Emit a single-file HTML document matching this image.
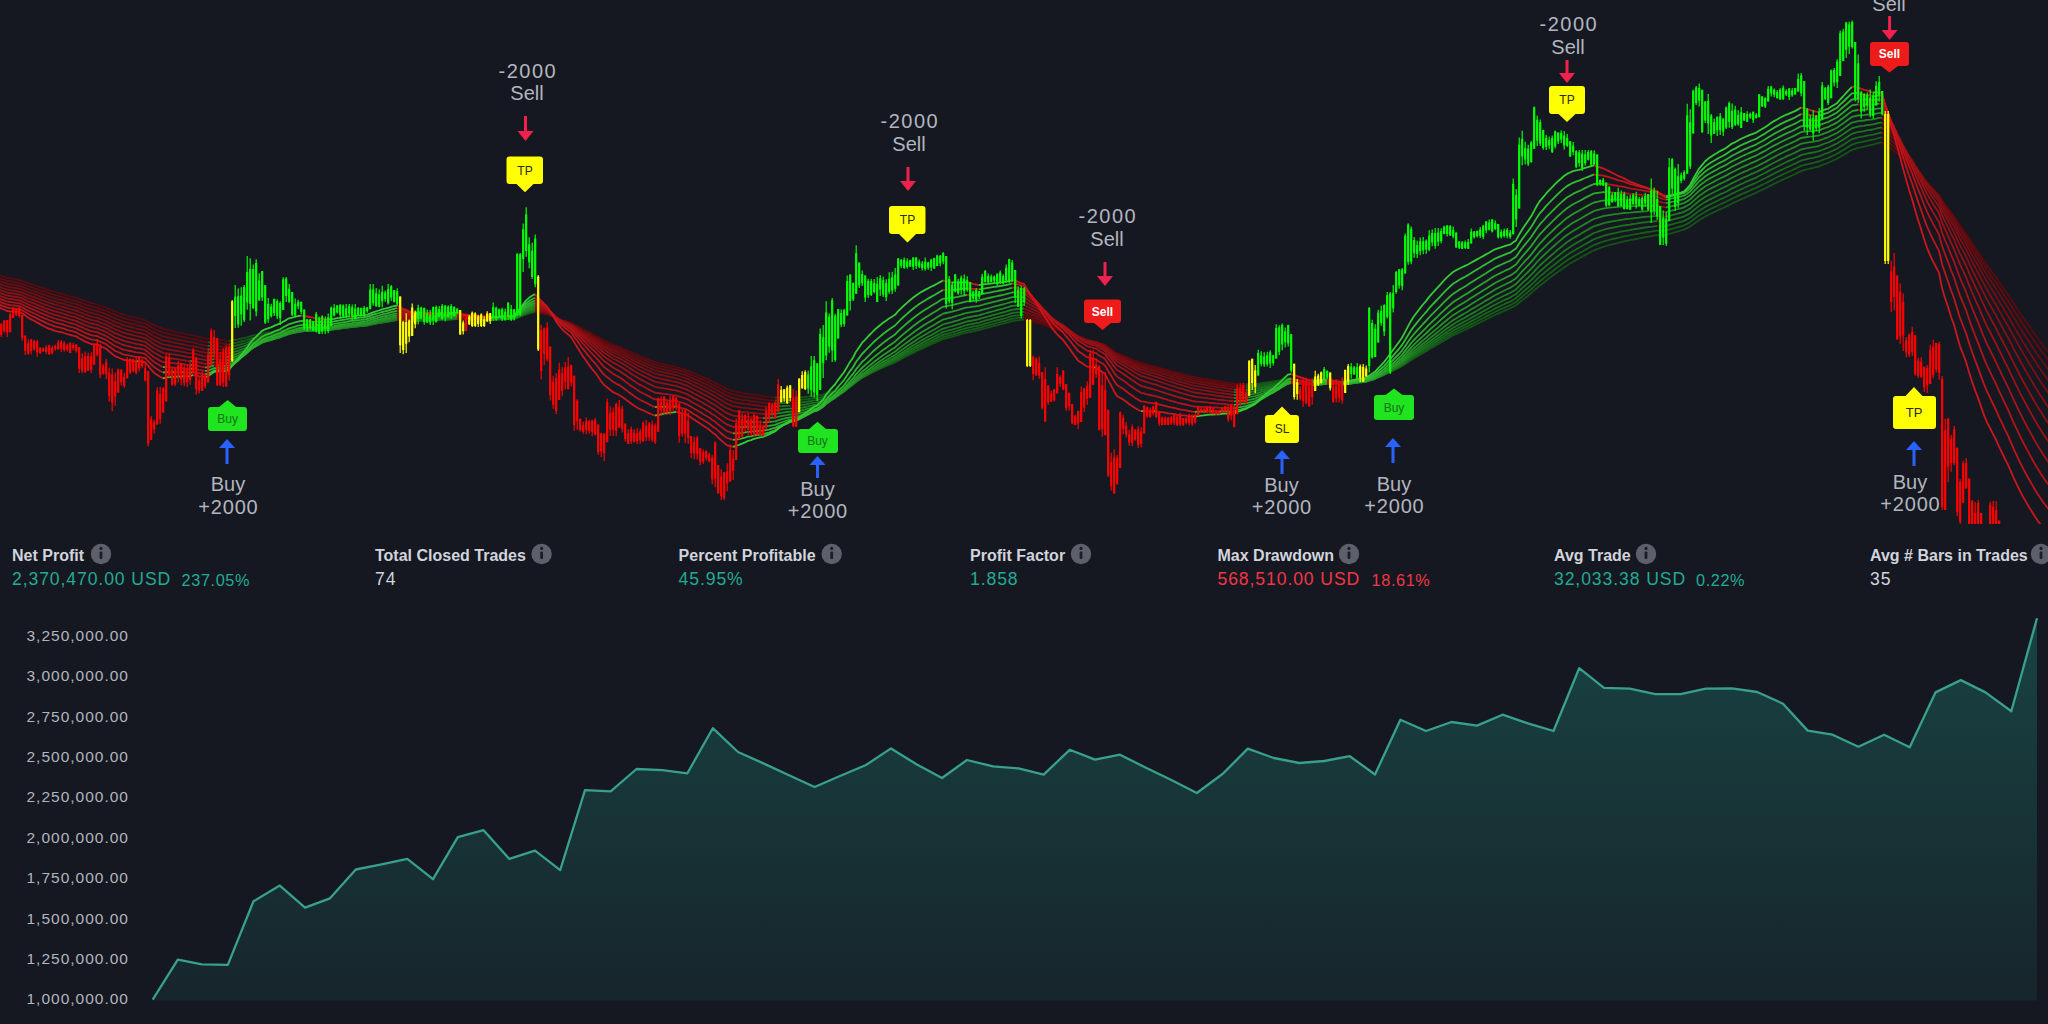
<!DOCTYPE html>
<html><head><meta charset="utf-8"><style>
html,body{margin:0;padding:0;background:#151821;}
body{width:2048px;height:1024px;overflow:hidden;}
svg{display:block;}
text{font-family:"Liberation Sans",sans-serif;}
.lt{font-size:20px;fill:#b2b5be;text-anchor:middle;}
.bt{text-anchor:middle;}
.yl{font-size:15.5px;fill:#b2b5be;text-anchor:end;letter-spacing:1.0px;}
.st{font-size:16px;font-weight:bold;fill:#d1d4dc;}
.sv{font-size:17.6px;letter-spacing:0.9px;}
.sv2{font-size:16.3px;letter-spacing:0.6px;}
</style></head><body>
<svg width="2048" height="1024" viewBox="0 0 2048 1024">
<defs>
<clipPath id="pane"><rect x="0" y="0" width="2048" height="524"/></clipPath>
<linearGradient id="eqg" x1="0" y1="0" x2="0" y2="1"><stop offset="0" stop-color="#22ab94" stop-opacity="0.29"/><stop offset="1" stop-color="#22ab94" stop-opacity="0.09"/></linearGradient>
</defs>
<rect width="2048" height="1024" fill="#151821"/>
<g clip-path="url(#pane)">
<g fill="none" stroke-width="1.8" stroke-linejoin="round"><polyline points="0.0,275.0 1.0,275.9 4.0,276.7 7.0,277.6 10.0,278.3 13.0,278.8 16.0,279.4 19.0,280.0 22.0,280.9 25.0,281.9 28.0,283.1 31.0,284.0 34.0,285.0 37.0,286.0 40.0,287.1 43.0,288.1 46.0,289.1 49.0,290.1 52.0,291.0 55.0,291.9 58.0,292.7 61.0,293.5 64.0,294.4 67.0,295.3 70.0,296.1 73.0,296.9 76.0,297.7 79.0,298.9 82.0,299.9 85.0,301.0 88.0,302.0 91.0,303.0 94.0,303.7 97.0,304.4 100.0,305.5 103.0,306.5 106.0,307.5 109.0,308.8 112.0,310.1 115.0,311.5 118.0,312.5 121.0,313.6 124.0,314.7 127.0,315.5 130.0,316.3 133.0,317.1 136.0,317.9 139.0,318.6 142.0,319.4 145.0,320.2 148.0,321.8 151.0,323.5 154.0,325.1 157.0,326.4 160.0,327.7 163.0,328.9 166.0,329.5 169.0,330.2 172.0,331.0 175.0,331.6 178.0,332.3 181.0,333.0 184.0,333.6 187.0,334.4 190.0,335.0 193.0,335.4 196.0,336.1 199.0,337.0 202.0,337.7 205.0,338.4 208.0,338.9 211.0,338.9" stroke="#580a0e"/><polyline points="211.0,338.9 214.0,338.9" stroke="#135416"/><polyline points="214.0,338.9 217.0,339.4 220.0,339.8 223.0,340.4 226.0,340.8 229.0,341.0" stroke="#580a0e"/><polyline points="229.0,341.0 232.0,340.4 235.0,339.8 238.0,339.4 241.0,338.7 244.0,338.1 247.0,337.3 250.0,336.3 253.0,335.4 256.0,334.8 259.0,334.1 262.0,333.3 265.0,332.8 268.0,332.5 271.0,332.2 274.0,331.7 277.0,331.3 280.0,330.9 283.0,330.3 286.0,329.7 289.0,329.1 292.0,328.8 295.0,328.4 298.0,328.0 301.0,327.7 304.0,327.6 307.0,327.5 310.0,327.5 313.0,327.5 316.0,327.5 319.0,327.4 322.0,327.3 325.0,327.3 328.0,327.3 331.0,327.1 334.0,326.8 337.0,326.5 340.0,326.3 343.0,326.0 346.0,325.7 349.0,325.4 352.0,325.3 355.0,325.1 358.0,324.9 361.0,324.7 364.0,324.4 367.0,324.2 370.0,323.7 373.0,323.2 376.0,322.8 379.0,322.4 382.0,321.9 385.0,321.5 388.0,321.1 391.0,320.6 394.0,320.2 397.0,319.8" stroke="#135416"/><polyline points="397.0,319.8 400.0,320.1 403.0,320.2 406.0,320.3 409.0,320.5 412.0,320.6" stroke="#580a0e"/><polyline points="412.0,320.6 415.0,320.5 418.0,320.4 421.0,320.2 424.0,320.2 427.0,320.1 430.0,320.0 433.0,320.0 436.0,319.9 439.0,319.8 442.0,319.6 445.0,319.5 448.0,319.4 451.0,319.3 454.0,319.1 457.0,319.0" stroke="#135416"/><polyline points="457.0,319.0 460.0,319.1 463.0,319.3 466.0,319.3 469.0,319.4" stroke="#580a0e"/><polyline points="469.0,319.4 472.0,319.3" stroke="#135416"/><polyline points="472.0,319.3 475.0,319.4 478.0,319.5 481.0,319.5" stroke="#580a0e"/><polyline points="481.0,319.5 484.0,319.5 487.0,319.5" stroke="#135416"/><polyline points="487.0,319.5 490.0,319.5" stroke="#580a0e"/><polyline points="490.0,319.5 493.0,319.5 496.0,319.4 499.0,319.3 502.0,319.2 505.0,319.1 508.0,319.1 511.0,318.9 514.0,318.9 517.0,317.8 520.0,316.7 523.0,315.6 526.0,314.4 529.0,313.4 532.0,312.6 535.0,311.9" stroke="#135416"/><polyline points="535.0,311.9 538.0,312.6 541.0,313.1 544.0,313.7 547.0,314.2 550.0,315.4 553.0,316.5 556.0,317.9 559.0,319.0 562.0,320.1 565.0,321.0 568.0,321.8 571.0,322.7 574.0,324.2 577.0,325.7 580.0,327.3 583.0,329.0 586.0,330.5 589.0,332.1 592.0,333.7 595.0,335.2 598.0,336.9 601.0,338.7 604.0,340.4 607.0,341.7 610.0,343.1 613.0,344.5 616.0,345.6 619.0,346.8 622.0,348.0 625.0,349.4 628.0,350.8 631.0,352.2 634.0,353.5 637.0,354.9 640.0,356.2 643.0,357.4 646.0,358.6 649.0,359.8 652.0,361.0 655.0,362.2 658.0,362.8 661.0,363.6 664.0,364.2 667.0,364.9 670.0,365.6 673.0,366.2 676.0,366.9 679.0,367.8 682.0,368.7 685.0,369.6 688.0,370.7 691.0,371.9 694.0,373.3 697.0,374.5 700.0,375.8 703.0,377.1 706.0,378.4 709.0,379.7 712.0,381.2 715.0,382.6 718.0,384.2 721.0,385.8 724.0,387.4 727.0,389.0 730.0,390.0 733.0,391.2 736.0,391.8 739.0,392.4 742.0,393.0 745.0,393.5 748.0,393.9 751.0,394.4 754.0,394.9 757.0,395.4 760.0,395.9 763.0,396.4 766.0,396.7 769.0,397.1 772.0,397.3 775.0,397.5" stroke="#580a0e"/><polyline points="775.0,397.5 778.0,397.3 781.0,397.3 784.0,397.2" stroke="#135416"/><polyline points="784.0,397.2 787.0,397.3" stroke="#580a0e"/><polyline points="787.0,397.3 790.0,397.2" stroke="#135416"/><polyline points="790.0,397.2 793.0,397.3 796.0,397.6" stroke="#580a0e"/><polyline points="796.0,397.6 799.0,397.4 802.0,397.2 805.0,397.0 808.0,396.6 811.0,396.3 814.0,395.9 817.0,395.8 820.0,395.2 823.0,394.6 826.0,393.3 829.0,392.4 832.0,391.5 835.0,390.6 838.0,389.4 841.0,388.2 844.0,387.0 847.0,385.4 850.0,383.8 853.0,382.3 856.0,380.4 859.0,378.8 862.0,377.1 865.0,375.7 868.0,374.3 871.0,372.9 874.0,371.4 877.0,370.1 880.0,368.7 883.0,367.4 886.0,366.1 889.0,364.8 892.0,363.6 895.0,362.3 898.0,360.7 901.0,359.1 904.0,357.5 907.0,356.0 910.0,354.4 913.0,352.9 916.0,351.4 919.0,350.0 922.0,348.6 925.0,347.2 928.0,345.9 931.0,344.5 934.0,343.2 937.0,341.9 940.0,340.5 943.0,339.1 946.0,338.3 949.0,337.6 952.0,336.8 955.0,335.9 958.0,335.1 961.0,334.2 964.0,333.4 967.0,332.5 970.0,332.0 973.0,331.3 976.0,330.7 979.0,330.1 982.0,329.2 985.0,328.4 988.0,327.6 991.0,326.8 994.0,326.0 997.0,325.3 1000.0,324.5 1003.0,323.7 1006.0,322.9 1009.0,322.1 1012.0,321.2 1015.0,320.7 1018.0,320.3 1021.0,320.0 1024.0,319.6" stroke="#135416"/><polyline points="1024.0,319.6 1027.0,320.4 1030.0,321.1 1033.0,321.8 1036.0,322.6 1039.0,323.4 1042.0,324.5 1045.0,325.5 1048.0,326.6 1051.0,327.8 1054.0,328.8 1057.0,329.8 1060.0,330.6 1063.0,331.4 1066.0,332.6 1069.0,333.8 1072.0,335.2 1075.0,336.5 1078.0,337.9 1081.0,338.8 1084.0,339.7 1087.0,340.7 1090.0,341.2 1093.0,341.8 1096.0,342.1 1099.0,343.3 1102.0,344.1 1105.0,345.2 1108.0,347.2 1111.0,349.1 1114.0,351.3 1117.0,353.2 1120.0,354.3 1123.0,355.4 1126.0,356.7 1129.0,358.0 1132.0,359.3 1135.0,360.6 1138.0,361.8 1141.0,363.0 1144.0,363.7 1147.0,364.6 1150.0,365.3 1153.0,366.1 1156.0,366.8 1159.0,367.7 1162.0,368.5 1165.0,369.3 1168.0,370.2 1171.0,371.0 1174.0,371.8 1177.0,372.6 1180.0,373.4 1183.0,374.2 1186.0,374.9 1189.0,375.7 1192.0,376.5 1195.0,377.1 1198.0,377.6 1201.0,378.2 1204.0,378.7 1207.0,379.2 1210.0,379.7 1213.0,380.2 1216.0,380.7 1219.0,381.2 1222.0,381.7 1225.0,382.2 1228.0,382.6 1231.0,383.1 1234.0,383.6 1237.0,383.7 1240.0,383.9 1243.0,384.1 1246.0,384.2" stroke="#580a0e"/><polyline points="1246.0,384.2 1249.0,384.2 1252.0,384.1 1255.0,384.0 1258.0,383.6 1261.0,383.2 1264.0,382.7 1267.0,382.3 1270.0,381.9 1273.0,381.5 1276.0,380.9 1279.0,380.3 1282.0,379.5 1285.0,378.8 1288.0,378.1 1291.0,377.8" stroke="#135416"/><polyline points="1291.0,377.8 1294.0,378.1 1297.0,378.3 1300.0,378.5 1303.0,378.8 1306.0,379.0 1309.0,379.3 1312.0,379.4" stroke="#580a0e"/><polyline points="1312.0,379.4 1315.0,379.4" stroke="#135416"/><polyline points="1315.0,379.4 1318.0,379.4 1321.0,379.4" stroke="#580a0e"/><polyline points="1321.0,379.4 1324.0,379.3 1327.0,379.2" stroke="#135416"/><polyline points="1327.0,379.2 1330.0,379.3 1333.0,379.5 1336.0,379.6 1339.0,379.8 1342.0,380.0" stroke="#580a0e"/><polyline points="1342.0,380.0 1345.0,379.9 1348.0,379.9 1351.0,379.6 1354.0,379.5 1357.0,379.3 1360.0,379.2 1363.0,379.1 1366.0,378.9 1369.0,378.4 1372.0,377.8 1375.0,377.2 1378.0,376.3 1381.0,375.4 1384.0,374.4 1387.0,373.1 1390.0,371.8 1393.0,370.5 1396.0,369.1 1399.0,367.7 1402.0,366.2 1405.0,364.2 1408.0,362.2 1411.0,360.2 1414.0,358.4 1417.0,356.6 1420.0,354.9 1423.0,353.1 1426.0,351.5 1429.0,349.6 1432.0,347.8 1435.0,346.1 1438.0,344.3 1441.0,342.6 1444.0,340.7 1447.0,339.0 1450.0,337.2 1453.0,335.5 1456.0,334.1 1459.0,332.6 1462.0,331.2 1465.0,329.8 1468.0,328.4 1471.0,326.9 1474.0,325.4 1477.0,323.9 1480.0,322.5 1483.0,321.0 1486.0,319.5 1489.0,318.0 1492.0,316.5 1495.0,315.0 1498.0,313.6 1501.0,312.3 1504.0,311.0 1507.0,309.7 1510.0,308.5 1513.0,306.9 1516.0,305.3 1519.0,302.8 1522.0,300.4 1525.0,298.1 1528.0,295.8 1531.0,293.4 1534.0,290.7 1537.0,288.0 1540.0,285.4 1543.0,283.2 1546.0,280.8 1549.0,278.5 1552.0,276.3 1555.0,274.0 1558.0,271.8 1561.0,269.7 1564.0,267.5 1567.0,265.4 1570.0,263.6 1573.0,261.8 1576.0,260.1 1579.0,258.5 1582.0,256.8 1585.0,255.1 1588.0,253.5 1591.0,251.8 1594.0,250.3 1597.0,249.1 1600.0,248.0 1603.0,247.0 1606.0,246.0 1609.0,245.2 1612.0,244.4 1615.0,243.6 1618.0,242.9 1621.0,242.1 1624.0,241.4 1627.0,240.8 1630.0,240.2 1633.0,239.6 1636.0,239.0 1639.0,238.4 1642.0,237.8 1645.0,237.2 1648.0,236.6 1651.0,236.2 1654.0,235.7 1657.0,235.2 1660.0,235.1 1663.0,235.0 1666.0,234.8 1669.0,234.0 1672.0,233.1 1675.0,232.2 1678.0,231.3 1681.0,230.5 1684.0,229.6 1687.0,228.1 1690.0,226.6 1693.0,224.4 1696.0,222.3 1699.0,220.2 1702.0,218.4 1705.0,216.6 1708.0,215.0 1711.0,213.5 1714.0,212.1 1717.0,210.7 1720.0,209.3 1723.0,208.0 1726.0,206.6 1729.0,205.1 1732.0,203.5 1735.0,202.2 1738.0,200.8 1741.0,199.3 1744.0,198.0 1747.0,196.7 1750.0,195.4 1753.0,194.1 1756.0,192.8 1759.0,191.3 1762.0,189.9 1765.0,188.5 1768.0,186.9 1771.0,185.4 1774.0,183.9 1777.0,182.4 1780.0,181.0 1783.0,179.5 1786.0,178.1 1789.0,176.8 1792.0,175.5 1795.0,174.1 1798.0,172.6 1801.0,171.1 1804.0,170.2 1807.0,169.4 1810.0,168.7 1813.0,168.0 1816.0,167.2 1819.0,166.5 1822.0,165.2 1825.0,164.0 1828.0,163.0 1831.0,161.5 1834.0,160.2 1837.0,158.8 1840.0,157.0 1843.0,155.3 1846.0,153.4 1849.0,151.6 1852.0,149.8 1855.0,148.8 1858.0,147.9 1861.0,147.3 1864.0,146.6 1867.0,145.8 1870.0,145.2 1873.0,144.6 1876.0,143.7 1879.0,142.9 1882.0,142.3" stroke="#135416"/><polyline points="1882.0,142.3 1885.0,144.3 1888.0,146.2 1891.0,148.7 1894.0,150.7 1897.0,153.4 1900.0,156.1 1903.0,159.1 1906.0,162.0 1909.0,165.1 1912.0,167.8 1915.0,171.1 1918.0,174.4 1921.0,177.5 1924.0,180.9 1927.0,184.2 1930.0,187.1 1933.0,189.9 1936.0,192.5 1939.0,195.3 1942.0,200.4 1945.0,204.5 1948.0,208.3 1951.0,212.4 1954.0,216.2 1957.0,220.9 1960.0,225.5 1963.0,229.5 1966.0,233.5 1969.0,238.3 1972.0,242.9 1975.0,247.4 1978.0,251.7 1981.0,256.4 1984.0,261.0 1987.0,265.4 1990.0,269.5 1993.0,273.6 1996.0,277.6 1999.0,282.1 2002.0,286.3 2005.0,290.7 2008.0,294.9 2011.0,299.5 2014.0,304.1 2017.0,308.6 2020.0,313.0 2023.0,317.4 2026.0,321.7 2029.0,325.9 2032.0,330.1 2035.0,334.4 2038.0,338.5 2041.0,342.4 2044.0,346.4 2047.0,350.2 2050.0,353.9" stroke="#580a0e"/><polyline points="0.0,277.9 1.0,278.8 4.0,279.6 7.0,280.6 10.0,281.2 13.0,281.8 16.0,282.3 19.0,282.9 22.0,283.8 25.0,284.9 28.0,286.0 31.0,287.0 34.0,288.0 37.0,289.1 40.0,290.1 43.0,291.2 46.0,292.2 49.0,293.2 52.0,294.1 55.0,295.0 58.0,295.9 61.0,296.7 64.0,297.5 67.0,298.4 70.0,299.3 73.0,300.1 76.0,300.9 79.0,302.1 82.0,303.1 85.0,304.3 88.0,305.2 91.0,306.2 94.0,307.0 97.0,307.6 100.0,308.8 103.0,309.8 106.0,310.8 109.0,312.2 112.0,313.5 115.0,314.9 118.0,316.0 121.0,317.1 124.0,318.2 127.0,319.0 130.0,319.8 133.0,320.6 136.0,321.4 139.0,322.1 142.0,322.8 145.0,323.7 148.0,325.4 151.0,327.0 154.0,328.7 157.0,330.1 160.0,331.4 163.0,332.7 166.0,333.2 169.0,333.9 172.0,334.6 175.0,335.3 178.0,335.9 181.0,336.6 184.0,337.2 187.0,337.9 190.0,338.6 193.0,338.9 196.0,339.7 199.0,340.5 202.0,341.2 205.0,342.0 208.0,342.4" stroke="#620b0f"/><polyline points="208.0,342.4 211.0,342.4 214.0,342.3" stroke="#165e18"/><polyline points="214.0,342.3 217.0,342.7 220.0,343.1 223.0,343.7 226.0,344.0 229.0,344.3" stroke="#620b0f"/><polyline points="229.0,344.3 232.0,343.5 235.0,342.9 238.0,342.3 241.0,341.5 244.0,340.8 247.0,340.0 250.0,338.8 253.0,337.8 256.0,337.1 259.0,336.3 262.0,335.4 265.0,334.9 268.0,334.5 271.0,334.2 274.0,333.6 277.0,333.1 280.0,332.7 283.0,332.0 286.0,331.4 289.0,330.7 292.0,330.3 295.0,329.8 298.0,329.4 301.0,329.1 304.0,328.9 307.0,328.8 310.0,328.8 313.0,328.8 316.0,328.7 319.0,328.6 322.0,328.5 325.0,328.4 328.0,328.4 331.0,328.1 334.0,327.9 337.0,327.5 340.0,327.3 343.0,327.0 346.0,326.6 349.0,326.3 352.0,326.1 355.0,325.9 358.0,325.6 361.0,325.4 364.0,325.2 367.0,324.9 370.0,324.4 373.0,323.8 376.0,323.3 379.0,322.9 382.0,322.4 385.0,321.9 388.0,321.5 391.0,321.0 394.0,320.5 397.0,320.1" stroke="#165e18"/><polyline points="397.0,320.1 400.0,320.3 403.0,320.5 406.0,320.6 409.0,320.8 412.0,320.9" stroke="#620b0f"/><polyline points="412.0,320.9 415.0,320.8 418.0,320.6 421.0,320.5 424.0,320.4 427.0,320.4 430.0,320.3 433.0,320.2 436.0,320.2 439.0,320.0 442.0,319.8 445.0,319.7 448.0,319.6 451.0,319.4 454.0,319.3 457.0,319.1" stroke="#165e18"/><polyline points="457.0,319.1 460.0,319.2 463.0,319.4 466.0,319.5 469.0,319.5" stroke="#620b0f"/><polyline points="469.0,319.5 472.0,319.5" stroke="#165e18"/><polyline points="472.0,319.5 475.0,319.5 478.0,319.6 481.0,319.7" stroke="#620b0f"/><polyline points="481.0,319.7 484.0,319.7 487.0,319.6" stroke="#165e18"/><polyline points="487.0,319.6 490.0,319.7" stroke="#620b0f"/><polyline points="490.0,319.7 493.0,319.6 496.0,319.5 499.0,319.4 502.0,319.3 505.0,319.2 508.0,319.2 511.0,319.0 514.0,319.0 517.0,317.8 520.0,316.7 523.0,315.4 526.0,314.2 529.0,313.1 532.0,312.3 535.0,311.5" stroke="#165e18"/><polyline points="535.0,311.5 538.0,312.2 541.0,312.8 544.0,313.5 547.0,314.0 550.0,315.3 553.0,316.5 556.0,317.9 559.0,319.2 562.0,320.3 565.0,321.2 568.0,322.1 571.0,323.1 574.0,324.7 577.0,326.3 580.0,328.0 583.0,329.8 586.0,331.4 589.0,333.1 592.0,334.8 595.0,336.4 598.0,338.2 601.0,340.1 604.0,341.9 607.0,343.3 610.0,344.7 613.0,346.2 616.0,347.4 619.0,348.6 622.0,349.9 625.0,351.3 628.0,352.8 631.0,354.2 634.0,355.7 637.0,357.1 640.0,358.5 643.0,359.7 646.0,360.9 649.0,362.2 652.0,363.5 655.0,364.7 658.0,365.3 661.0,366.1 664.0,366.7 667.0,367.4 670.0,368.1 673.0,368.8 676.0,369.4 679.0,370.3 682.0,371.2 685.0,372.1 688.0,373.3 691.0,374.6 694.0,376.0 697.0,377.2 700.0,378.6 703.0,379.9 706.0,381.3 709.0,382.6 712.0,384.2 715.0,385.6 718.0,387.3 721.0,389.0 724.0,390.6 727.0,392.2 730.0,393.3 733.0,394.5 736.0,395.1 739.0,395.7 742.0,396.3 745.0,396.7 748.0,397.1 751.0,397.6 754.0,398.0 757.0,398.5 760.0,399.0 763.0,399.5 766.0,399.8 769.0,400.1 772.0,400.3 775.0,400.5" stroke="#620b0f"/><polyline points="775.0,400.5 778.0,400.3 781.0,400.1 784.0,400.1 787.0,400.0 790.0,399.9" stroke="#165e18"/><polyline points="790.0,399.9 793.0,400.0 796.0,400.2" stroke="#620b0f"/><polyline points="796.0,400.2 799.0,400.0 802.0,399.7 805.0,399.4 808.0,399.1 811.0,398.6 814.0,398.1 817.0,398.0 820.0,397.4 823.0,396.7 826.0,395.3 829.0,394.2 832.0,393.2 835.0,392.3 838.0,390.9 841.0,389.6 844.0,388.3 847.0,386.6 850.0,384.8 853.0,383.2 856.0,381.1 859.0,379.4 862.0,377.6 865.0,376.1 868.0,374.5 871.0,373.0 874.0,371.5 877.0,370.0 880.0,368.6 883.0,367.1 886.0,365.8 889.0,364.4 892.0,363.1 895.0,361.7 898.0,360.0 901.0,358.3 904.0,356.6 907.0,355.0 910.0,353.4 913.0,351.8 916.0,350.2 919.0,348.7 922.0,347.2 925.0,345.7 928.0,344.3 931.0,342.9 934.0,341.5 937.0,340.1 940.0,338.7 943.0,337.2 946.0,336.4 949.0,335.6 952.0,334.9 955.0,333.9 958.0,333.1 961.0,332.2 964.0,331.3 967.0,330.4 970.0,329.9 973.0,329.2 976.0,328.6 979.0,328.0 982.0,327.1 985.0,326.2 988.0,325.4 991.0,324.6 994.0,323.8 997.0,323.0 1000.0,322.2 1003.0,321.4 1006.0,320.6 1009.0,319.7 1012.0,318.9 1015.0,318.4 1018.0,317.9 1021.0,317.7 1024.0,317.3" stroke="#165e18"/><polyline points="1024.0,317.3 1027.0,318.2 1030.0,319.0 1033.0,319.8 1036.0,320.7 1039.0,321.6 1042.0,322.8 1045.0,323.9 1048.0,325.1 1051.0,326.4 1054.0,327.5 1057.0,328.5 1060.0,329.4 1063.0,330.4 1066.0,331.7 1069.0,332.9 1072.0,334.4 1075.0,335.9 1078.0,337.4 1081.0,338.4 1084.0,339.4 1087.0,340.4 1090.0,340.9 1093.0,341.6 1096.0,342.0 1099.0,343.2 1102.0,344.1 1105.0,345.2 1108.0,347.4 1111.0,349.4 1114.0,351.7 1117.0,353.8 1120.0,355.0 1123.0,356.2 1126.0,357.5 1129.0,359.0 1132.0,360.3 1135.0,361.7 1138.0,363.0 1141.0,364.2 1144.0,365.0 1147.0,365.8 1150.0,366.6 1153.0,367.4 1156.0,368.2 1159.0,369.1 1162.0,369.9 1165.0,370.8 1168.0,371.7 1171.0,372.5 1174.0,373.4 1177.0,374.2 1180.0,375.1 1183.0,375.8 1186.0,376.6 1189.0,377.4 1192.0,378.2 1195.0,378.9 1198.0,379.4 1201.0,379.9 1204.0,380.5 1207.0,380.9 1210.0,381.5 1213.0,382.0 1216.0,382.5 1219.0,383.1 1222.0,383.5 1225.0,384.0 1228.0,384.4 1231.0,384.9 1234.0,385.4 1237.0,385.5 1240.0,385.7 1243.0,385.8 1246.0,386.0" stroke="#620b0f"/><polyline points="1246.0,386.0 1249.0,385.9 1252.0,385.8 1255.0,385.6 1258.0,385.2 1261.0,384.7 1264.0,384.2 1267.0,383.7 1270.0,383.2 1273.0,382.8 1276.0,382.1 1279.0,381.4 1282.0,380.6 1285.0,379.8 1288.0,379.0 1291.0,378.7" stroke="#165e18"/><polyline points="1291.0,378.7 1294.0,379.0 1297.0,379.2 1300.0,379.4 1303.0,379.7 1306.0,380.0 1309.0,380.2 1312.0,380.4" stroke="#620b0f"/><polyline points="1312.0,380.4 1315.0,380.3 1318.0,380.3 1321.0,380.3 1324.0,380.1 1327.0,380.0" stroke="#165e18"/><polyline points="1327.0,380.0 1330.0,380.1 1333.0,380.3 1336.0,380.5 1339.0,380.6 1342.0,380.9" stroke="#620b0f"/><polyline points="1342.0,380.9 1345.0,380.7 1348.0,380.6 1351.0,380.4 1354.0,380.2 1357.0,380.0 1360.0,379.8 1363.0,379.7 1366.0,379.6 1369.0,379.0 1372.0,378.4 1375.0,377.7 1378.0,376.7 1381.0,375.7 1384.0,374.6 1387.0,373.3 1390.0,371.9 1393.0,370.4 1396.0,368.9 1399.0,367.4 1402.0,365.8 1405.0,363.7 1408.0,361.6 1411.0,359.5 1414.0,357.5 1417.0,355.6 1420.0,353.8 1423.0,352.0 1426.0,350.2 1429.0,348.2 1432.0,346.3 1435.0,344.5 1438.0,342.6 1441.0,340.7 1444.0,338.8 1447.0,337.0 1450.0,335.1 1453.0,333.4 1456.0,331.8 1459.0,330.3 1462.0,328.8 1465.0,327.4 1468.0,325.9 1471.0,324.4 1474.0,322.8 1477.0,321.3 1480.0,319.7 1483.0,318.2 1486.0,316.6 1489.0,315.1 1492.0,313.5 1495.0,312.0 1498.0,310.6 1501.0,309.2 1504.0,307.9 1507.0,306.5 1510.0,305.3 1513.0,303.6 1516.0,302.0 1519.0,299.3 1522.0,296.8 1525.0,294.4 1528.0,292.0 1531.0,289.5 1534.0,286.7 1537.0,283.8 1540.0,281.2 1543.0,278.8 1546.0,276.4 1549.0,274.0 1552.0,271.7 1555.0,269.3 1558.0,267.0 1561.0,264.8 1564.0,262.6 1567.0,260.5 1570.0,258.6 1573.0,256.7 1576.0,255.0 1579.0,253.4 1582.0,251.7 1585.0,249.9 1588.0,248.3 1591.0,246.6 1594.0,245.0 1597.0,243.9 1600.0,242.8 1603.0,241.7 1606.0,240.8 1609.0,240.0 1612.0,239.2 1615.0,238.5 1618.0,237.8 1621.0,237.1 1624.0,236.4 1627.0,235.9 1630.0,235.3 1633.0,234.7 1636.0,234.1 1639.0,233.6 1642.0,233.0 1645.0,232.5 1648.0,232.0 1651.0,231.6 1654.0,231.1 1657.0,230.7 1660.0,230.7 1663.0,230.6 1666.0,230.4 1669.0,229.7 1672.0,228.8 1675.0,228.0 1678.0,227.1 1681.0,226.3 1684.0,225.3 1687.0,223.9 1690.0,222.3 1693.0,220.0 1696.0,217.8 1699.0,215.6 1702.0,213.8 1705.0,211.9 1708.0,210.3 1711.0,208.8 1714.0,207.4 1717.0,206.0 1720.0,204.5 1723.0,203.2 1726.0,201.8 1729.0,200.2 1732.0,198.7 1735.0,197.3 1738.0,195.9 1741.0,194.4 1744.0,193.1 1747.0,191.8 1750.0,190.5 1753.0,189.2 1756.0,187.9 1759.0,186.4 1762.0,184.9 1765.0,183.5 1768.0,181.9 1771.0,180.4 1774.0,178.8 1777.0,177.3 1780.0,175.9 1783.0,174.4 1786.0,173.0 1789.0,171.7 1792.0,170.3 1795.0,168.9 1798.0,167.4 1801.0,165.9 1804.0,165.1 1807.0,164.3 1810.0,163.6 1813.0,163.0 1816.0,162.2 1819.0,161.5 1822.0,160.2 1825.0,159.0 1828.0,158.0 1831.0,156.6 1834.0,155.2 1837.0,153.8 1840.0,151.9 1843.0,150.2 1846.0,148.3 1849.0,146.4 1852.0,144.6 1855.0,143.6 1858.0,142.7 1861.0,142.1 1864.0,141.5 1867.0,140.8 1870.0,140.2 1873.0,139.6 1876.0,138.8 1879.0,137.9 1882.0,137.4" stroke="#165e18"/><polyline points="1882.0,137.4 1885.0,139.6 1888.0,141.8 1891.0,144.5 1894.0,146.8 1897.0,149.7 1900.0,152.6 1903.0,155.9 1906.0,159.2 1909.0,162.4 1912.0,165.4 1915.0,169.0 1918.0,172.6 1921.0,176.0 1924.0,179.7 1927.0,183.2 1930.0,186.3 1933.0,189.3 1936.0,192.1 1939.0,195.1 1942.0,200.6 1945.0,205.0 1948.0,209.0 1951.0,213.4 1954.0,217.5 1957.0,222.5 1960.0,227.4 1963.0,231.6 1966.0,235.9 1969.0,241.0 1972.0,245.9 1975.0,250.7 1978.0,255.3 1981.0,260.2 1984.0,265.1 1987.0,269.8 1990.0,274.0 1993.0,278.4 1996.0,282.6 1999.0,287.3 2002.0,291.7 2005.0,296.4 2008.0,300.8 2011.0,305.6 2014.0,310.4 2017.0,315.1 2020.0,319.8 2023.0,324.3 2026.0,328.8 2029.0,333.2 2032.0,337.6 2035.0,342.0 2038.0,346.3 2041.0,350.4 2044.0,354.5 2047.0,358.4 2050.0,362.3" stroke="#620b0f"/><polyline points="0.0,280.8 1.0,281.7 4.0,282.6 7.0,283.5 10.0,284.2 13.0,284.7 16.0,285.2 19.0,285.8 22.0,286.7 25.0,287.8 28.0,289.0 31.0,290.1 34.0,291.0 37.0,292.1 40.0,293.2 43.0,294.3 46.0,295.3 49.0,296.3 52.0,297.3 55.0,298.2 58.0,299.1 61.0,299.8 64.0,300.7 67.0,301.6 70.0,302.5 73.0,303.3 76.0,304.1 79.0,305.3 82.0,306.4 85.0,307.6 88.0,308.5 91.0,309.6 94.0,310.3 97.0,310.9 100.0,312.1 103.0,313.1 106.0,314.2 109.0,315.6 112.0,317.0 115.0,318.4 118.0,319.5 121.0,320.6 124.0,321.7 127.0,322.5 130.0,323.3 133.0,324.1 136.0,324.9 139.0,325.6 142.0,326.3 145.0,327.2 148.0,328.9 151.0,330.7 154.0,332.4 157.0,333.8 160.0,335.2 163.0,336.4 166.0,337.0 169.0,337.6 172.0,338.3 175.0,339.0 178.0,339.6 181.0,340.2 184.0,340.8 187.0,341.6 190.0,342.2 193.0,342.5 196.0,343.2 199.0,344.1 202.0,344.8 205.0,345.5 208.0,345.9" stroke="#6b0c10"/><polyline points="208.0,345.9 211.0,345.8 214.0,345.7" stroke="#18681b"/><polyline points="214.0,345.7 217.0,346.1 220.0,346.4 223.0,347.0 226.0,347.3 229.0,347.5" stroke="#6b0c10"/><polyline points="229.0,347.5 232.0,346.6 235.0,345.8 238.0,345.2 241.0,344.3 244.0,343.5 247.0,342.5 250.0,341.2 253.0,340.1 256.0,339.3 259.0,338.4 262.0,337.4 265.0,336.8 268.0,336.4 271.0,335.9 274.0,335.3 277.0,334.7 280.0,334.3 283.0,333.5 286.0,332.8 289.0,332.0 292.0,331.5 295.0,331.0 298.0,330.6 301.0,330.2 304.0,330.0 307.0,329.9 310.0,329.8 313.0,329.8 316.0,329.7 319.0,329.6 322.0,329.4 325.0,329.4 328.0,329.3 331.0,329.0 334.0,328.7 337.0,328.3 340.0,328.0 343.0,327.7 346.0,327.3 349.0,326.9 352.0,326.7 355.0,326.5 358.0,326.2 361.0,325.9 364.0,325.6 367.0,325.3 370.0,324.8 373.0,324.2 376.0,323.7 379.0,323.2 382.0,322.6 385.0,322.1 388.0,321.7 391.0,321.1 394.0,320.6 397.0,320.1" stroke="#18681b"/><polyline points="397.0,320.1 400.0,320.4 403.0,320.6 406.0,320.6 409.0,320.9 412.0,321.0" stroke="#6b0c10"/><polyline points="412.0,321.0 415.0,320.9 418.0,320.7 421.0,320.5 424.0,320.5 427.0,320.4 430.0,320.3 433.0,320.3 436.0,320.2 439.0,320.0 442.0,319.8 445.0,319.7 448.0,319.6 451.0,319.4 454.0,319.2 457.0,319.1" stroke="#18681b"/><polyline points="457.0,319.1 460.0,319.2 463.0,319.4 466.0,319.5 469.0,319.5" stroke="#6b0c10"/><polyline points="469.0,319.5 472.0,319.4" stroke="#18681b"/><polyline points="472.0,319.4 475.0,319.5 478.0,319.6 481.0,319.7" stroke="#6b0c10"/><polyline points="481.0,319.7 484.0,319.6 487.0,319.6" stroke="#18681b"/><polyline points="487.0,319.6 490.0,319.6" stroke="#6b0c10"/><polyline points="490.0,319.6 493.0,319.6 496.0,319.5 499.0,319.4 502.0,319.3 505.0,319.1 508.0,319.1 511.0,319.0 514.0,318.9 517.0,317.7 520.0,316.4 523.0,315.1 526.0,313.7 529.0,312.7 532.0,311.7 535.0,311.0" stroke="#18681b"/><polyline points="535.0,311.0 538.0,311.7 541.0,312.3 544.0,313.1 547.0,313.7 550.0,315.0 553.0,316.3 556.0,317.9 559.0,319.2 562.0,320.4 565.0,321.4 568.0,322.4 571.0,323.4 574.0,325.1 577.0,326.9 580.0,328.7 583.0,330.6 586.0,332.3 589.0,334.2 592.0,336.0 595.0,337.6 598.0,339.5 601.0,341.6 604.0,343.5 607.0,345.0 610.0,346.5 613.0,348.0 616.0,349.3 619.0,350.5 622.0,351.9 625.0,353.4 628.0,355.0 631.0,356.5 634.0,358.0 637.0,359.5 640.0,360.9 643.0,362.2 646.0,363.5 649.0,364.8 652.0,366.1 655.0,367.4 658.0,368.0 661.0,368.8 664.0,369.4 667.0,370.1 670.0,370.8 673.0,371.5 676.0,372.1 679.0,373.0 682.0,374.0 685.0,374.9 688.0,376.1 691.0,377.5 694.0,378.9 697.0,380.2 700.0,381.6 703.0,383.0 706.0,384.3 709.0,385.8 712.0,387.4 715.0,388.9 718.0,390.6 721.0,392.4 724.0,394.1 727.0,395.7 730.0,396.9 733.0,398.0 736.0,398.7 739.0,399.3 742.0,399.8 745.0,400.2 748.0,400.5 751.0,401.1 754.0,401.4 757.0,401.9 760.0,402.3 763.0,402.8 766.0,403.1 769.0,403.4 772.0,403.5 775.0,403.6" stroke="#6b0c10"/><polyline points="775.0,403.6 778.0,403.3 781.0,403.1 784.0,403.0 787.0,402.9 790.0,402.7" stroke="#18681b"/><polyline points="790.0,402.7 793.0,402.8 796.0,403.0" stroke="#6b0c10"/><polyline points="796.0,403.0 799.0,402.7 802.0,402.3 805.0,401.9 808.0,401.5 811.0,401.0 814.0,400.4 817.0,400.2 820.0,399.5 823.0,398.7 826.0,397.2 829.0,396.0 832.0,394.9 835.0,393.8 838.0,392.3 841.0,390.9 844.0,389.5 847.0,387.6 850.0,385.6 853.0,383.9 856.0,381.6 859.0,379.8 862.0,377.8 865.0,376.2 868.0,374.6 871.0,372.9 874.0,371.2 877.0,369.7 880.0,368.2 883.0,366.6 886.0,365.1 889.0,363.7 892.0,362.3 895.0,360.8 898.0,359.0 901.0,357.1 904.0,355.4 907.0,353.6 910.0,351.9 913.0,350.2 916.0,348.5 919.0,346.9 922.0,345.3 925.0,343.8 928.0,342.3 931.0,340.9 934.0,339.4 937.0,337.9 940.0,336.4 943.0,334.9 946.0,334.1 949.0,333.3 952.0,332.5 955.0,331.5 958.0,330.7 961.0,329.7 964.0,328.8 967.0,327.9 970.0,327.4 973.0,326.7 976.0,326.1 979.0,325.5 982.0,324.6 985.0,323.7 988.0,322.9 991.0,322.0 994.0,321.2 997.0,320.4 1000.0,319.6 1003.0,318.8 1006.0,318.0 1009.0,317.1 1012.0,316.2 1015.0,315.7 1018.0,315.3 1021.0,315.1 1024.0,314.7" stroke="#18681b"/><polyline points="1024.0,314.7 1027.0,315.7 1030.0,316.7 1033.0,317.6 1036.0,318.5 1039.0,319.6 1042.0,320.9 1045.0,322.1 1048.0,323.4 1051.0,324.9 1054.0,326.1 1057.0,327.2 1060.0,328.2 1063.0,329.3 1066.0,330.7 1069.0,332.1 1072.0,333.7 1075.0,335.3 1078.0,336.9 1081.0,338.0 1084.0,339.1 1087.0,340.2 1090.0,340.8 1093.0,341.4 1096.0,341.9 1099.0,343.2 1102.0,344.1 1105.0,345.4 1108.0,347.7 1111.0,349.9 1114.0,352.4 1117.0,354.6 1120.0,355.8 1123.0,357.1 1126.0,358.5 1129.0,360.1 1132.0,361.5 1135.0,363.0 1138.0,364.3 1141.0,365.6 1144.0,366.4 1147.0,367.3 1150.0,368.2 1153.0,369.0 1156.0,369.8 1159.0,370.7 1162.0,371.6 1165.0,372.5 1168.0,373.4 1171.0,374.3 1174.0,375.2 1177.0,376.1 1180.0,376.9 1183.0,377.7 1186.0,378.5 1189.0,379.4 1192.0,380.2 1195.0,380.9 1198.0,381.4 1201.0,381.9 1204.0,382.5 1207.0,382.9 1210.0,383.5 1213.0,384.0 1216.0,384.5 1219.0,385.1 1222.0,385.5 1225.0,386.0 1228.0,386.4 1231.0,386.9 1234.0,387.4 1237.0,387.5 1240.0,387.7 1243.0,387.7 1246.0,387.9" stroke="#6b0c10"/><polyline points="1246.0,387.9 1249.0,387.8 1252.0,387.6 1255.0,387.4 1258.0,386.9 1261.0,386.3 1264.0,385.8 1267.0,385.2 1270.0,384.7 1273.0,384.2 1276.0,383.4 1279.0,382.6 1282.0,381.7 1285.0,380.8 1288.0,380.0 1291.0,379.7" stroke="#18681b"/><polyline points="1291.0,379.7 1294.0,379.9 1297.0,380.1 1300.0,380.4 1303.0,380.6 1306.0,380.9 1309.0,381.1 1312.0,381.3" stroke="#6b0c10"/><polyline points="1312.0,381.3 1315.0,381.2 1318.0,381.2 1321.0,381.2 1324.0,381.0 1327.0,380.8" stroke="#18681b"/><polyline points="1327.0,380.8 1330.0,380.9 1333.0,381.1 1336.0,381.3 1339.0,381.4 1342.0,381.7" stroke="#6b0c10"/><polyline points="1342.0,381.7 1345.0,381.5 1348.0,381.4 1351.0,381.1 1354.0,380.9 1357.0,380.6 1360.0,380.5 1363.0,380.4 1366.0,380.2 1369.0,379.5 1372.0,378.8 1375.0,378.2 1378.0,377.0 1381.0,375.9 1384.0,374.8 1387.0,373.4 1390.0,371.8 1393.0,370.3 1396.0,368.7 1399.0,367.1 1402.0,365.3 1405.0,363.1 1408.0,360.8 1411.0,358.5 1414.0,356.4 1417.0,354.4 1420.0,352.5 1423.0,350.5 1426.0,348.6 1429.0,346.5 1432.0,344.5 1435.0,342.6 1438.0,340.6 1441.0,338.6 1444.0,336.6 1447.0,334.6 1450.0,332.7 1453.0,330.8 1456.0,329.2 1459.0,327.6 1462.0,326.1 1465.0,324.6 1468.0,323.1 1471.0,321.4 1474.0,319.8 1477.0,318.2 1480.0,316.6 1483.0,315.0 1486.0,313.4 1489.0,311.8 1492.0,310.2 1495.0,308.5 1498.0,307.1 1501.0,305.7 1504.0,304.3 1507.0,302.9 1510.0,301.7 1513.0,300.0 1516.0,298.2 1519.0,295.5 1522.0,292.8 1525.0,290.3 1528.0,287.8 1531.0,285.2 1534.0,282.3 1537.0,279.2 1540.0,276.4 1543.0,274.0 1546.0,271.4 1549.0,269.0 1552.0,266.6 1555.0,264.2 1558.0,261.8 1561.0,259.5 1564.0,257.2 1567.0,255.0 1570.0,253.1 1573.0,251.2 1576.0,249.4 1579.0,247.8 1582.0,246.0 1585.0,244.3 1588.0,242.6 1591.0,240.9 1594.0,239.3 1597.0,238.2 1600.0,237.1 1603.0,236.1 1606.0,235.2 1609.0,234.4 1612.0,233.7 1615.0,233.1 1618.0,232.4 1621.0,231.7 1624.0,231.1 1627.0,230.6 1630.0,230.1 1633.0,229.5 1636.0,229.0 1639.0,228.5 1642.0,228.0 1645.0,227.5 1648.0,227.0 1651.0,226.8 1654.0,226.3 1657.0,225.9" stroke="#18681b"/><polyline points="1657.0,225.9 1660.0,226.0 1663.0,226.0" stroke="#6b0c10"/><polyline points="1663.0,226.0 1666.0,225.9 1669.0,225.2 1672.0,224.3 1675.0,223.5 1678.0,222.7 1681.0,221.8 1684.0,220.9 1687.0,219.4 1690.0,217.8 1693.0,215.5 1696.0,213.2 1699.0,210.9 1702.0,209.0 1705.0,207.1 1708.0,205.4 1711.0,204.0 1714.0,202.5 1717.0,201.0 1720.0,199.5 1723.0,198.2 1726.0,196.8 1729.0,195.2 1732.0,193.6 1735.0,192.3 1738.0,190.8 1741.0,189.4 1744.0,188.0 1747.0,186.7 1750.0,185.4 1753.0,184.1 1756.0,182.8 1759.0,181.3 1762.0,179.8 1765.0,178.3 1768.0,176.7 1771.0,175.1 1774.0,173.6 1777.0,172.1 1780.0,170.6 1783.0,169.2 1786.0,167.7 1789.0,166.4 1792.0,165.0 1795.0,163.6 1798.0,162.1 1801.0,160.6 1804.0,159.8 1807.0,159.0 1810.0,158.3 1813.0,157.8 1816.0,157.1 1819.0,156.4 1822.0,155.1 1825.0,153.9 1828.0,152.9 1831.0,151.5 1834.0,150.1 1837.0,148.7 1840.0,146.8 1843.0,145.0 1846.0,143.0 1849.0,141.1 1852.0,139.2 1855.0,138.3 1858.0,137.4 1861.0,136.9 1864.0,136.3 1867.0,135.6 1870.0,135.2 1873.0,134.6 1876.0,133.8 1879.0,133.0 1882.0,132.5" stroke="#18681b"/><polyline points="1882.0,132.5 1885.0,134.9 1888.0,137.4 1891.0,140.4 1894.0,142.9 1897.0,146.1 1900.0,149.4 1903.0,152.9 1906.0,156.5 1909.0,160.1 1912.0,163.4 1915.0,167.3 1918.0,171.1 1921.0,174.8 1924.0,178.8 1927.0,182.7 1930.0,186.0 1933.0,189.2 1936.0,192.3 1939.0,195.5 1942.0,201.4 1945.0,206.1 1948.0,210.5 1951.0,215.2 1954.0,219.6 1957.0,224.9 1960.0,230.1 1963.0,234.6 1966.0,239.2 1969.0,244.6 1972.0,249.9 1975.0,254.9 1978.0,259.7 1981.0,265.0 1984.0,270.1 1987.0,275.1 1990.0,279.6 1993.0,284.2 1996.0,288.6 1999.0,293.6 2002.0,298.3 2005.0,303.1 2008.0,307.7 2011.0,312.8 2014.0,317.8 2017.0,322.7 2020.0,327.6 2023.0,332.4 2026.0,337.1 2029.0,341.7 2032.0,346.2 2035.0,350.9 2038.0,355.3 2041.0,359.5 2044.0,363.8 2047.0,367.9 2050.0,371.8" stroke="#6b0c10"/><polyline points="0.0,283.7 1.0,284.6 4.0,285.5 7.0,286.5 10.0,287.1 13.0,287.6 16.0,288.1 19.0,288.7 22.0,289.6 25.0,290.8 28.0,292.0 31.0,293.1 34.0,294.1 37.0,295.2 40.0,296.3 43.0,297.4 46.0,298.5 49.0,299.5 52.0,300.5 55.0,301.4 58.0,302.3 61.0,303.1 64.0,303.9 67.0,304.8 70.0,305.7 73.0,306.5 76.0,307.4 79.0,308.6 82.0,309.7 85.0,310.9 88.0,311.9 91.0,312.9 94.0,313.7 97.0,314.3 100.0,315.5 103.0,316.5 106.0,317.6 109.0,319.0 112.0,320.5 115.0,321.9 118.0,323.0 121.0,324.2 124.0,325.3 127.0,326.1 130.0,326.9 133.0,327.7 136.0,328.5 139.0,329.2 142.0,329.9 145.0,330.7 148.0,332.6 151.0,334.4 154.0,336.2 157.0,337.6 160.0,339.1 163.0,340.3 166.0,340.9 169.0,341.5 172.0,342.2 175.0,342.8 178.0,343.4 181.0,344.0 184.0,344.5 187.0,345.3 190.0,345.9 193.0,346.1 196.0,346.9 199.0,347.7 202.0,348.4 205.0,349.1 208.0,349.4" stroke="#750d11"/><polyline points="208.0,349.4 211.0,349.3 214.0,349.0" stroke="#1b721d"/><polyline points="214.0,349.0 217.0,349.4 220.0,349.7 223.0,350.3 226.0,350.6 229.0,350.7" stroke="#750d11"/><polyline points="229.0,350.7 232.0,349.6 235.0,348.8 238.0,348.0 241.0,347.0 244.0,346.1 247.0,344.9 250.0,343.5 253.0,342.3 256.0,341.3 259.0,340.3 262.0,339.2 265.0,338.5 268.0,338.0 271.0,337.5 274.0,336.8 277.0,336.1 280.0,335.6 283.0,334.7 286.0,333.9 289.0,333.1 292.0,332.5 295.0,332.0 298.0,331.4 301.0,331.0 304.0,330.8 307.0,330.6 310.0,330.5 313.0,330.5 316.0,330.4 319.0,330.3 322.0,330.1 325.0,330.0 328.0,329.9 331.0,329.6 334.0,329.2 337.0,328.8 340.0,328.5 343.0,328.1 346.0,327.7 349.0,327.3 352.0,327.0 355.0,326.8 358.0,326.4 361.0,326.2 364.0,325.8 367.0,325.5 370.0,324.9 373.0,324.2 376.0,323.7 379.0,323.1 382.0,322.5 385.0,322.0 388.0,321.5 391.0,320.9 394.0,320.3 397.0,319.9" stroke="#1b721d"/><polyline points="397.0,319.9 400.0,320.2 403.0,320.4 406.0,320.4 409.0,320.8 412.0,320.8" stroke="#750d11"/><polyline points="412.0,320.8 415.0,320.7 418.0,320.5 421.0,320.3 424.0,320.3 427.0,320.2 430.0,320.1 433.0,320.1 436.0,320.0 439.0,319.8 442.0,319.6 445.0,319.4 448.0,319.3 451.0,319.2 454.0,319.0 457.0,318.8" stroke="#1b721d"/><polyline points="457.0,318.8 460.0,318.9 463.0,319.2 466.0,319.3 469.0,319.3" stroke="#750d11"/><polyline points="469.0,319.3 472.0,319.2" stroke="#1b721d"/><polyline points="472.0,319.2 475.0,319.3 478.0,319.4 481.0,319.5" stroke="#750d11"/><polyline points="481.0,319.5 484.0,319.5 487.0,319.5" stroke="#1b721d"/><polyline points="487.0,319.5 490.0,319.5" stroke="#750d11"/><polyline points="490.0,319.5 493.0,319.4 496.0,319.4 499.0,319.2 502.0,319.1 505.0,319.0 508.0,318.9 511.0,318.8 514.0,318.7 517.0,317.4 520.0,316.0 523.0,314.6 526.0,313.1 529.0,312.0 532.0,311.0 535.0,310.2" stroke="#1b721d"/><polyline points="535.0,310.2 538.0,311.0 541.0,311.7 544.0,312.5 547.0,313.2 550.0,314.6 553.0,316.1 556.0,317.8 559.0,319.2 562.0,320.5 565.0,321.6 568.0,322.7 571.0,323.7 574.0,325.6 577.0,327.5 580.0,329.5 583.0,331.5 586.0,333.4 589.0,335.3 592.0,337.2 595.0,339.0 598.0,341.1 601.0,343.3 604.0,345.3 607.0,346.9 610.0,348.5 613.0,350.1 616.0,351.4 619.0,352.7 622.0,354.2 625.0,355.8 628.0,357.4 631.0,359.0 634.0,360.6 637.0,362.1 640.0,363.6 643.0,364.9 646.0,366.3 649.0,367.7 652.0,369.1 655.0,370.3 658.0,371.0 661.0,371.7 664.0,372.4 667.0,373.0 670.0,373.7 673.0,374.4 676.0,375.0 679.0,376.0 682.0,377.0 685.0,377.9 688.0,379.1 691.0,380.5 694.0,382.0 697.0,383.4 700.0,384.8 703.0,386.3 706.0,387.7 709.0,389.2 712.0,390.9 715.0,392.4 718.0,394.2 721.0,396.0 724.0,397.8 727.0,399.5 730.0,400.7 733.0,401.9 736.0,402.5 739.0,403.1 742.0,403.5 745.0,403.9 748.0,404.2 751.0,404.7 754.0,405.0 757.0,405.4 760.0,405.9 763.0,406.3 766.0,406.5 769.0,406.8 772.0,406.8 775.0,406.9" stroke="#750d11"/><polyline points="775.0,406.9 778.0,406.5 781.0,406.2 784.0,406.0 787.0,405.9 790.0,405.6" stroke="#1b721d"/><polyline points="790.0,405.6 793.0,405.6 796.0,405.8" stroke="#750d11"/><polyline points="796.0,405.8 799.0,405.4 802.0,404.9 805.0,404.5 808.0,403.9 811.0,403.4 814.0,402.7 817.0,402.4 820.0,401.6 823.0,400.7 826.0,399.0 829.0,397.7 832.0,396.4 835.0,395.2 838.0,393.6 841.0,392.0 844.0,390.4 847.0,388.4 850.0,386.3 853.0,384.4 856.0,381.9 859.0,379.9 862.0,377.7 865.0,376.0 868.0,374.2 871.0,372.5 874.0,370.6 877.0,369.0 880.0,367.3 883.0,365.7 886.0,364.1 889.0,362.5 892.0,361.0 895.0,359.5 898.0,357.5 901.0,355.5 904.0,353.6 907.0,351.8 910.0,350.0 913.0,348.2 916.0,346.4 919.0,344.7 922.0,343.0 925.0,341.4 928.0,339.9 931.0,338.3 934.0,336.8 937.0,335.2 940.0,333.7 943.0,332.1 946.0,331.2 949.0,330.4 952.0,329.6 955.0,328.7 958.0,327.8 961.0,326.8 964.0,325.9 967.0,325.0 970.0,324.4 973.0,323.8 976.0,323.2 979.0,322.6 982.0,321.6 985.0,320.7 988.0,319.9 991.0,319.1 994.0,318.2 997.0,317.4 1000.0,316.6 1003.0,315.8 1006.0,315.0 1009.0,314.1 1012.0,313.2 1015.0,312.7 1018.0,312.3 1021.0,312.1 1024.0,311.8" stroke="#1b721d"/><polyline points="1024.0,311.8 1027.0,312.9 1030.0,314.0 1033.0,315.1 1036.0,316.2 1039.0,317.3 1042.0,318.8 1045.0,320.1 1048.0,321.7 1051.0,323.2 1054.0,324.7 1057.0,325.9 1060.0,327.0 1063.0,328.1 1066.0,329.7 1069.0,331.2 1072.0,333.0 1075.0,334.7 1078.0,336.5 1081.0,337.7 1084.0,338.9 1087.0,340.1 1090.0,340.7 1093.0,341.4 1096.0,341.9 1099.0,343.3 1102.0,344.3 1105.0,345.7 1108.0,348.2 1111.0,350.6 1114.0,353.3 1117.0,355.6 1120.0,356.9 1123.0,358.3 1126.0,359.9 1129.0,361.5 1132.0,363.0 1135.0,364.6 1138.0,366.0 1141.0,367.4 1144.0,368.2 1147.0,369.2 1150.0,370.0 1153.0,370.9 1156.0,371.7 1159.0,372.7 1162.0,373.6 1165.0,374.5 1168.0,375.5 1171.0,376.4 1174.0,377.3 1177.0,378.2 1180.0,379.1 1183.0,380.0 1186.0,380.8 1189.0,381.6 1192.0,382.5 1195.0,383.2 1198.0,383.7 1201.0,384.2 1204.0,384.7 1207.0,385.2 1210.0,385.8 1213.0,386.3 1216.0,386.8 1219.0,387.3 1222.0,387.8 1225.0,388.2 1228.0,388.7 1231.0,389.2 1234.0,389.7" stroke="#750d11"/><polyline points="1234.0,389.7 1237.0,389.7" stroke="#1b721d"/><polyline points="1237.0,389.7 1240.0,389.8 1243.0,389.9 1246.0,390.0" stroke="#750d11"/><polyline points="1246.0,390.0 1249.0,389.8 1252.0,389.6 1255.0,389.4 1258.0,388.7 1261.0,388.1 1264.0,387.5 1267.0,386.8 1270.0,386.2 1273.0,385.6 1276.0,384.8 1279.0,383.9 1282.0,382.9 1285.0,381.9 1288.0,380.9 1291.0,380.6" stroke="#1b721d"/><polyline points="1291.0,380.6 1294.0,380.9 1297.0,381.1 1300.0,381.3 1303.0,381.5 1306.0,381.8 1309.0,382.0 1312.0,382.2" stroke="#750d11"/><polyline points="1312.0,382.2 1315.0,382.1 1318.0,382.1 1321.0,382.0 1324.0,381.8 1327.0,381.6" stroke="#1b721d"/><polyline points="1327.0,381.6 1330.0,381.7 1333.0,381.9 1336.0,382.1 1339.0,382.2 1342.0,382.5" stroke="#750d11"/><polyline points="1342.0,382.5 1345.0,382.3 1348.0,382.1 1351.0,381.8 1354.0,381.6 1357.0,381.3 1360.0,381.1 1363.0,380.9 1366.0,380.7 1369.0,380.0 1372.0,379.3 1375.0,378.5 1378.0,377.3 1381.0,376.1 1384.0,374.8 1387.0,373.3 1390.0,371.6 1393.0,370.0 1396.0,368.2 1399.0,366.5 1402.0,364.6 1405.0,362.2 1408.0,359.7 1411.0,357.3 1414.0,355.0 1417.0,352.9 1420.0,350.8 1423.0,348.7 1426.0,346.7 1429.0,344.4 1432.0,342.3 1435.0,340.3 1438.0,338.2 1441.0,336.1 1444.0,333.9 1447.0,331.9 1450.0,329.8 1453.0,327.9 1456.0,326.2 1459.0,324.5 1462.0,322.9 1465.0,321.3 1468.0,319.8 1471.0,318.0 1474.0,316.4 1477.0,314.7 1480.0,313.1 1483.0,311.4 1486.0,309.7 1489.0,308.0 1492.0,306.3 1495.0,304.7 1498.0,303.2 1501.0,301.8 1504.0,300.3 1507.0,298.9 1510.0,297.6 1513.0,295.8 1516.0,294.1 1519.0,291.1 1522.0,288.4 1525.0,285.7 1528.0,283.1 1531.0,280.4 1534.0,277.3 1537.0,274.1 1540.0,271.2 1543.0,268.6 1546.0,266.0 1549.0,263.4 1552.0,260.9 1555.0,258.4 1558.0,256.0 1561.0,253.6 1564.0,251.2 1567.0,249.0 1570.0,247.0 1573.0,245.1 1576.0,243.3 1579.0,241.6 1582.0,239.9 1585.0,238.1 1588.0,236.4 1591.0,234.7 1594.0,233.0 1597.0,232.0 1600.0,230.9 1603.0,230.0 1606.0,229.1 1609.0,228.4 1612.0,227.8 1615.0,227.2 1618.0,226.6 1621.0,225.9 1624.0,225.4 1627.0,225.0 1630.0,224.6 1633.0,224.0 1636.0,223.6 1639.0,223.1 1642.0,222.7 1645.0,222.3 1648.0,221.9 1651.0,221.7 1654.0,221.3 1657.0,221.0" stroke="#1b721d"/><polyline points="1657.0,221.0 1660.0,221.2 1663.0,221.3" stroke="#750d11"/><polyline points="1663.0,221.3 1666.0,221.3 1669.0,220.6 1672.0,219.7 1675.0,219.0 1678.0,218.1 1681.0,217.3 1684.0,216.4 1687.0,214.9 1690.0,213.2 1693.0,210.8 1696.0,208.4 1699.0,206.0 1702.0,204.1 1705.0,202.1 1708.0,200.4 1711.0,198.9 1714.0,197.4 1717.0,195.9 1720.0,194.4 1723.0,193.1 1726.0,191.7 1729.0,190.1 1732.0,188.4 1735.0,187.1 1738.0,185.6 1741.0,184.1 1744.0,182.8 1747.0,181.4 1750.0,180.1 1753.0,178.8 1756.0,177.6 1759.0,176.0 1762.0,174.5 1765.0,173.0 1768.0,171.4 1771.0,169.8 1774.0,168.2 1777.0,166.7 1780.0,165.2 1783.0,163.7 1786.0,162.3 1789.0,160.9 1792.0,159.6 1795.0,158.2 1798.0,156.7 1801.0,155.1 1804.0,154.3 1807.0,153.6 1810.0,153.0 1813.0,152.5 1816.0,151.9 1819.0,151.2 1822.0,150.0 1825.0,148.8 1828.0,147.7 1831.0,146.3 1834.0,144.9 1837.0,143.5 1840.0,141.5 1843.0,139.7 1846.0,137.7 1849.0,135.7 1852.0,133.8 1855.0,132.8 1858.0,132.0 1861.0,131.6 1864.0,131.1 1867.0,130.4 1870.0,130.0 1873.0,129.5 1876.0,128.7 1879.0,127.9 1882.0,127.5" stroke="#1b721d"/><polyline points="1882.0,127.5 1885.0,130.3 1888.0,133.0 1891.0,136.4 1894.0,139.2 1897.0,142.8 1900.0,146.3 1903.0,150.3 1906.0,154.2 1909.0,158.1 1912.0,161.7 1915.0,166.0 1918.0,170.2 1921.0,174.2 1924.0,178.6 1927.0,182.8 1930.0,186.3 1933.0,189.9 1936.0,193.2 1939.0,196.6 1942.0,203.0 1945.0,208.0 1948.0,212.7 1951.0,217.8 1954.0,222.5 1957.0,228.2 1960.0,233.8 1963.0,238.6 1966.0,243.5 1969.0,249.3 1972.0,254.9 1975.0,260.3 1978.0,265.4 1981.0,271.0 1984.0,276.4 1987.0,281.7 1990.0,286.4 1993.0,291.3 1996.0,295.9 1999.0,301.2 2002.0,306.1 2005.0,311.2 2008.0,316.0 2011.0,321.3 2014.0,326.6 2017.0,331.8 2020.0,336.9 2023.0,341.9 2026.0,346.7 2029.0,351.6 2032.0,356.3 2035.0,361.1 2038.0,365.7 2041.0,370.1 2044.0,374.5 2047.0,378.7 2050.0,382.7" stroke="#750d11"/><polyline points="0.0,286.6 1.0,287.5 4.0,288.5 7.0,289.4 10.0,290.1 13.0,290.6 16.0,291.1 19.0,291.6 22.0,292.6 25.0,293.8 28.0,295.0 31.0,296.1 34.0,297.2 37.0,298.3 40.0,299.4 43.0,300.6 46.0,301.7 49.0,302.7 52.0,303.7 55.0,304.7 58.0,305.5 61.0,306.3 64.0,307.2 67.0,308.1 70.0,309.0 73.0,309.8 76.0,310.6 79.0,311.9 82.0,313.0 85.0,314.3 88.0,315.3 91.0,316.4 94.0,317.1 97.0,317.7 100.0,318.9 103.0,320.0 106.0,321.1 109.0,322.6 112.0,324.1 115.0,325.6 118.0,326.7 121.0,327.9 124.0,329.0 127.0,329.8 130.0,330.6 133.0,331.4 136.0,332.2 139.0,332.8 142.0,333.5 145.0,334.4 148.0,336.3 151.0,338.2 154.0,340.1 157.0,341.6 160.0,343.0 163.0,344.3 166.0,344.8 169.0,345.4 172.0,346.1 175.0,346.6 178.0,347.2 181.0,347.8 184.0,348.3 187.0,349.1 190.0,349.6 193.0,349.8 196.0,350.5 199.0,351.3 202.0,352.0 205.0,352.7 208.0,353.0" stroke="#7f0e13"/><polyline points="208.0,353.0 211.0,352.8 214.0,352.4" stroke="#1e7c20"/><polyline points="214.0,352.4 217.0,352.8 220.0,353.0 223.0,353.5 226.0,353.8 229.0,353.8" stroke="#7f0e13"/><polyline points="229.0,353.8 232.0,352.7 235.0,351.6 238.0,350.8 241.0,349.6 244.0,348.5 247.0,347.2 250.0,345.5 253.0,344.2 256.0,343.1 259.0,342.0 262.0,340.7 265.0,339.9 268.0,339.3 271.0,338.8 274.0,338.0 277.0,337.2 280.0,336.6 283.0,335.6 286.0,334.7 289.0,333.8 292.0,333.2 295.0,332.6 298.0,332.0 301.0,331.5 304.0,331.2 307.0,331.1 310.0,331.0 313.0,330.9 316.0,330.8 319.0,330.6 322.0,330.4 325.0,330.3 328.0,330.2 331.0,329.8 334.0,329.4 337.0,329.0 340.0,328.6 343.0,328.2 346.0,327.8 349.0,327.3 352.0,327.1 355.0,326.8 358.0,326.4 361.0,326.1 364.0,325.7 367.0,325.4 370.0,324.7 373.0,324.0 376.0,323.4 379.0,322.8 382.0,322.1 385.0,321.6 388.0,321.1 391.0,320.4 394.0,319.8 397.0,319.3" stroke="#1e7c20"/><polyline points="397.0,319.3 400.0,319.6 403.0,319.9 406.0,320.0 409.0,320.3 412.0,320.4" stroke="#7f0e13"/><polyline points="412.0,320.4 415.0,320.3 418.0,320.1 421.0,319.9 424.0,319.8 427.0,319.8 430.0,319.7 433.0,319.7 436.0,319.6 439.0,319.4 442.0,319.1 445.0,319.0 448.0,318.9 451.0,318.7 454.0,318.5 457.0,318.3" stroke="#1e7c20"/><polyline points="457.0,318.3 460.0,318.5 463.0,318.8 466.0,318.9 469.0,318.9" stroke="#7f0e13"/><polyline points="469.0,318.9 472.0,318.9" stroke="#1e7c20"/><polyline points="472.0,318.9 475.0,319.0 478.0,319.1 481.0,319.1" stroke="#7f0e13"/><polyline points="481.0,319.1 484.0,319.1 487.0,319.1" stroke="#1e7c20"/><polyline points="487.0,319.1 490.0,319.2" stroke="#7f0e13"/><polyline points="490.0,319.2 493.0,319.1 496.0,319.1 499.0,318.9 502.0,318.8 505.0,318.6 508.0,318.6 511.0,318.5 514.0,318.4 517.0,316.9 520.0,315.5 523.0,314.0 526.0,312.3 529.0,311.1 532.0,310.0 535.0,309.1" stroke="#1e7c20"/><polyline points="535.0,309.1 538.0,310.1 541.0,310.9 544.0,311.7 547.0,312.5 550.0,314.1 553.0,315.7 556.0,317.6 559.0,319.2 562.0,320.6 565.0,321.8 568.0,322.9 571.0,324.1 574.0,326.1 577.0,328.2 580.0,330.3 583.0,332.5 586.0,334.5 589.0,336.6 592.0,338.7 595.0,340.6 598.0,342.8 601.0,345.2 604.0,347.3 607.0,349.0 610.0,350.7 613.0,352.4 616.0,353.8 619.0,355.2 622.0,356.7 625.0,358.4 628.0,360.2 631.0,361.8 634.0,363.5 637.0,365.1 640.0,366.7 643.0,368.0 646.0,369.5 649.0,370.9 652.0,372.3 655.0,373.7 658.0,374.3 661.0,375.0 664.0,375.7 667.0,376.3 670.0,377.0 673.0,377.7 676.0,378.3 679.0,379.3 682.0,380.3 685.0,381.2 688.0,382.4 691.0,383.9 694.0,385.5 697.0,386.8 700.0,388.4 703.0,389.9 706.0,391.4 709.0,392.9 712.0,394.6 715.0,396.2 718.0,398.2 721.0,400.0 724.0,401.9 727.0,403.7 730.0,404.8 733.0,406.1 736.0,406.6 739.0,407.2 742.0,407.6 745.0,407.9 748.0,408.1 751.0,408.6 754.0,408.9 757.0,409.2 760.0,409.6 763.0,410.0 766.0,410.2 769.0,410.3" stroke="#7f0e13"/><polyline points="769.0,410.3 772.0,410.3" stroke="#1e7c20"/><polyline points="772.0,410.3 775.0,410.3" stroke="#7f0e13"/><polyline points="775.0,410.3 778.0,409.8 781.0,409.5 784.0,409.2 787.0,408.9 790.0,408.6 793.0,408.5" stroke="#1e7c20"/><polyline points="793.0,408.5 796.0,408.6" stroke="#7f0e13"/><polyline points="796.0,408.6 799.0,408.1 802.0,407.6 805.0,407.0 808.0,406.4 811.0,405.7 814.0,404.9 817.0,404.6 820.0,403.6 823.0,402.6 826.0,400.7 829.0,399.2 832.0,397.8 835.0,396.5 838.0,394.6 841.0,392.9 844.0,391.2 847.0,388.9 850.0,386.6 853.0,384.5 856.0,381.8 859.0,379.6 862.0,377.3 865.0,375.4 868.0,373.5 871.0,371.5 874.0,369.6 877.0,367.8 880.0,366.0 883.0,364.2 886.0,362.5 889.0,360.9 892.0,359.3 895.0,357.6 898.0,355.5 901.0,353.4 904.0,351.4 907.0,349.4 910.0,347.5 913.0,345.6 916.0,343.7 919.0,341.9 922.0,340.1 925.0,338.5 928.0,336.8 931.0,335.2 934.0,333.6 937.0,331.9 940.0,330.3 943.0,328.6 946.0,327.8 949.0,327.0 952.0,326.2 955.0,325.2 958.0,324.3 961.0,323.4 964.0,322.4 967.0,321.5 970.0,321.0 973.0,320.4 976.0,319.8 979.0,319.2 982.0,318.2 985.0,317.3 988.0,316.5 991.0,315.7 994.0,314.8 997.0,314.0 1000.0,313.2 1003.0,312.4 1006.0,311.6 1009.0,310.7 1012.0,309.8 1015.0,309.3 1018.0,309.0 1021.0,308.9 1024.0,308.5" stroke="#1e7c20"/><polyline points="1024.0,308.5 1027.0,309.8 1030.0,311.1 1033.0,312.3 1036.0,313.6 1039.0,314.9 1042.0,316.5 1045.0,318.1 1048.0,319.8 1051.0,321.5 1054.0,323.1 1057.0,324.5 1060.0,325.7 1063.0,327.0 1066.0,328.8 1069.0,330.4 1072.0,332.4 1075.0,334.3 1078.0,336.3 1081.0,337.5 1084.0,338.8 1087.0,340.1 1090.0,340.8 1093.0,341.6 1096.0,342.2 1099.0,343.7 1102.0,344.8 1105.0,346.3 1108.0,349.0 1111.0,351.6 1114.0,354.5 1117.0,357.0 1120.0,358.4 1123.0,359.9 1126.0,361.6 1129.0,363.3 1132.0,365.0 1135.0,366.6 1138.0,368.1 1141.0,369.6 1144.0,370.4 1147.0,371.4 1150.0,372.3 1153.0,373.2 1156.0,374.0 1159.0,375.0 1162.0,376.0 1165.0,377.0 1168.0,378.0 1171.0,378.9 1174.0,379.8 1177.0,380.8 1180.0,381.7 1183.0,382.6 1186.0,383.4 1189.0,384.3 1192.0,385.1 1195.0,385.8 1198.0,386.3 1201.0,386.9 1204.0,387.4 1207.0,387.8 1210.0,388.4 1213.0,388.9 1216.0,389.4 1219.0,389.9 1222.0,390.3 1225.0,390.8 1228.0,391.2 1231.0,391.7 1234.0,392.2" stroke="#7f0e13"/><polyline points="1234.0,392.2 1237.0,392.1" stroke="#1e7c20"/><polyline points="1237.0,392.1 1240.0,392.3" stroke="#7f0e13"/><polyline points="1240.0,392.3 1243.0,392.2" stroke="#1e7c20"/><polyline points="1243.0,392.2 1246.0,392.3" stroke="#7f0e13"/><polyline points="1246.0,392.3 1249.0,392.1 1252.0,391.8 1255.0,391.5 1258.0,390.7 1261.0,390.0 1264.0,389.3 1267.0,388.5 1270.0,387.8 1273.0,387.1 1276.0,386.2 1279.0,385.2 1282.0,384.1 1285.0,383.0 1288.0,381.9 1291.0,381.5" stroke="#1e7c20"/><polyline points="1291.0,381.5 1294.0,381.7 1297.0,382.0 1300.0,382.2 1303.0,382.4 1306.0,382.7 1309.0,382.9 1312.0,383.1" stroke="#7f0e13"/><polyline points="1312.0,383.1 1315.0,383.0 1318.0,382.9 1321.0,382.9 1324.0,382.6 1327.0,382.4" stroke="#1e7c20"/><polyline points="1327.0,382.4 1330.0,382.5 1333.0,382.7 1336.0,382.8 1339.0,383.0 1342.0,383.2" stroke="#7f0e13"/><polyline points="1342.0,383.2 1345.0,383.0 1348.0,382.8 1351.0,382.5 1354.0,382.2 1357.0,381.8 1360.0,381.6 1363.0,381.5 1366.0,381.2 1369.0,380.4 1372.0,379.6 1375.0,378.8 1378.0,377.4 1381.0,376.1 1384.0,374.7 1387.0,373.1 1390.0,371.3 1393.0,369.4 1396.0,367.5 1399.0,365.7 1402.0,363.6 1405.0,361.0 1408.0,358.4 1411.0,355.7 1414.0,353.3 1417.0,351.0 1420.0,348.8 1423.0,346.5 1426.0,344.3 1429.0,341.9 1432.0,339.7 1435.0,337.5 1438.0,335.3 1441.0,333.1 1444.0,330.8 1447.0,328.6 1450.0,326.4 1453.0,324.4 1456.0,322.6 1459.0,320.8 1462.0,319.2 1465.0,317.6 1468.0,315.9 1471.0,314.1 1474.0,312.4 1477.0,310.7 1480.0,308.9 1483.0,307.2 1486.0,305.5 1489.0,303.8 1492.0,302.0 1495.0,300.3 1498.0,298.8 1501.0,297.3 1504.0,295.8 1507.0,294.4 1510.0,293.0 1513.0,291.2 1516.0,289.4 1519.0,286.3 1522.0,283.4 1525.0,280.6 1528.0,277.8 1531.0,275.0 1534.0,271.8 1537.0,268.4 1540.0,265.3 1543.0,262.7 1546.0,259.9 1549.0,257.3 1552.0,254.7 1555.0,252.1 1558.0,249.5 1561.0,247.1 1564.0,244.6 1567.0,242.3 1570.0,240.3 1573.0,238.3 1576.0,236.6 1579.0,234.9 1582.0,233.1 1585.0,231.3 1588.0,229.6 1591.0,227.9 1594.0,226.3 1597.0,225.3 1600.0,224.3 1603.0,223.3 1606.0,222.6 1609.0,222.0 1612.0,221.4 1615.0,220.9 1618.0,220.4 1621.0,219.8 1624.0,219.3 1627.0,219.0 1630.0,218.7 1633.0,218.3 1636.0,217.9 1639.0,217.6 1642.0,217.2 1645.0,216.9 1648.0,216.6 1651.0,216.5 1654.0,216.2 1657.0,215.9" stroke="#1e7c20"/><polyline points="1657.0,215.9 1660.0,216.3 1663.0,216.5 1666.0,216.6" stroke="#7f0e13"/><polyline points="1666.0,216.6 1669.0,216.0 1672.0,215.1 1675.0,214.4 1678.0,213.5 1681.0,212.8 1684.0,211.9 1687.0,210.3 1690.0,208.6 1693.0,206.1 1696.0,203.5 1699.0,201.0 1702.0,199.0 1705.0,197.0 1708.0,195.2 1711.0,193.7 1714.0,192.2 1717.0,190.7 1720.0,189.2 1723.0,187.8 1726.0,186.4 1729.0,184.8 1732.0,183.1 1735.0,181.7 1738.0,180.3 1741.0,178.8 1744.0,177.4 1747.0,176.1 1750.0,174.7 1753.0,173.4 1756.0,172.2 1759.0,170.6 1762.0,169.1 1765.0,167.6 1768.0,165.9 1771.0,164.3 1774.0,162.7 1777.0,161.2 1780.0,159.6 1783.0,158.2 1786.0,156.7 1789.0,155.4 1792.0,154.0 1795.0,152.6 1798.0,151.1 1801.0,149.5 1804.0,148.8 1807.0,148.2 1810.0,147.6 1813.0,147.2 1816.0,146.6 1819.0,146.0 1822.0,144.7 1825.0,143.5 1828.0,142.5 1831.0,141.1 1834.0,139.7 1837.0,138.3 1840.0,136.2 1843.0,134.3 1846.0,132.2 1849.0,130.2 1852.0,128.2 1855.0,127.3 1858.0,126.6 1861.0,126.2 1864.0,125.8 1867.0,125.2 1870.0,124.8 1873.0,124.4 1876.0,123.7 1879.0,122.9 1882.0,122.6" stroke="#1e7c20"/><polyline points="1882.0,122.6 1885.0,125.7 1888.0,128.8 1891.0,132.6 1894.0,135.7 1897.0,139.7 1900.0,143.7 1903.0,148.0 1906.0,152.4 1909.0,156.7 1912.0,160.7 1915.0,165.3 1918.0,170.0 1921.0,174.3 1924.0,179.1 1927.0,183.6 1930.0,187.5 1933.0,191.4 1936.0,194.9 1939.0,198.6 1942.0,205.6 1945.0,211.0 1948.0,216.1 1951.0,221.6 1954.0,226.6 1957.0,232.7 1960.0,238.8 1963.0,243.9 1966.0,249.1 1969.0,255.3 1972.0,261.3 1975.0,267.0 1978.0,272.5 1981.0,278.4 1984.0,284.2 1987.0,289.8 1990.0,294.7 1993.0,299.9 1996.0,304.8 1999.0,310.3 2002.0,315.4 2005.0,320.8 2008.0,325.9 2011.0,331.5 2014.0,337.0 2017.0,342.4 2020.0,347.8 2023.0,352.9 2026.0,358.0 2029.0,363.0 2032.0,367.9 2035.0,372.9 2038.0,377.7 2041.0,382.2 2044.0,386.8 2047.0,391.1 2050.0,395.2" stroke="#7f0e13"/><polyline points="0.0,289.5 1.0,290.5 4.0,291.4 7.0,292.4 10.0,293.0 13.0,293.5 16.0,294.0 19.0,294.5 22.0,295.5 25.0,296.8 28.0,298.1 31.0,299.2 34.0,300.3 37.0,301.4 40.0,302.6 43.0,303.8 46.0,304.9 49.0,306.0 52.0,307.0 55.0,308.0 58.0,308.9 61.0,309.6 64.0,310.5 67.0,311.5 70.0,312.3 73.0,313.2 76.0,314.0 79.0,315.3 82.0,316.4 85.0,317.8 88.0,318.7 91.0,319.9 94.0,320.6 97.0,321.2 100.0,322.4 103.0,323.5 106.0,324.6 109.0,326.2 112.0,327.8 115.0,329.3 118.0,330.5 121.0,331.7 124.0,332.8 127.0,333.6 130.0,334.4 133.0,335.2 136.0,336.0 139.0,336.6 142.0,337.3 145.0,338.1 148.0,340.1 151.0,342.1 154.0,344.1 157.0,345.6 160.0,347.2 163.0,348.5 166.0,348.9 169.0,349.5 172.0,350.1 175.0,350.6 178.0,351.2 181.0,351.7 184.0,352.2 187.0,352.9 190.0,353.4 193.0,353.5 196.0,354.2 199.0,355.0 202.0,355.7 205.0,356.4 208.0,356.6" stroke="#890f14"/><polyline points="208.0,356.6 211.0,356.2 214.0,355.8" stroke="#218623"/><polyline points="214.0,355.8 217.0,356.1 220.0,356.3 223.0,356.8 226.0,357.0" stroke="#890f14"/><polyline points="226.0,357.0 229.0,357.0 232.0,355.6 235.0,354.4 238.0,353.4 241.0,352.0 244.0,350.7 247.0,349.3 250.0,347.4 253.0,345.8 256.0,344.6 259.0,343.3 262.0,341.9 265.0,341.0 268.0,340.3 271.0,339.7 274.0,338.8 277.0,337.9 280.0,337.3 283.0,336.1 286.0,335.2 289.0,334.1 292.0,333.4 295.0,332.7 298.0,332.1 301.0,331.5 304.0,331.2 307.0,331.1 310.0,331.0 313.0,330.9 316.0,330.7 319.0,330.6 322.0,330.3 325.0,330.2 328.0,330.1 331.0,329.7 334.0,329.3 337.0,328.8 340.0,328.4 343.0,327.9 346.0,327.5 349.0,327.0 352.0,326.7 355.0,326.4 358.0,326.0 361.0,325.7 364.0,325.3 367.0,324.9 370.0,324.2 373.0,323.4 376.0,322.8 379.0,322.1 382.0,321.4 385.0,320.8 388.0,320.3 391.0,319.5 394.0,318.9 397.0,318.4" stroke="#218623"/><polyline points="397.0,318.4 400.0,318.8 403.0,319.1 406.0,319.2 409.0,319.6 412.0,319.7" stroke="#890f14"/><polyline points="412.0,319.7 415.0,319.6 418.0,319.4 421.0,319.2 424.0,319.1 427.0,319.1 430.0,319.0 433.0,319.0 436.0,318.9 439.0,318.7 442.0,318.5 445.0,318.3 448.0,318.2 451.0,318.1 454.0,317.8 457.0,317.7" stroke="#218623"/><polyline points="457.0,317.7 460.0,317.9 463.0,318.2 466.0,318.3 469.0,318.4" stroke="#890f14"/><polyline points="469.0,318.4 472.0,318.3" stroke="#218623"/><polyline points="472.0,318.3 475.0,318.4 478.0,318.6 481.0,318.7 484.0,318.7 487.0,318.7 490.0,318.7" stroke="#890f14"/><polyline points="490.0,318.7 493.0,318.7 496.0,318.6 499.0,318.5 502.0,318.3 505.0,318.2 508.0,318.2 511.0,318.0 514.0,317.9 517.0,316.3 520.0,314.8 523.0,313.1 526.0,311.3 529.0,310.0 532.0,308.9 535.0,307.9" stroke="#218623"/><polyline points="535.0,307.9 538.0,309.0 541.0,309.9 544.0,310.9 547.0,311.7 550.0,313.5 553.0,315.3 556.0,317.3 559.0,319.1 562.0,320.7 565.0,322.0 568.0,323.2 571.0,324.5 574.0,326.7 577.0,329.0 580.0,331.3 583.0,333.7 586.0,335.9 589.0,338.2 592.0,340.4 595.0,342.5 598.0,344.9 601.0,347.4 604.0,349.8 607.0,351.6 610.0,353.4 613.0,355.2 616.0,356.7 619.0,358.1 622.0,359.7 625.0,361.5 628.0,363.3 631.0,365.1 634.0,366.8 637.0,368.5 640.0,370.2 643.0,371.6 646.0,373.1 649.0,374.6 652.0,376.1 655.0,377.4 658.0,378.0 661.0,378.8 664.0,379.4 667.0,380.0 670.0,380.7 673.0,381.3 676.0,381.9 679.0,382.9 682.0,383.9 685.0,384.8 688.0,386.1 691.0,387.7 694.0,389.2 697.0,390.7 700.0,392.3 703.0,393.9 706.0,395.4 709.0,396.9 712.0,398.8 715.0,400.4 718.0,402.5 721.0,404.4 724.0,406.4 727.0,408.2 730.0,409.4 733.0,410.6 736.0,411.1 739.0,411.6 742.0,412.0 745.0,412.2 748.0,412.4 751.0,412.8 754.0,412.9 757.0,413.3 760.0,413.6 763.0,414.0 766.0,414.0 769.0,414.1" stroke="#890f14"/><polyline points="769.0,414.1 772.0,414.0 775.0,413.9 778.0,413.3 781.0,412.8 784.0,412.4 787.0,412.0 790.0,411.6 793.0,411.4" stroke="#218623"/><polyline points="793.0,411.4 796.0,411.5" stroke="#890f14"/><polyline points="796.0,411.5 799.0,410.8 802.0,410.2 805.0,409.5 808.0,408.7 811.0,407.9 814.0,407.0 817.0,406.6 820.0,405.5 823.0,404.3 826.0,402.2 829.0,400.5 832.0,398.9 835.0,397.4 838.0,395.4 841.0,393.4 844.0,391.5 847.0,389.0 850.0,386.5 853.0,384.2 856.0,381.2 859.0,378.8 862.0,376.3 865.0,374.3 868.0,372.1 871.0,370.0 874.0,367.9 877.0,366.0 880.0,364.1 883.0,362.1 886.0,360.4 889.0,358.5 892.0,356.8 895.0,355.1 898.0,352.8 901.0,350.6 904.0,348.4 907.0,346.3 910.0,344.3 913.0,342.2 916.0,340.3 919.0,338.3 922.0,336.5 925.0,334.8 928.0,333.0 931.0,331.3 934.0,329.7 937.0,328.0 940.0,326.2 943.0,324.5 946.0,323.7 949.0,322.9 952.0,322.1 955.0,321.2 958.0,320.3 961.0,319.3 964.0,318.4 967.0,317.5 970.0,317.0 973.0,316.4 976.0,315.8 979.0,315.3 982.0,314.3 985.0,313.5 988.0,312.6 991.0,311.8 994.0,311.0 997.0,310.2 1000.0,309.3 1003.0,308.6 1006.0,307.7 1009.0,306.8 1012.0,305.9 1015.0,305.6 1018.0,305.3 1021.0,305.2 1024.0,305.0" stroke="#218623"/><polyline points="1024.0,305.0 1027.0,306.5 1030.0,308.0 1033.0,309.4 1036.0,310.9 1039.0,312.4 1042.0,314.2 1045.0,316.0 1048.0,317.9 1051.0,319.9 1054.0,321.7 1057.0,323.2 1060.0,324.6 1063.0,326.1 1066.0,328.0 1069.0,329.9 1072.0,332.1 1075.0,334.2 1078.0,336.3 1081.0,337.7 1084.0,339.1 1087.0,340.6 1090.0,341.3 1093.0,342.2 1096.0,342.8 1099.0,344.4 1102.0,345.6 1105.0,347.2 1108.0,350.2 1111.0,353.0 1114.0,356.2 1117.0,358.9 1120.0,360.5 1123.0,362.1 1126.0,363.8 1129.0,365.7 1132.0,367.4 1135.0,369.1 1138.0,370.8 1141.0,372.3 1144.0,373.2 1147.0,374.2 1150.0,375.1 1153.0,376.0 1156.0,376.9 1159.0,377.9 1162.0,378.9 1165.0,379.9 1168.0,381.0 1171.0,381.9 1174.0,382.8 1177.0,383.8 1180.0,384.7 1183.0,385.6 1186.0,386.4 1189.0,387.4 1192.0,388.2 1195.0,388.9 1198.0,389.4 1201.0,389.9 1204.0,390.4 1207.0,390.8 1210.0,391.3 1213.0,391.8 1216.0,392.3 1219.0,392.8 1222.0,393.2 1225.0,393.7 1228.0,394.1 1231.0,394.5 1234.0,395.0" stroke="#890f14"/><polyline points="1234.0,395.0 1237.0,394.8" stroke="#218623"/><polyline points="1237.0,394.8 1240.0,394.9" stroke="#890f14"/><polyline points="1240.0,394.9 1243.0,394.8" stroke="#218623"/><polyline points="1243.0,394.8 1246.0,394.9" stroke="#890f14"/><polyline points="1246.0,394.9 1249.0,394.5 1252.0,394.2 1255.0,393.7 1258.0,392.9 1261.0,392.0 1264.0,391.2 1267.0,390.3 1270.0,389.4 1273.0,388.7 1276.0,387.6 1279.0,386.5 1282.0,385.2 1285.0,384.0 1288.0,382.7 1291.0,382.3" stroke="#218623"/><polyline points="1291.0,382.3 1294.0,382.6 1297.0,382.8 1300.0,383.0 1303.0,383.2 1306.0,383.6 1309.0,383.8 1312.0,383.9" stroke="#890f14"/><polyline points="1312.0,383.9 1315.0,383.8 1318.0,383.7 1321.0,383.6 1324.0,383.3 1327.0,383.1" stroke="#218623"/><polyline points="1327.0,383.1 1330.0,383.1 1333.0,383.3 1336.0,383.4 1339.0,383.6 1342.0,383.9" stroke="#890f14"/><polyline points="1342.0,383.9 1345.0,383.6 1348.0,383.4 1351.0,383.0 1354.0,382.6 1357.0,382.3 1360.0,382.0 1363.0,381.8 1366.0,381.5 1369.0,380.6 1372.0,379.8 1375.0,378.8 1378.0,377.3 1381.0,375.9 1384.0,374.4 1387.0,372.6 1390.0,370.6 1393.0,368.6 1396.0,366.6 1399.0,364.5 1402.0,362.3 1405.0,359.5 1408.0,356.6 1411.0,353.7 1414.0,351.1 1417.0,348.6 1420.0,346.2 1423.0,343.8 1426.0,341.5 1429.0,338.9 1432.0,336.5 1435.0,334.2 1438.0,331.8 1441.0,329.4 1444.0,327.0 1447.0,324.7 1450.0,322.4 1453.0,320.2 1456.0,318.4 1459.0,316.6 1462.0,314.9 1465.0,313.2 1468.0,311.4 1471.0,309.6 1474.0,307.8 1477.0,306.0 1480.0,304.2 1483.0,302.4 1486.0,300.6 1489.0,298.9 1492.0,297.0 1495.0,295.3 1498.0,293.7 1501.0,292.2 1504.0,290.7 1507.0,289.3 1510.0,287.9 1513.0,286.0 1516.0,284.1 1519.0,280.9 1522.0,277.8 1525.0,274.8 1528.0,272.0 1531.0,268.9 1534.0,265.6 1537.0,262.0 1540.0,258.8 1543.0,256.0 1546.0,253.1 1549.0,250.4 1552.0,247.7 1555.0,245.0 1558.0,242.4 1561.0,239.9 1564.0,237.3 1567.0,235.0 1570.0,232.9 1573.0,231.0 1576.0,229.2 1579.0,227.5 1582.0,225.8 1585.0,223.9 1588.0,222.2 1591.0,220.5 1594.0,218.9 1597.0,218.0 1600.0,217.1 1603.0,216.2 1606.0,215.6 1609.0,215.1 1612.0,214.6 1615.0,214.2 1618.0,213.8 1621.0,213.3 1624.0,213.0 1627.0,212.8 1630.0,212.6 1633.0,212.3 1636.0,212.0 1639.0,211.8 1642.0,211.5 1645.0,211.3 1648.0,211.1" stroke="#218623"/><polyline points="1648.0,211.1 1651.0,211.1" stroke="#890f14"/><polyline points="1651.0,211.1 1654.0,210.9 1657.0,210.8" stroke="#218623"/><polyline points="1657.0,210.8 1660.0,211.3 1663.0,211.7 1666.0,211.9" stroke="#890f14"/><polyline points="1666.0,211.9 1669.0,211.3 1672.0,210.5 1675.0,209.8 1678.0,209.0 1681.0,208.3 1684.0,207.4 1687.0,205.8 1690.0,204.0 1693.0,201.3 1696.0,198.6 1699.0,196.0 1702.0,193.9 1705.0,191.8 1708.0,190.0 1711.0,188.4 1714.0,186.9 1717.0,185.4 1720.0,183.8 1723.0,182.5 1726.0,181.0 1729.0,179.4 1732.0,177.7 1735.0,176.3 1738.0,174.8 1741.0,173.3 1744.0,171.9 1747.0,170.6 1750.0,169.2 1753.0,168.0 1756.0,166.7 1759.0,165.1 1762.0,163.6 1765.0,162.1 1768.0,160.4 1771.0,158.7 1774.0,157.1 1777.0,155.5 1780.0,154.0 1783.0,152.5 1786.0,151.0 1789.0,149.7 1792.0,148.3 1795.0,146.9 1798.0,145.4 1801.0,143.8 1804.0,143.2 1807.0,142.6 1810.0,142.1 1813.0,141.8 1816.0,141.2 1819.0,140.7 1822.0,139.5 1825.0,138.3 1828.0,137.3 1831.0,135.8 1834.0,134.4 1837.0,133.0 1840.0,130.9 1843.0,128.9 1846.0,126.8 1849.0,124.6 1852.0,122.6 1855.0,121.8 1858.0,121.1 1861.0,120.8 1864.0,120.5 1867.0,119.9 1870.0,119.7 1873.0,119.3 1876.0,118.6 1879.0,117.9 1882.0,117.7" stroke="#218623"/><polyline points="1882.0,117.7 1885.0,121.3 1888.0,124.8 1891.0,129.0 1894.0,132.6 1897.0,137.0 1900.0,141.5 1903.0,146.3 1906.0,151.1 1909.0,155.9 1912.0,160.3 1915.0,165.5 1918.0,170.6 1921.0,175.4 1924.0,180.6 1927.0,185.6 1930.0,189.8 1933.0,194.0 1936.0,197.8 1939.0,201.8 1942.0,209.4 1945.0,215.3 1948.0,220.8 1951.0,226.7 1954.0,232.1 1957.0,238.8 1960.0,245.2 1963.0,250.8 1966.0,256.3 1969.0,263.0 1972.0,269.4 1975.0,275.5 1978.0,281.3 1981.0,287.6 1984.0,293.7 1987.0,299.6 1990.0,304.8 1993.0,310.3 1996.0,315.4 1999.0,321.2 2002.0,326.6 2005.0,332.3 2008.0,337.6 2011.0,343.4 2014.0,349.3 2017.0,354.9 2020.0,360.5 2023.0,365.9 2026.0,371.2 2029.0,376.4 2032.0,381.4 2035.0,386.6 2038.0,391.5 2041.0,396.2 2044.0,400.8 2047.0,405.2 2050.0,409.5" stroke="#890f14"/><polyline points="0.0,292.5 1.0,293.4 4.0,294.4 7.0,295.4 10.0,296.0 13.0,296.5 16.0,296.9 19.0,297.4 22.0,298.4 25.0,299.8 28.0,301.2 31.0,302.3 34.0,303.4 37.0,304.6 40.0,305.9 43.0,307.1 46.0,308.3 49.0,309.4 52.0,310.4 55.0,311.4 58.0,312.2 61.0,313.0 64.0,313.9 67.0,314.9 70.0,315.8 73.0,316.6 76.0,317.4 79.0,318.8 82.0,320.0 85.0,321.3 88.0,322.3 91.0,323.5 94.0,324.2 97.0,324.7 100.0,326.0 103.0,327.1 106.0,328.3 109.0,329.9 112.0,331.6 115.0,333.2 118.0,334.4 121.0,335.6 124.0,336.8 127.0,337.6 130.0,338.3 133.0,339.1 136.0,339.9 139.0,340.4 142.0,341.1 145.0,341.9 148.0,344.0 151.0,346.2 154.0,348.3 157.0,349.8 160.0,351.4 163.0,352.8 166.0,353.2 169.0,353.6 172.0,354.2 175.0,354.7 178.0,355.2 181.0,355.7 184.0,356.1 187.0,356.8 190.0,357.3 193.0,357.3 196.0,358.0 199.0,358.8 202.0,359.4 205.0,360.1 208.0,360.2" stroke="#931015"/><polyline points="208.0,360.2 211.0,359.7 214.0,359.1" stroke="#249125"/><polyline points="214.0,359.1 217.0,359.4 220.0,359.5 223.0,359.9 226.0,360.1" stroke="#931015"/><polyline points="226.0,360.1 229.0,360.0 232.0,358.3 235.0,356.9 238.0,355.7 241.0,354.1 244.0,352.7 247.0,351.0 250.0,348.9 253.0,347.1 256.0,345.7 259.0,344.2 262.0,342.6 265.0,341.6 268.0,340.8 271.0,340.1 274.0,339.1 277.0,338.2 280.0,337.4 283.0,336.2 286.0,335.1 289.0,333.9 292.0,333.2 295.0,332.4 298.0,331.7 301.0,331.1 304.0,330.7 307.0,330.6 310.0,330.4 313.0,330.4 316.0,330.2 319.0,330.1 322.0,329.8 325.0,329.7 328.0,329.6 331.0,329.2 334.0,328.7 337.0,328.2 340.0,327.8 343.0,327.2 346.0,326.7 349.0,326.2 352.0,325.9 355.0,325.6 358.0,325.2 361.0,324.9 364.0,324.5 367.0,324.0 370.0,323.3 373.0,322.4 376.0,321.7 379.0,321.1 382.0,320.3 385.0,319.7 388.0,319.1 391.0,318.3 394.0,317.6 397.0,317.1" stroke="#249125"/><polyline points="397.0,317.1 400.0,317.6 403.0,317.9 406.0,318.1 409.0,318.5 412.0,318.7" stroke="#931015"/><polyline points="412.0,318.7 415.0,318.6 418.0,318.4 421.0,318.2" stroke="#249125"/><polyline points="421.0,318.2 424.0,318.2" stroke="#931015"/><polyline points="424.0,318.2 427.0,318.2 430.0,318.1 433.0,318.1 436.0,318.0 439.0,317.8 442.0,317.6 445.0,317.4 448.0,317.4 451.0,317.2 454.0,317.0 457.0,316.8" stroke="#249125"/><polyline points="457.0,316.8 460.0,317.0 463.0,317.4 466.0,317.6 469.0,317.7" stroke="#931015"/><polyline points="469.0,317.7 472.0,317.6" stroke="#249125"/><polyline points="472.0,317.6 475.0,317.8 478.0,318.0 481.0,318.1 484.0,318.1 487.0,318.1 490.0,318.2" stroke="#931015"/><polyline points="490.0,318.2 493.0,318.2 496.0,318.1 499.0,318.0 502.0,317.8 505.0,317.7 508.0,317.7 511.0,317.5 514.0,317.4 517.0,315.7 520.0,314.0 523.0,312.1 526.0,310.2 529.0,308.7 532.0,307.5 535.0,306.5" stroke="#249125"/><polyline points="535.0,306.5 538.0,307.7 541.0,308.7 544.0,309.8 547.0,310.8 550.0,312.8 553.0,314.8 556.0,317.2 559.0,319.1 562.0,320.8 565.0,322.3 568.0,323.7 571.0,325.1 574.0,327.6 577.0,330.0 580.0,332.6 583.0,335.3 586.0,337.6 589.0,340.2 592.0,342.6 595.0,344.8 598.0,347.4 601.0,350.2 604.0,352.7 607.0,354.6 610.0,356.5 613.0,358.5 616.0,360.0 619.0,361.5 622.0,363.2 625.0,365.1 628.0,367.1 631.0,368.9 634.0,370.8 637.0,372.5 640.0,374.3 643.0,375.7 646.0,377.3 649.0,378.8 652.0,380.4 655.0,381.8 658.0,382.3 661.0,383.0 664.0,383.6 667.0,384.2 670.0,384.8 673.0,385.4 676.0,385.9 679.0,386.9 682.0,387.9 685.0,388.9 688.0,390.2 691.0,391.8 694.0,393.5 697.0,394.9 700.0,396.6 703.0,398.2 706.0,399.8 709.0,401.4 712.0,403.4 715.0,405.0 718.0,407.2 721.0,409.2 724.0,411.3 727.0,413.2 730.0,414.4 733.0,415.6 736.0,416.0 739.0,416.4 742.0,416.7 745.0,416.8 748.0,416.9 751.0,417.2 754.0,417.3 757.0,417.5 760.0,417.8 763.0,418.1" stroke="#931015"/><polyline points="763.0,418.1 766.0,418.0 769.0,418.0 772.0,417.8 775.0,417.6 778.0,416.8 781.0,416.1 784.0,415.6 787.0,415.1 790.0,414.5 793.0,414.3 796.0,414.2 799.0,413.5 802.0,412.6 805.0,411.9 808.0,410.9 811.0,410.0 814.0,408.9 817.0,408.4 820.0,407.1 823.0,405.7 826.0,403.3 829.0,401.5 832.0,399.7 835.0,398.0 838.0,395.7 841.0,393.5 844.0,391.4 847.0,388.6 850.0,385.8 853.0,383.3 856.0,380.0 859.0,377.3 862.0,374.5 865.0,372.4 868.0,370.0 871.0,367.8 874.0,365.5 877.0,363.4 880.0,361.3 883.0,359.2 886.0,357.3 889.0,355.4 892.0,353.6 895.0,351.7 898.0,349.3 901.0,346.9 904.0,344.6 907.0,342.4 910.0,340.2 913.0,338.0 916.0,336.0 919.0,333.9 922.0,332.0 925.0,330.2 928.0,328.4 931.0,326.7 934.0,324.9 937.0,323.1 940.0,321.4 943.0,319.6 946.0,318.8 949.0,318.0 952.0,317.3 955.0,316.4 958.0,315.5 961.0,314.6 964.0,313.6 967.0,312.8 970.0,312.4 973.0,311.9 976.0,311.3 979.0,310.9 982.0,309.9 985.0,309.1 988.0,308.3 991.0,307.5 994.0,306.7 997.0,305.9 1000.0,305.1 1003.0,304.3 1006.0,303.5 1009.0,302.6 1012.0,301.8 1015.0,301.4 1018.0,301.2" stroke="#249125"/><polyline points="1018.0,301.2 1021.0,301.3" stroke="#931015"/><polyline points="1021.0,301.3 1024.0,301.1" stroke="#249125"/><polyline points="1024.0,301.1 1027.0,302.9 1030.0,304.7 1033.0,306.3 1036.0,308.0 1039.0,309.8 1042.0,311.9 1045.0,313.9 1048.0,316.2 1051.0,318.4 1054.0,320.5 1057.0,322.2 1060.0,323.8 1063.0,325.4 1066.0,327.6 1069.0,329.7 1072.0,332.1 1075.0,334.4 1078.0,336.8 1081.0,338.4 1084.0,339.9 1087.0,341.5 1090.0,342.3 1093.0,343.3 1096.0,343.9 1099.0,345.7 1102.0,347.0 1105.0,348.7 1108.0,352.0 1111.0,355.1 1114.0,358.6 1117.0,361.5 1120.0,363.2 1123.0,364.9 1126.0,366.7 1129.0,368.7 1132.0,370.6 1135.0,372.4 1138.0,374.2 1141.0,375.8 1144.0,376.7 1147.0,377.7 1150.0,378.6 1153.0,379.5 1156.0,380.4 1159.0,381.4 1162.0,382.5 1165.0,383.5 1168.0,384.5 1171.0,385.5 1174.0,386.4 1177.0,387.5 1180.0,388.4 1183.0,389.2 1186.0,390.1 1189.0,391.0 1192.0,391.8 1195.0,392.5 1198.0,393.0 1201.0,393.4 1204.0,393.9 1207.0,394.3 1210.0,394.7 1213.0,395.2 1216.0,395.7 1219.0,396.1 1222.0,396.5 1225.0,396.9 1228.0,397.2 1231.0,397.6 1234.0,398.1" stroke="#931015"/><polyline points="1234.0,398.1 1237.0,397.8" stroke="#249125"/><polyline points="1237.0,397.8 1240.0,397.8" stroke="#931015"/><polyline points="1240.0,397.8 1243.0,397.7 1246.0,397.6 1249.0,397.2 1252.0,396.7 1255.0,396.2 1258.0,395.1 1261.0,394.1 1264.0,393.1 1267.0,392.1 1270.0,391.1 1273.0,390.2 1276.0,388.9 1279.0,387.7 1282.0,386.2 1285.0,384.8 1288.0,383.4 1291.0,382.9" stroke="#249125"/><polyline points="1291.0,382.9 1294.0,383.2 1297.0,383.4 1300.0,383.7 1303.0,383.9 1306.0,384.2 1309.0,384.4 1312.0,384.6" stroke="#931015"/><polyline points="1312.0,384.6 1315.0,384.4 1318.0,384.3 1321.0,384.2 1324.0,383.9 1327.0,383.5" stroke="#249125"/><polyline points="1327.0,383.5 1330.0,383.6 1333.0,383.8 1336.0,383.9 1339.0,384.1 1342.0,384.4" stroke="#931015"/><polyline points="1342.0,384.4 1345.0,384.1 1348.0,383.8 1351.0,383.4 1354.0,383.0 1357.0,382.6 1360.0,382.3 1363.0,382.1 1366.0,381.7 1369.0,380.7 1372.0,379.7 1375.0,378.7 1378.0,377.0 1381.0,375.5 1384.0,373.8 1387.0,371.8 1390.0,369.6 1393.0,367.4 1396.0,365.2 1399.0,362.9 1402.0,360.5 1405.0,357.4 1408.0,354.2 1411.0,351.1 1414.0,348.2 1417.0,345.6 1420.0,343.0 1423.0,340.4 1426.0,337.9 1429.0,335.1 1432.0,332.6 1435.0,330.1 1438.0,327.6 1441.0,325.0 1444.0,322.5 1447.0,320.0 1450.0,317.6 1453.0,315.3 1456.0,313.4 1459.0,311.5 1462.0,309.7 1465.0,308.0 1468.0,306.2 1471.0,304.3 1474.0,302.4 1477.0,300.6 1480.0,298.8 1483.0,296.9 1486.0,295.1 1489.0,293.2 1492.0,291.4 1495.0,289.5 1498.0,288.0 1501.0,286.5 1504.0,285.0 1507.0,283.5 1510.0,282.2 1513.0,280.2 1516.0,278.3 1519.0,274.8 1522.0,271.5 1525.0,268.4 1528.0,265.4 1531.0,262.2 1534.0,258.6 1537.0,254.9 1540.0,251.5 1543.0,248.6 1546.0,245.6 1549.0,242.7 1552.0,240.0 1555.0,237.2 1558.0,234.5 1561.0,231.9 1564.0,229.3 1567.0,226.9 1570.0,224.8 1573.0,222.8 1576.0,221.1 1579.0,219.5 1582.0,217.7 1585.0,215.9 1588.0,214.3 1591.0,212.6 1594.0,211.0 1597.0,210.2 1600.0,209.4 1603.0,208.6 1606.0,208.1 1609.0,207.7 1612.0,207.4 1615.0,207.2 1618.0,206.9 1621.0,206.6 1624.0,206.4 1627.0,206.4 1630.0,206.3 1633.0,206.1 1636.0,206.0 1639.0,205.9 1642.0,205.8 1645.0,205.7 1648.0,205.6" stroke="#249125"/><polyline points="1648.0,205.6 1651.0,205.8" stroke="#931015"/><polyline points="1651.0,205.8 1654.0,205.7" stroke="#249125"/><polyline points="1654.0,205.7 1657.0,205.7 1660.0,206.4 1663.0,206.9 1666.0,207.3" stroke="#931015"/><polyline points="1666.0,207.3 1669.0,206.8 1672.0,206.0 1675.0,205.3 1678.0,204.6 1681.0,203.9 1684.0,203.1 1687.0,201.4 1690.0,199.5 1693.0,196.6 1696.0,193.8 1699.0,191.0 1702.0,188.8 1705.0,186.6 1708.0,184.7 1711.0,183.2 1714.0,181.6 1717.0,180.0 1720.0,178.5 1723.0,177.1 1726.0,175.6 1729.0,173.9 1732.0,172.2 1735.0,170.8 1738.0,169.3 1741.0,167.8 1744.0,166.4 1747.0,165.1 1750.0,163.7 1753.0,162.4 1756.0,161.2 1759.0,159.5 1762.0,158.0 1765.0,156.5 1768.0,154.8 1771.0,153.0 1774.0,151.4 1777.0,149.8 1780.0,148.3 1783.0,146.8 1786.0,145.3 1789.0,144.0 1792.0,142.6 1795.0,141.2 1798.0,139.6 1801.0,138.0 1804.0,137.5 1807.0,137.0 1810.0,136.6 1813.0,136.4 1816.0,135.9 1819.0,135.5 1822.0,134.3 1825.0,133.1 1828.0,132.1 1831.0,130.6 1834.0,129.2 1837.0,127.8 1840.0,125.5 1843.0,123.5 1846.0,121.3 1849.0,119.0 1852.0,116.9 1855.0,116.1 1858.0,115.5 1861.0,115.4 1864.0,115.2 1867.0,114.7 1870.0,114.6 1873.0,114.3 1876.0,113.7 1879.0,113.1 1882.0,112.9" stroke="#249125"/><polyline points="1882.0,112.9 1885.0,117.0 1888.0,121.0 1891.0,125.8 1894.0,129.9 1897.0,134.9 1900.0,139.9 1903.0,145.4 1906.0,150.8 1909.0,156.1 1912.0,161.0 1915.0,166.7 1918.0,172.3 1921.0,177.6 1924.0,183.4 1927.0,188.8 1930.0,193.5 1933.0,198.0 1936.0,202.2 1939.0,206.5 1942.0,214.8 1945.0,221.3 1948.0,227.2 1951.0,233.6 1954.0,239.4 1957.0,246.6 1960.0,253.6 1963.0,259.5 1966.0,265.5 1969.0,272.6 1972.0,279.5 1975.0,286.0 1978.0,292.2 1981.0,298.9 1984.0,305.4 1987.0,311.7 1990.0,317.1 1993.0,322.8 1996.0,328.2 1999.0,334.3 2002.0,340.0 2005.0,345.9 2008.0,351.5 2011.0,357.6 2014.0,363.7 2017.0,369.5 2020.0,375.4 2023.0,381.0 2026.0,386.5 2029.0,391.8 2032.0,397.0 2035.0,402.4 2038.0,407.4 2041.0,412.1 2044.0,416.9 2047.0,421.3 2050.0,425.6" stroke="#931015"/><polyline points="0.0,295.4 1.0,296.4 4.0,297.3 7.0,298.4 10.0,299.0 13.0,299.4 16.0,299.8 19.0,300.3 22.0,301.4 25.0,302.8 28.0,304.3 31.0,305.5 34.0,306.6 37.0,307.9 40.0,309.2 43.0,310.4 46.0,311.7 49.0,312.8 52.0,313.8 55.0,314.8 58.0,315.7 61.0,316.5 64.0,317.4 67.0,318.4 70.0,319.3 73.0,320.1 76.0,320.9 79.0,322.4 82.0,323.6 85.0,325.0 88.0,326.0 91.0,327.2 94.0,327.8 97.0,328.4 100.0,329.7 103.0,330.8 106.0,332.0 109.0,333.8 112.0,335.5 115.0,337.3 118.0,338.4 121.0,339.7 124.0,340.9 127.0,341.6 130.0,342.3 133.0,343.1 136.0,343.9 139.0,344.3 142.0,345.0 145.0,345.8 148.0,348.1 151.0,350.4 154.0,352.6 157.0,354.2 160.0,355.9 163.0,357.3 166.0,357.6 169.0,358.0 172.0,358.5 175.0,358.9 178.0,359.4 181.0,359.8 184.0,360.1 187.0,360.8 190.0,361.2" stroke="#9d1116"/><polyline points="190.0,361.2 193.0,361.1" stroke="#279c28"/><polyline points="193.0,361.1 196.0,361.7 199.0,362.5 202.0,363.2 205.0,363.8 208.0,363.8" stroke="#9d1116"/><polyline points="208.0,363.8 211.0,363.1 214.0,362.4" stroke="#279c28"/><polyline points="214.0,362.4 217.0,362.5 220.0,362.6 223.0,363.0 226.0,363.0" stroke="#9d1116"/><polyline points="226.0,363.0 229.0,362.8 232.0,360.9 235.0,359.3 238.0,357.8 241.0,356.0 244.0,354.3 247.0,352.3 250.0,349.9 253.0,347.8 256.0,346.2 259.0,344.6 262.0,342.7 265.0,341.6 268.0,340.7 271.0,339.9 274.0,338.8 277.0,337.7 280.0,336.9 283.0,335.5 286.0,334.3 289.0,333.0 292.0,332.2 295.0,331.3 298.0,330.6 301.0,329.9 304.0,329.6 307.0,329.4 310.0,329.3 313.0,329.3 316.0,329.2 319.0,329.0 322.0,328.8 325.0,328.7 328.0,328.6 331.0,328.1 334.0,327.7 337.0,327.1 340.0,326.6 343.0,326.1 346.0,325.6 349.0,325.0 352.0,324.7 355.0,324.4 358.0,324.0 361.0,323.6 364.0,323.2 367.0,322.8 370.0,322.0 373.0,321.0 376.0,320.3 379.0,319.6 382.0,318.8 385.0,318.1 388.0,317.5 391.0,316.7 394.0,316.0 397.0,315.4" stroke="#279c28"/><polyline points="397.0,315.4 400.0,316.0 403.0,316.4 406.0,316.6 409.0,317.2 412.0,317.5" stroke="#9d1116"/><polyline points="412.0,317.5 415.0,317.4 418.0,317.2 421.0,317.0" stroke="#279c28"/><polyline points="421.0,317.0 424.0,317.0" stroke="#9d1116"/><polyline points="424.0,317.0 427.0,317.0 430.0,317.0" stroke="#279c28"/><polyline points="430.0,317.0 433.0,317.0" stroke="#9d1116"/><polyline points="433.0,317.0 436.0,317.0 439.0,316.8 442.0,316.5 445.0,316.4 448.0,316.3 451.0,316.2 454.0,316.0 457.0,315.8" stroke="#279c28"/><polyline points="457.0,315.8 460.0,316.1 463.0,316.6 466.0,316.8 469.0,316.9" stroke="#9d1116"/><polyline points="469.0,316.9 472.0,316.9" stroke="#279c28"/><polyline points="472.0,316.9 475.0,317.1 478.0,317.3 481.0,317.5 484.0,317.5 487.0,317.5 490.0,317.6" stroke="#9d1116"/><polyline points="490.0,317.6 493.0,317.6 496.0,317.6 499.0,317.5 502.0,317.3 505.0,317.1" stroke="#279c28"/><polyline points="505.0,317.1 508.0,317.1" stroke="#9d1116"/><polyline points="508.0,317.1 511.0,317.0 514.0,316.9 517.0,314.9 520.0,313.0 523.0,311.0 526.0,308.8 529.0,307.2 532.0,305.9 535.0,304.8" stroke="#279c28"/><polyline points="535.0,304.8 538.0,306.2 541.0,307.4 544.0,308.7 547.0,309.9 550.0,312.2 553.0,314.4 556.0,317.1 559.0,319.3 562.0,321.2 565.0,322.9 568.0,324.4 571.0,326.0 574.0,328.7 577.0,331.5 580.0,334.3 583.0,337.3 586.0,339.9 589.0,342.6 592.0,345.3 595.0,347.7 598.0,350.6 601.0,353.6 604.0,356.3 607.0,358.4 610.0,360.4 613.0,362.5 616.0,364.1 619.0,365.7 622.0,367.5 625.0,369.5 628.0,371.5 631.0,373.5 634.0,375.4 637.0,377.3 640.0,379.1 643.0,380.6 646.0,382.2 649.0,383.8 652.0,385.4 655.0,386.8 658.0,387.3 661.0,387.9 664.0,388.4 667.0,388.9 670.0,389.5 673.0,390.0 676.0,390.4 679.0,391.4 682.0,392.4 685.0,393.4 688.0,394.7 691.0,396.4 694.0,398.1 697.0,399.6 700.0,401.3 703.0,403.1 706.0,404.7 709.0,406.3 712.0,408.4 715.0,410.1 718.0,412.4 721.0,414.5 724.0,416.7 727.0,418.7 730.0,419.8 733.0,421.0 736.0,421.3 739.0,421.6 742.0,421.8 745.0,421.8" stroke="#9d1116"/><polyline points="745.0,421.8 748.0,421.7" stroke="#279c28"/><polyline points="748.0,421.7 751.0,421.9" stroke="#9d1116"/><polyline points="751.0,421.9 754.0,421.9" stroke="#279c28"/><polyline points="754.0,421.9 757.0,422.0 760.0,422.1 763.0,422.3" stroke="#9d1116"/><polyline points="763.0,422.3 766.0,422.1 769.0,422.0 772.0,421.6 775.0,421.3 778.0,420.3 781.0,419.4 784.0,418.7 787.0,418.0 790.0,417.3 793.0,417.0 796.0,416.8 799.0,415.9 802.0,414.9 805.0,413.9 808.0,412.8 811.0,411.7 814.0,410.4 817.0,409.8 820.0,408.3 823.0,406.7 826.0,404.0 829.0,401.9 832.0,399.8 835.0,397.9 838.0,395.3 841.0,392.9 844.0,390.5 847.0,387.4 850.0,384.3 853.0,381.5 856.0,377.8 859.0,374.9 862.0,371.8 865.0,369.5 868.0,366.9 871.0,364.5 874.0,362.0 877.0,359.7 880.0,357.5 883.0,355.3 886.0,353.3 889.0,351.2 892.0,349.3 895.0,347.4 898.0,344.7 901.0,342.1 904.0,339.7 907.0,337.4 910.0,335.1 913.0,332.8 916.0,330.6 919.0,328.5 922.0,326.5 925.0,324.6 928.0,322.8 931.0,321.0 934.0,319.2 937.0,317.3 940.0,315.5 943.0,313.7 946.0,313.0 949.0,312.3 952.0,311.7 955.0,310.8 958.0,310.0 961.0,309.1 964.0,308.2 967.0,307.4 970.0,307.1 973.0,306.7 976.0,306.3 979.0,305.9 982.0,305.0 985.0,304.2 988.0,303.4 991.0,302.7 994.0,301.9 997.0,301.2 1000.0,300.4 1003.0,299.7 1006.0,299.0 1009.0,298.1 1012.0,297.2 1015.0,297.0 1018.0,296.9" stroke="#279c28"/><polyline points="1018.0,296.9 1021.0,297.1" stroke="#9d1116"/><polyline points="1021.0,297.1 1024.0,297.1" stroke="#279c28"/><polyline points="1024.0,297.1 1027.0,299.2 1030.0,301.3 1033.0,303.3 1036.0,305.3 1039.0,307.4 1042.0,309.9 1045.0,312.2 1048.0,314.7 1051.0,317.3 1054.0,319.6 1057.0,321.6 1060.0,323.4 1063.0,325.3 1066.0,327.7 1069.0,330.1 1072.0,332.8 1075.0,335.4 1078.0,338.1 1081.0,339.8 1084.0,341.5 1087.0,343.2 1090.0,344.1 1093.0,345.1 1096.0,345.7 1099.0,347.7 1102.0,349.1 1105.0,351.0 1108.0,354.6 1111.0,358.0 1114.0,361.8 1117.0,365.1 1120.0,366.9 1123.0,368.7 1126.0,370.6 1129.0,372.8 1132.0,374.7 1135.0,376.7 1138.0,378.5 1141.0,380.2 1144.0,381.1 1147.0,382.1 1150.0,383.0 1153.0,383.9 1156.0,384.7 1159.0,385.8 1162.0,386.8 1165.0,387.8 1168.0,388.9 1171.0,389.8 1174.0,390.7 1177.0,391.7 1180.0,392.6 1183.0,393.5 1186.0,394.3 1189.0,395.2 1192.0,396.0 1195.0,396.6 1198.0,397.1 1201.0,397.4 1204.0,397.8 1207.0,398.1 1210.0,398.6 1213.0,398.9 1216.0,399.4 1219.0,399.8 1222.0,400.0 1225.0,400.4 1228.0,400.7 1231.0,401.0 1234.0,401.4" stroke="#9d1116"/><polyline points="1234.0,401.4 1237.0,401.0 1240.0,401.0 1243.0,400.7 1246.0,400.5 1249.0,399.9 1252.0,399.4 1255.0,398.6 1258.0,397.4 1261.0,396.2 1264.0,395.0 1267.0,393.8 1270.0,392.6 1273.0,391.5 1276.0,390.1 1279.0,388.6 1282.0,387.0 1285.0,385.3 1288.0,383.8 1291.0,383.1" stroke="#279c28"/><polyline points="1291.0,383.1 1294.0,383.5 1297.0,383.7 1300.0,384.0 1303.0,384.2 1306.0,384.6 1309.0,384.8 1312.0,385.0" stroke="#9d1116"/><polyline points="1312.0,385.0 1315.0,384.8 1318.0,384.7 1321.0,384.5 1324.0,384.1 1327.0,383.8" stroke="#279c28"/><polyline points="1327.0,383.8 1330.0,383.9 1333.0,384.1 1336.0,384.2 1339.0,384.4 1342.0,384.7" stroke="#9d1116"/><polyline points="1342.0,384.7 1345.0,384.3 1348.0,384.0 1351.0,383.5 1354.0,383.1 1357.0,382.6 1360.0,382.3 1363.0,382.0 1366.0,381.6 1369.0,380.5 1372.0,379.4 1375.0,378.3 1378.0,376.4 1381.0,374.6 1384.0,372.8 1387.0,370.6 1390.0,368.1 1393.0,365.7 1396.0,363.2 1399.0,360.7 1402.0,358.1 1405.0,354.7 1408.0,351.2 1411.0,347.7 1414.0,344.6 1417.0,341.7 1420.0,338.9 1423.0,336.1 1426.0,333.5 1429.0,330.5 1432.0,327.7 1435.0,325.1 1438.0,322.4 1441.0,319.7 1444.0,317.0 1447.0,314.4 1450.0,311.8 1453.0,309.4 1456.0,307.4 1459.0,305.5 1462.0,303.7 1465.0,301.9 1468.0,300.1 1471.0,298.1 1474.0,296.2 1477.0,294.3 1480.0,292.5 1483.0,290.5 1486.0,288.7 1489.0,286.8 1492.0,284.9 1495.0,283.0 1498.0,281.5 1501.0,280.0 1504.0,278.5 1507.0,277.0 1510.0,275.7 1513.0,273.7 1516.0,271.7 1519.0,268.0 1522.0,264.5 1525.0,261.2 1528.0,258.1 1531.0,254.7 1534.0,250.9 1537.0,246.9 1540.0,243.3 1543.0,240.3 1546.0,237.2 1549.0,234.2 1552.0,231.4 1555.0,228.5 1558.0,225.7 1561.0,223.1 1564.0,220.4 1567.0,217.9 1570.0,215.9 1573.0,214.0 1576.0,212.3 1579.0,210.7 1582.0,209.0 1585.0,207.2 1588.0,205.6 1591.0,204.0 1594.0,202.5 1597.0,201.8 1600.0,201.2 1603.0,200.6 1606.0,200.3 1609.0,200.1 1612.0,199.9 1615.0,199.9 1618.0,199.9 1621.0,199.7 1624.0,199.7" stroke="#279c28"/><polyline points="1624.0,199.7 1627.0,199.9 1630.0,200.0" stroke="#9d1116"/><polyline points="1630.0,200.0 1633.0,200.0" stroke="#279c28"/><polyline points="1633.0,200.0 1636.0,200.0 1639.0,200.1 1642.0,200.1 1645.0,200.2 1648.0,200.3 1651.0,200.7 1654.0,200.7 1657.0,200.9 1660.0,201.8 1663.0,202.6 1666.0,203.1" stroke="#9d1116"/><polyline points="1666.0,203.1 1669.0,202.7 1672.0,201.9 1675.0,201.3 1678.0,200.5 1681.0,199.9 1684.0,199.1 1687.0,197.3 1690.0,195.3 1693.0,192.2 1696.0,189.2 1699.0,186.1 1702.0,183.8 1705.0,181.5 1708.0,179.5 1711.0,177.9 1714.0,176.3 1717.0,174.7 1720.0,173.1 1723.0,171.7 1726.0,170.3 1729.0,168.5 1732.0,166.7 1735.0,165.3 1738.0,163.8 1741.0,162.2 1744.0,160.9 1747.0,159.5 1750.0,158.2 1753.0,156.9 1756.0,155.7 1759.0,154.0 1762.0,152.4 1765.0,150.9 1768.0,149.1 1771.0,147.3 1774.0,145.6 1777.0,144.1 1780.0,142.5 1783.0,141.0 1786.0,139.5 1789.0,138.2 1792.0,136.8 1795.0,135.4 1798.0,133.8 1801.0,132.2 1804.0,131.7 1807.0,131.4 1810.0,131.1 1813.0,131.0 1816.0,130.7 1819.0,130.3 1822.0,129.1 1825.0,128.0 1828.0,127.1 1831.0,125.5 1834.0,124.1 1837.0,122.6 1840.0,120.2 1843.0,118.1 1846.0,115.7 1849.0,113.4 1852.0,111.2 1855.0,110.5 1858.0,110.0" stroke="#279c28"/><polyline points="1858.0,110.0 1861.0,110.0" stroke="#9d1116"/><polyline points="1861.0,110.0 1864.0,109.9 1867.0,109.5" stroke="#279c28"/><polyline points="1867.0,109.5 1870.0,109.6" stroke="#9d1116"/><polyline points="1870.0,109.6 1873.0,109.4 1876.0,108.8 1879.0,108.3 1882.0,108.3" stroke="#279c28"/><polyline points="1882.0,108.3 1885.0,113.0 1888.0,117.7 1891.0,123.2 1894.0,127.9 1897.0,133.6 1900.0,139.3 1903.0,145.4 1906.0,151.5 1909.0,157.5 1912.0,163.0 1915.0,169.3 1918.0,175.6 1921.0,181.5 1924.0,187.8 1927.0,193.9 1930.0,198.9 1933.0,203.9 1936.0,208.4 1939.0,213.1 1942.0,222.2 1945.0,229.3 1948.0,235.7 1951.0,242.7 1954.0,249.0 1957.0,256.8 1960.0,264.3 1963.0,270.7 1966.0,277.1 1969.0,284.7 1972.0,292.1 1975.0,299.0 1978.0,305.6 1981.0,312.8 1984.0,319.7 1987.0,326.3 1990.0,332.0 1993.0,338.0 1996.0,343.6 1999.0,350.0 2002.0,355.9 2005.0,362.1 2008.0,367.9 2011.0,374.3 2014.0,380.6 2017.0,386.7 2020.0,392.8 2023.0,398.5 2026.0,404.2 2029.0,409.7 2032.0,415.0 2035.0,420.5 2038.0,425.5 2041.0,430.3 2044.0,435.2 2047.0,439.6 2050.0,443.9" stroke="#9d1116"/><polyline points="0.0,298.3 1.0,299.3 4.0,300.3 7.0,301.4 10.0,302.0 13.0,302.4 16.0,302.8 19.0,303.2 22.0,304.3 25.0,305.8 28.0,307.4 31.0,308.7 34.0,309.9 37.0,311.2 40.0,312.6 43.0,313.9 46.0,315.2 49.0,316.4 52.0,317.4 55.0,318.5 58.0,319.4 61.0,320.1 64.0,321.0 67.0,322.0 70.0,322.9 73.0,323.7 76.0,324.5 79.0,326.1 82.0,327.3 85.0,328.8 88.0,329.8 91.0,331.1 94.0,331.7 97.0,332.1 100.0,333.6 103.0,334.7 106.0,335.9 109.0,337.8 112.0,339.6 115.0,341.5 118.0,342.7 121.0,344.0 124.0,345.2 127.0,345.9 130.0,346.5 133.0,347.3 136.0,348.0 139.0,348.4 142.0,349.0 145.0,349.8 148.0,352.3 151.0,354.7 154.0,357.2 157.0,358.9 160.0,360.6 163.0,362.0 166.0,362.2 169.0,362.5 172.0,363.0 175.0,363.3 178.0,363.6 181.0,363.9 184.0,364.2 187.0,364.8 190.0,365.1" stroke="#a81218"/><polyline points="190.0,365.1 193.0,364.8" stroke="#2aa72b"/><polyline points="193.0,364.8 196.0,365.5 199.0,366.2 202.0,366.8 205.0,367.4" stroke="#a81218"/><polyline points="205.0,367.4 208.0,367.3 211.0,366.4 214.0,365.4" stroke="#2aa72b"/><polyline points="214.0,365.4 217.0,365.5" stroke="#a81218"/><polyline points="217.0,365.5 220.0,365.4" stroke="#2aa72b"/><polyline points="220.0,365.4 223.0,365.8" stroke="#a81218"/><polyline points="223.0,365.8 226.0,365.8 229.0,365.5 232.0,363.2 235.0,361.2 238.0,359.5 241.0,357.3 244.0,355.3 247.0,353.0 250.0,350.2 253.0,347.9 256.0,346.0 259.0,344.1 262.0,342.0 265.0,340.8 268.0,339.8 271.0,338.9 274.0,337.6 277.0,336.5 280.0,335.5 283.0,334.0 286.0,332.7 289.0,331.2 292.0,330.4 295.0,329.5 298.0,328.7 301.0,328.0 304.0,327.7 307.0,327.6 310.0,327.5 313.0,327.5 316.0,327.5 319.0,327.3 322.0,327.1 325.0,327.1 328.0,327.0 331.0,326.6 334.0,326.1 337.0,325.5 340.0,325.0 343.0,324.4 346.0,323.9 349.0,323.3 352.0,323.1 355.0,322.7 358.0,322.3 361.0,322.0 364.0,321.5 367.0,321.1 370.0,320.2 373.0,319.2 376.0,318.5 379.0,317.7 382.0,316.8 385.0,316.2 388.0,315.5 391.0,314.6 394.0,313.9 397.0,313.3" stroke="#2aa72b"/><polyline points="397.0,313.3 400.0,314.1 403.0,314.7 406.0,315.0 409.0,315.7 412.0,316.0" stroke="#a81218"/><polyline points="412.0,316.0 415.0,316.0 418.0,315.8 421.0,315.6" stroke="#2aa72b"/><polyline points="421.0,315.6 424.0,315.7 427.0,315.7 430.0,315.8 433.0,315.8" stroke="#a81218"/><polyline points="433.0,315.8 436.0,315.8 439.0,315.7 442.0,315.4 445.0,315.3 448.0,315.3 451.0,315.1 454.0,314.9 457.0,314.8" stroke="#2aa72b"/><polyline points="457.0,314.8 460.0,315.2 463.0,315.7 466.0,316.0 469.0,316.2" stroke="#a81218"/><polyline points="469.0,316.2 472.0,316.2" stroke="#2aa72b"/><polyline points="472.0,316.2 475.0,316.4 478.0,316.7 481.0,316.9 484.0,317.0 487.0,317.0 490.0,317.2" stroke="#a81218"/><polyline points="490.0,317.2 493.0,317.1 496.0,317.1 499.0,317.0 502.0,316.8 505.0,316.7" stroke="#2aa72b"/><polyline points="505.0,316.7 508.0,316.7" stroke="#a81218"/><polyline points="508.0,316.7 511.0,316.5 514.0,316.4 517.0,314.2 520.0,312.1 523.0,309.7 526.0,307.3 529.0,305.5 532.0,304.1 535.0,302.9" stroke="#2aa72b"/><polyline points="535.0,302.9 538.0,304.6 541.0,306.0 544.0,307.6 547.0,308.9 550.0,311.5 553.0,314.2 556.0,317.2 559.0,319.7 562.0,321.9 565.0,323.8 568.0,325.5 571.0,327.3 574.0,330.4 577.0,333.5 580.0,336.7 583.0,340.0 586.0,342.9 589.0,345.9 592.0,348.8 595.0,351.5 598.0,354.6 601.0,357.9 604.0,360.9 607.0,363.1 610.0,365.3 613.0,367.5 616.0,369.2 619.0,370.8 622.0,372.7 625.0,374.8 628.0,377.0 631.0,379.0 634.0,381.0 637.0,383.0 640.0,384.9 643.0,386.3 646.0,388.0 649.0,389.6 652.0,391.2 655.0,392.6 658.0,393.0 661.0,393.5 664.0,393.8 667.0,394.2 670.0,394.7 673.0,395.1 676.0,395.4 679.0,396.4 682.0,397.4 685.0,398.3 688.0,399.6 691.0,401.4 694.0,403.2 697.0,404.8 700.0,406.5 703.0,408.3 706.0,410.0 709.0,411.7 712.0,413.9 715.0,415.7 718.0,418.1 721.0,420.3 724.0,422.6 727.0,424.7 730.0,425.7 733.0,427.0 736.0,427.1 739.0,427.2" stroke="#a81218"/><polyline points="739.0,427.2 742.0,427.2 745.0,427.0 748.0,426.7" stroke="#2aa72b"/><polyline points="748.0,426.7 751.0,426.8" stroke="#a81218"/><polyline points="751.0,426.8 754.0,426.6 757.0,426.5" stroke="#2aa72b"/><polyline points="757.0,426.5 760.0,426.5 763.0,426.6" stroke="#a81218"/><polyline points="763.0,426.6 766.0,426.3 769.0,425.9 772.0,425.3 775.0,424.9 778.0,423.6 781.0,422.5 784.0,421.5 787.0,420.7 790.0,419.7 793.0,419.3 796.0,419.0 799.0,417.9 802.0,416.7 805.0,415.5 808.0,414.2 811.0,412.8 814.0,411.3 817.0,410.6 820.0,408.9 823.0,407.0 826.0,403.9 829.0,401.5 832.0,399.1 835.0,397.0 838.0,394.1 841.0,391.3 844.0,388.6 847.0,385.1 850.0,381.6 853.0,378.5 856.0,374.4 859.0,371.2 862.0,367.8 865.0,365.2 868.0,362.5 871.0,359.8 874.0,357.1 877.0,354.7 880.0,352.4 883.0,350.0 886.0,347.9 889.0,345.7 892.0,343.7 895.0,341.7 898.0,338.8 901.0,336.1 904.0,333.6 907.0,331.1 910.0,328.7 913.0,326.3 916.0,324.0 919.0,321.8 922.0,319.8 925.0,317.8 928.0,316.0 931.0,314.1 934.0,312.3 937.0,310.5 940.0,308.6 943.0,306.8 946.0,306.2 949.0,305.7 952.0,305.2 955.0,304.4 958.0,303.7 961.0,302.9 964.0,302.1 967.0,301.4 970.0,301.3 973.0,301.0 976.0,300.7 979.0,300.5 982.0,299.6 985.0,298.9 988.0,298.2 991.0,297.5 994.0,296.8 997.0,296.2 1000.0,295.5 1003.0,294.8 1006.0,294.2 1009.0,293.3 1012.0,292.5 1015.0,292.4" stroke="#2aa72b"/><polyline points="1015.0,292.4 1018.0,292.5 1021.0,292.9 1024.0,293.0 1027.0,295.6 1030.0,298.1 1033.0,300.5 1036.0,302.9 1039.0,305.3 1042.0,308.3 1045.0,311.0 1048.0,313.9 1051.0,316.9 1054.0,319.6 1057.0,321.9 1060.0,323.9 1063.0,326.1 1066.0,328.8 1069.0,331.5 1072.0,334.5 1075.0,337.5 1078.0,340.5 1081.0,342.3 1084.0,344.2 1087.0,346.1 1090.0,347.0 1093.0,348.0 1096.0,348.6 1099.0,350.8 1102.0,352.3 1105.0,354.4 1108.0,358.4 1111.0,362.1 1114.0,366.4 1117.0,370.0 1120.0,371.8 1123.0,373.7 1126.0,375.8 1129.0,378.0 1132.0,380.1 1135.0,382.1 1138.0,384.0 1141.0,385.8 1144.0,386.6 1147.0,387.6 1150.0,388.4 1153.0,389.2 1156.0,390.0 1159.0,391.0 1162.0,392.0 1165.0,393.0 1168.0,394.0 1171.0,394.9 1174.0,395.8 1177.0,396.8 1180.0,397.6 1183.0,398.4 1186.0,399.2 1189.0,400.0 1192.0,400.8 1195.0,401.4 1198.0,401.7 1201.0,401.9 1204.0,402.2 1207.0,402.4 1210.0,402.8 1213.0,403.0 1216.0,403.4 1219.0,403.7 1222.0,403.9 1225.0,404.1 1228.0,404.4 1231.0,404.6 1234.0,404.9" stroke="#a81218"/><polyline points="1234.0,404.9 1237.0,404.4 1240.0,404.2 1243.0,403.7 1246.0,403.5 1249.0,402.6 1252.0,401.9 1255.0,401.0 1258.0,399.5 1261.0,398.0 1264.0,396.6 1267.0,395.2 1270.0,393.7 1273.0,392.5 1276.0,390.8 1279.0,389.1 1282.0,387.2 1285.0,385.3 1288.0,383.5 1291.0,382.8" stroke="#2aa72b"/><polyline points="1291.0,382.8 1294.0,383.2 1297.0,383.5 1300.0,383.8 1303.0,384.1 1306.0,384.5 1309.0,384.8 1312.0,385.0" stroke="#a81218"/><polyline points="1312.0,385.0 1315.0,384.8 1318.0,384.6 1321.0,384.4 1324.0,384.0 1327.0,383.6" stroke="#2aa72b"/><polyline points="1327.0,383.6 1330.0,383.7 1333.0,384.0 1336.0,384.1 1339.0,384.3 1342.0,384.6" stroke="#a81218"/><polyline points="1342.0,384.6 1345.0,384.3 1348.0,383.9 1351.0,383.3 1354.0,382.8 1357.0,382.3 1360.0,381.9 1363.0,381.7 1366.0,381.2 1369.0,379.9 1372.0,378.7 1375.0,377.4 1378.0,375.3 1381.0,373.3 1384.0,371.3 1387.0,368.8 1390.0,366.1 1393.0,363.3 1396.0,360.6 1399.0,357.8 1402.0,354.9 1405.0,351.1 1408.0,347.2 1411.0,343.4 1414.0,340.0 1417.0,336.9 1420.0,333.8 1423.0,330.8 1426.0,327.9 1429.0,324.7 1432.0,321.8 1435.0,319.0 1438.0,316.1 1441.0,313.2 1444.0,310.3 1447.0,307.5 1450.0,304.9 1453.0,302.3 1456.0,300.3 1459.0,298.4 1462.0,296.6 1465.0,294.8 1468.0,292.9 1471.0,290.9 1474.0,289.0 1477.0,287.1 1480.0,285.2 1483.0,283.3 1486.0,281.4 1489.0,279.5 1492.0,277.6 1495.0,275.7 1498.0,274.2 1501.0,272.7 1504.0,271.3 1507.0,269.8 1510.0,268.6 1513.0,266.6 1516.0,264.5 1519.0,260.5 1522.0,256.8 1525.0,253.3 1528.0,249.9 1531.0,246.4 1534.0,242.3 1537.0,238.0 1540.0,234.2 1543.0,231.1 1546.0,227.9 1549.0,224.8 1552.0,221.8 1555.0,218.9 1558.0,216.0 1561.0,213.3 1564.0,210.6 1567.0,208.2 1570.0,206.2 1573.0,204.3 1576.0,202.7 1579.0,201.2 1582.0,199.6 1585.0,197.9 1588.0,196.4 1591.0,194.9 1594.0,193.4 1597.0,193.0 1600.0,192.6 1603.0,192.2 1606.0,192.2" stroke="#2aa72b"/><polyline points="1606.0,192.2 1609.0,192.2 1612.0,192.3 1615.0,192.6 1618.0,192.8 1621.0,192.8 1624.0,193.0 1627.0,193.5 1630.0,193.9 1633.0,194.1 1636.0,194.4 1639.0,194.6 1642.0,194.9 1645.0,195.1 1648.0,195.4 1651.0,196.0 1654.0,196.2 1657.0,196.6 1660.0,197.8 1663.0,198.8 1666.0,199.6" stroke="#a81218"/><polyline points="1666.0,199.6 1669.0,199.1 1672.0,198.4 1675.0,197.8 1678.0,197.1 1681.0,196.5 1684.0,195.7 1687.0,193.7 1690.0,191.6 1693.0,188.2 1696.0,184.8 1699.0,181.5 1702.0,179.0 1705.0,176.5 1708.0,174.5 1711.0,172.8 1714.0,171.1 1717.0,169.5 1720.0,167.8 1723.0,166.4 1726.0,164.9 1729.0,163.1 1732.0,161.2 1735.0,159.8 1738.0,158.3 1741.0,156.7 1744.0,155.3 1747.0,154.0 1750.0,152.6 1753.0,151.3 1756.0,150.1 1759.0,148.4 1762.0,146.8 1765.0,145.2 1768.0,143.4 1771.0,141.6 1774.0,139.8 1777.0,138.3 1780.0,136.6 1783.0,135.1 1786.0,133.6 1789.0,132.3 1792.0,131.0 1795.0,129.5 1798.0,127.9 1801.0,126.3 1804.0,126.0 1807.0,125.8 1810.0,125.6" stroke="#2aa72b"/><polyline points="1810.0,125.6 1813.0,125.8" stroke="#a81218"/><polyline points="1813.0,125.8 1816.0,125.6 1819.0,125.3 1822.0,124.1 1825.0,123.0 1828.0,122.1 1831.0,120.5 1834.0,119.0 1837.0,117.5 1840.0,115.0 1843.0,112.7 1846.0,110.2 1849.0,107.7 1852.0,105.4 1855.0,104.8 1858.0,104.4" stroke="#2aa72b"/><polyline points="1858.0,104.4 1861.0,104.6 1864.0,104.7" stroke="#a81218"/><polyline points="1864.0,104.7 1867.0,104.5" stroke="#2aa72b"/><polyline points="1867.0,104.5 1870.0,104.7 1873.0,104.7" stroke="#a81218"/><polyline points="1873.0,104.7 1876.0,104.2 1879.0,103.7" stroke="#2aa72b"/><polyline points="1879.0,103.7 1882.0,103.8 1885.0,109.5 1888.0,114.9 1891.0,121.4 1894.0,126.8 1897.0,133.3 1900.0,139.9 1903.0,146.9 1906.0,153.8 1909.0,160.6 1912.0,166.8 1915.0,173.9 1918.0,181.0 1921.0,187.5 1924.0,194.5 1927.0,201.2 1930.0,206.7 1933.0,212.1 1936.0,217.1 1939.0,222.1 1942.0,232.3 1945.0,240.0 1948.0,247.0 1951.0,254.6 1954.0,261.4 1957.0,269.8 1960.0,278.0 1963.0,284.8 1966.0,291.7 1969.0,300.0 1972.0,307.8 1975.0,315.2 1978.0,322.2 1981.0,329.8 1984.0,337.2 1987.0,344.1 1990.0,350.0 1993.0,356.2 1996.0,362.0 1999.0,368.7 2002.0,374.8 2005.0,381.2 2008.0,387.2 2011.0,393.8 2014.0,400.4 2017.0,406.7 2020.0,412.9 2023.0,418.8 2026.0,424.6 2029.0,430.1 2032.0,435.5 2035.0,441.1 2038.0,446.1 2041.0,450.9 2044.0,455.7 2047.0,460.1 2050.0,464.2" stroke="#a81218"/><polyline points="0.0,301.2 1.0,302.3 4.0,303.3 7.0,304.5 10.0,305.1 13.0,305.4 16.0,305.7 19.0,306.1 22.0,307.3 25.0,308.9 28.0,310.7 31.0,312.0 34.0,313.3 37.0,314.7 40.0,316.2 43.0,317.6 46.0,318.9 49.0,320.1 52.0,321.2 55.0,322.3 58.0,323.2 61.0,323.9 64.0,324.8 67.0,325.8 70.0,326.7 73.0,327.5 76.0,328.3 79.0,329.9 82.0,331.2 85.0,332.8 88.0,333.8 91.0,335.1 94.0,335.7 97.0,336.0 100.0,337.5 103.0,338.7 106.0,340.0 109.0,342.0 112.0,344.0 115.0,346.0 118.0,347.2 121.0,348.6 124.0,349.8 127.0,350.4 130.0,351.0 133.0,351.7 136.0,352.3 139.0,352.6 142.0,353.1 145.0,353.9 148.0,356.6 151.0,359.3 154.0,362.0 157.0,363.8 160.0,365.6 163.0,367.1" stroke="#b31319"/><polyline points="163.0,367.1 166.0,367.0" stroke="#2db22e"/><polyline points="166.0,367.0 169.0,367.2 172.0,367.5 175.0,367.7 178.0,367.9 181.0,368.1 184.0,368.3 187.0,368.8 190.0,369.0" stroke="#b31319"/><polyline points="190.0,369.0 193.0,368.5" stroke="#2db22e"/><polyline points="193.0,368.5 196.0,369.1 199.0,369.8 202.0,370.4 205.0,370.9" stroke="#b31319"/><polyline points="205.0,370.9 208.0,370.7 211.0,369.5 214.0,368.2 217.0,368.2 220.0,368.0" stroke="#2db22e"/><polyline points="220.0,368.0 223.0,368.4" stroke="#b31319"/><polyline points="223.0,368.4 226.0,368.2 229.0,367.7 232.0,364.9 235.0,362.6 238.0,360.5 241.0,357.9 244.0,355.5 247.0,352.9 250.0,349.6 253.0,346.9 256.0,344.7 259.0,342.6 262.0,340.2 265.0,338.8 268.0,337.7 271.0,336.7 274.0,335.4 277.0,334.1 280.0,333.1 283.0,331.4 286.0,330.0 289.0,328.4 292.0,327.5 295.0,326.6 298.0,325.7 301.0,325.1 304.0,324.8 307.0,324.8" stroke="#2db22e"/><polyline points="307.0,324.8 310.0,324.9 313.0,325.0 316.0,325.0" stroke="#b31319"/><polyline points="316.0,325.0 319.0,325.0 322.0,324.8" stroke="#2db22e"/><polyline points="322.0,324.8 325.0,324.9 328.0,324.9" stroke="#b31319"/><polyline points="328.0,324.9 331.0,324.4 334.0,323.9 337.0,323.3 340.0,322.9 343.0,322.3 346.0,321.8 349.0,321.1 352.0,320.9 355.0,320.7 358.0,320.2 361.0,319.9 364.0,319.5 367.0,319.1 370.0,318.2 373.0,317.1 376.0,316.3 379.0,315.5 382.0,314.5 385.0,313.9 388.0,313.2 391.0,312.2 394.0,311.5 397.0,310.9" stroke="#2db22e"/><polyline points="397.0,310.9 400.0,311.9 403.0,312.7 406.0,313.1 409.0,314.0 412.0,314.4 415.0,314.5" stroke="#b31319"/><polyline points="415.0,314.5 418.0,314.4 421.0,314.2" stroke="#2db22e"/><polyline points="421.0,314.2 424.0,314.4 427.0,314.5 430.0,314.5 433.0,314.7 436.0,314.7" stroke="#b31319"/><polyline points="436.0,314.7 439.0,314.6 442.0,314.3 445.0,314.2 448.0,314.2 451.0,314.1 454.0,313.9 457.0,313.8" stroke="#2db22e"/><polyline points="457.0,313.8 460.0,314.3 463.0,315.0 466.0,315.3 469.0,315.6 472.0,315.6 475.0,315.9 478.0,316.3 481.0,316.5 484.0,316.6 487.0,316.7 490.0,316.8 493.0,316.8" stroke="#b31319"/><polyline points="493.0,316.8 496.0,316.8 499.0,316.7 502.0,316.5 505.0,316.3" stroke="#2db22e"/><polyline points="505.0,316.3 508.0,316.4" stroke="#b31319"/><polyline points="508.0,316.4 511.0,316.2 514.0,316.1 517.0,313.5 520.0,311.0 523.0,308.4 526.0,305.6 529.0,303.6 532.0,301.9 535.0,300.6" stroke="#2db22e"/><polyline points="535.0,300.6 538.0,302.7 541.0,304.4 544.0,306.3 547.0,308.0 550.0,311.1 553.0,314.2 556.0,317.7 559.0,320.6 562.0,323.2 565.0,325.3 568.0,327.3 571.0,329.3 574.0,332.8 577.0,336.4 580.0,340.0 583.0,343.7 586.0,346.9 589.0,350.3 592.0,353.6 595.0,356.5 598.0,359.9 601.0,363.6 604.0,366.9 607.0,369.2 610.0,371.5 613.0,373.8 616.0,375.5 619.0,377.1 622.0,379.1 625.0,381.3 628.0,383.6 631.0,385.7 634.0,387.8 637.0,389.8 640.0,391.7 643.0,393.2 646.0,394.8 649.0,396.4 652.0,398.0 655.0,399.4 658.0,399.5 661.0,399.8 664.0,400.0 667.0,400.2 670.0,400.5 673.0,400.8 676.0,400.9 679.0,401.8 682.0,402.7 685.0,403.6 688.0,404.9 691.0,406.8 694.0,408.6 697.0,410.3 700.0,412.1 703.0,414.0 706.0,415.7 709.0,417.5 712.0,419.8 715.0,421.6 718.0,424.2 721.0,426.6 724.0,429.0 727.0,431.1 730.0,432.1 733.0,433.3" stroke="#b31319"/><polyline points="733.0,433.3 736.0,433.2 739.0,433.1 742.0,432.8 745.0,432.4 748.0,431.8 751.0,431.7 754.0,431.2 757.0,431.0 760.0,430.8 763.0,430.7 766.0,430.1 769.0,429.6 772.0,428.7 775.0,428.0 778.0,426.4 781.0,425.0 784.0,423.8 787.0,422.7 790.0,421.5 793.0,420.9 796.0,420.6 799.0,419.1 802.0,417.7 805.0,416.3 808.0,414.7 811.0,413.0 814.0,411.3 817.0,410.4 820.0,408.5 823.0,406.3 826.0,402.6 829.0,399.9 832.0,397.2 835.0,394.8 838.0,391.4 841.0,388.3 844.0,385.3 847.0,381.4 850.0,377.4 853.0,373.9 856.0,369.4 859.0,365.8 862.0,362.0 865.0,359.3 868.0,356.3 871.0,353.4 874.0,350.5 877.0,348.0 880.0,345.5 883.0,343.0 886.0,340.8 889.0,338.6 892.0,336.6 895.0,334.5 898.0,331.4 901.0,328.5 904.0,325.9 907.0,323.3 910.0,320.8 913.0,318.3 916.0,316.0 919.0,313.8 922.0,311.7 925.0,309.8 928.0,307.9 931.0,306.1 934.0,304.3 937.0,302.5 940.0,300.6 943.0,298.8 946.0,298.5 949.0,298.1 952.0,297.9 955.0,297.3 958.0,296.8 961.0,296.1 964.0,295.5 967.0,294.9" stroke="#2db22e"/><polyline points="967.0,294.9 970.0,295.0" stroke="#b31319"/><polyline points="970.0,295.0 973.0,295.0 976.0,294.9 979.0,294.8 982.0,294.1 985.0,293.4 988.0,292.9 991.0,292.3 994.0,291.7 997.0,291.2 1000.0,290.5 1003.0,290.0 1006.0,289.4 1009.0,288.6 1012.0,287.9" stroke="#2db22e"/><polyline points="1012.0,287.9 1015.0,287.9 1018.0,288.2 1021.0,288.8 1024.0,289.1 1027.0,292.3 1030.0,295.4 1033.0,298.3 1036.0,301.2 1039.0,304.1 1042.0,307.6 1045.0,310.8 1048.0,314.3 1051.0,317.8 1054.0,320.9 1057.0,323.5 1060.0,325.8 1063.0,328.2 1066.0,331.4 1069.0,334.4 1072.0,337.9 1075.0,341.1 1078.0,344.5 1081.0,346.5 1084.0,348.5 1087.0,350.6 1090.0,351.4 1093.0,352.4 1096.0,353.0 1099.0,355.4 1102.0,357.0 1105.0,359.1 1108.0,363.6 1111.0,367.8 1114.0,372.6 1117.0,376.5 1120.0,378.4 1123.0,380.3 1126.0,382.5 1129.0,384.9 1132.0,387.0 1135.0,389.1 1138.0,391.0 1141.0,392.8 1144.0,393.4 1147.0,394.3 1150.0,395.0 1153.0,395.7 1156.0,396.3 1159.0,397.2 1162.0,398.1 1165.0,399.0 1168.0,400.0 1171.0,400.8 1174.0,401.6 1177.0,402.5 1180.0,403.3 1183.0,404.0 1186.0,404.6 1189.0,405.4 1192.0,406.1 1195.0,406.5 1198.0,406.6 1201.0,406.8 1204.0,406.9 1207.0,407.0 1210.0,407.2 1213.0,407.3 1216.0,407.5 1219.0,407.7 1222.0,407.8 1225.0,407.9 1228.0,408.0 1231.0,408.1 1234.0,408.4" stroke="#b31319"/><polyline points="1234.0,408.4 1237.0,407.6 1240.0,407.2 1243.0,406.6 1246.0,406.1 1249.0,405.1 1252.0,404.1 1255.0,402.9 1258.0,401.1 1261.0,399.3 1264.0,397.6 1267.0,395.9 1270.0,394.2 1273.0,392.7 1276.0,390.7 1279.0,388.7 1282.0,386.5 1285.0,384.3 1288.0,382.3 1291.0,381.5" stroke="#2db22e"/><polyline points="1291.0,381.5 1294.0,382.0 1297.0,382.4 1300.0,382.8 1303.0,383.2 1306.0,383.8 1309.0,384.1 1312.0,384.4" stroke="#b31319"/><polyline points="1312.0,384.4 1315.0,384.1 1318.0,383.9 1321.0,383.8 1324.0,383.3 1327.0,382.8" stroke="#2db22e"/><polyline points="1327.0,382.8 1330.0,383.0 1333.0,383.3 1336.0,383.5 1339.0,383.8 1342.0,384.2" stroke="#b31319"/><polyline points="1342.0,384.2 1345.0,383.8 1348.0,383.4 1351.0,382.7 1354.0,382.2 1357.0,381.6 1360.0,381.2 1363.0,380.9 1366.0,380.4 1369.0,378.9 1372.0,377.5 1375.0,376.1 1378.0,373.7 1381.0,371.4 1384.0,369.1 1387.0,366.2 1390.0,363.2 1393.0,360.1 1396.0,357.0 1399.0,354.0 1402.0,350.6 1405.0,346.4 1408.0,342.0 1411.0,337.8 1414.0,334.0 1417.0,330.6 1420.0,327.3 1423.0,324.0 1426.0,320.9 1429.0,317.5 1432.0,314.3 1435.0,311.4 1438.0,308.3 1441.0,305.3 1444.0,302.2 1447.0,299.3 1450.0,296.5 1453.0,293.9 1456.0,291.9 1459.0,289.9 1462.0,288.2 1465.0,286.4 1468.0,284.6 1471.0,282.6 1474.0,280.7 1477.0,278.8 1480.0,276.9 1483.0,275.0 1486.0,273.2 1489.0,271.3 1492.0,269.4 1495.0,267.5 1498.0,266.1 1501.0,264.7 1504.0,263.3 1507.0,262.0 1510.0,260.8 1513.0,258.8 1516.0,256.7 1519.0,252.4 1522.0,248.3 1525.0,244.6 1528.0,241.0 1531.0,237.2 1534.0,232.8 1537.0,228.2 1540.0,224.2 1543.0,221.0 1546.0,217.5 1549.0,214.4 1552.0,211.4 1555.0,208.3 1558.0,205.4 1561.0,202.7 1564.0,200.0 1567.0,197.5 1570.0,195.7 1573.0,193.9 1576.0,192.4 1579.0,191.2 1582.0,189.7 1585.0,188.1 1588.0,186.7 1591.0,185.3 1594.0,184.0 1597.0,183.9 1600.0,183.8 1603.0,183.8" stroke="#2db22e"/><polyline points="1603.0,183.8 1606.0,184.0 1609.0,184.4 1612.0,184.9 1615.0,185.5 1618.0,186.0 1621.0,186.3 1624.0,186.8 1627.0,187.6 1630.0,188.3 1633.0,188.8 1636.0,189.3 1639.0,189.8 1642.0,190.3 1645.0,190.9 1648.0,191.3 1651.0,192.2 1654.0,192.6 1657.0,193.2 1660.0,194.7 1663.0,196.0 1666.0,197.0" stroke="#b31319"/><polyline points="1666.0,197.0 1669.0,196.7 1672.0,195.9 1675.0,195.3 1678.0,194.5 1681.0,193.9 1684.0,193.1 1687.0,190.9 1690.0,188.6 1693.0,184.7 1696.0,180.9 1699.0,177.1 1702.0,174.5 1705.0,171.7 1708.0,169.5 1711.0,167.7 1714.0,166.0 1717.0,164.3 1720.0,162.6 1723.0,161.2 1726.0,159.6 1729.0,157.7 1732.0,155.7 1735.0,154.3 1738.0,152.7 1741.0,151.1 1744.0,149.7 1747.0,148.4 1750.0,147.0 1753.0,145.8 1756.0,144.6 1759.0,142.8 1762.0,141.2 1765.0,139.5 1768.0,137.6 1771.0,135.7 1774.0,133.9 1777.0,132.3 1780.0,130.7 1783.0,129.2 1786.0,127.6 1789.0,126.4 1792.0,125.0 1795.0,123.6 1798.0,122.0 1801.0,120.3 1804.0,120.2" stroke="#2db22e"/><polyline points="1804.0,120.2 1807.0,120.2 1810.0,120.2 1813.0,120.6" stroke="#b31319"/><polyline points="1813.0,120.6 1816.0,120.6 1819.0,120.5 1822.0,119.3 1825.0,118.2 1828.0,117.3 1831.0,115.7 1834.0,114.1 1837.0,112.5 1840.0,109.8 1843.0,107.3 1846.0,104.7 1849.0,102.0 1852.0,99.5 1855.0,99.0 1858.0,98.8" stroke="#2db22e"/><polyline points="1858.0,98.8 1861.0,99.3 1864.0,99.6" stroke="#b31319"/><polyline points="1864.0,99.6 1867.0,99.6" stroke="#2db22e"/><polyline points="1867.0,99.6 1870.0,100.0 1873.0,100.2" stroke="#b31319"/><polyline points="1873.0,100.2 1876.0,99.8 1879.0,99.5" stroke="#2db22e"/><polyline points="1879.0,99.5 1882.0,99.8 1885.0,106.5 1888.0,113.0 1891.0,120.6 1894.0,127.0 1897.0,134.7 1900.0,142.3 1903.0,150.4 1906.0,158.3 1909.0,166.1 1912.0,173.1 1915.0,181.2 1918.0,189.1 1921.0,196.4 1924.0,204.3 1927.0,211.7 1930.0,217.8 1933.0,223.6 1936.0,228.9 1939.0,234.4 1942.0,245.7 1945.0,254.2 1948.0,261.8 1951.0,270.1 1954.0,277.4 1957.0,286.7 1960.0,295.6 1963.0,302.8 1966.0,310.0 1969.0,319.0 1972.0,327.4 1975.0,335.3 1978.0,342.6 1981.0,350.6 1984.0,358.4 1987.0,365.7 1990.0,371.7 1993.0,378.1 1996.0,383.9 1999.0,390.9 2002.0,397.1 2005.0,403.7 2008.0,409.7 2011.0,416.6 2014.0,423.4 2017.0,429.7 2020.0,436.1 2023.0,442.0 2026.0,447.8 2029.0,453.4 2032.0,458.7 2035.0,464.3 2038.0,469.2 2041.0,473.9 2044.0,478.6 2047.0,482.7 2050.0,486.7" stroke="#b31319"/><polyline points="0.0,304.1 1.0,305.3 4.0,306.4 7.0,307.7 10.0,308.2 13.0,308.4 16.0,308.6 19.0,308.9 22.0,310.3 25.0,312.1 28.0,314.0 31.0,315.5 34.0,316.9 37.0,318.4 40.0,320.0 43.0,321.4 46.0,322.9 49.0,324.2 52.0,325.3 55.0,326.3 58.0,327.2 61.0,327.9 64.0,328.7 67.0,329.8 70.0,330.6 73.0,331.4 76.0,332.2 79.0,334.0 82.0,335.3 85.0,337.1 88.0,338.1 91.0,339.4 94.0,339.9 97.0,340.1 100.0,341.7 103.0,342.9 106.0,344.2 109.0,346.5 112.0,348.6 115.0,350.8 118.0,352.0 121.0,353.4 124.0,354.7 127.0,355.2 130.0,355.6 133.0,356.3 136.0,356.8 139.0,356.9 142.0,357.3 145.0,358.0 148.0,361.1 151.0,364.1 154.0,367.1 157.0,369.0 160.0,371.0 163.0,372.5" stroke="#bf151a"/><polyline points="163.0,372.5 166.0,372.2 169.0,372.1" stroke="#30be31"/><polyline points="169.0,372.1 172.0,372.3" stroke="#bf151a"/><polyline points="172.0,372.3 175.0,372.2" stroke="#30be31"/><polyline points="175.0,372.2 178.0,372.3 181.0,372.3" stroke="#bf151a"/><polyline points="181.0,372.3 184.0,372.3" stroke="#30be31"/><polyline points="184.0,372.3 187.0,372.7 190.0,372.8" stroke="#bf151a"/><polyline points="190.0,372.8 193.0,372.0" stroke="#30be31"/><polyline points="193.0,372.0 196.0,372.6 199.0,373.2 202.0,373.8 205.0,374.2" stroke="#bf151a"/><polyline points="205.0,374.2 208.0,373.8 211.0,372.2 214.0,370.5 217.0,370.3 220.0,370.0" stroke="#30be31"/><polyline points="220.0,370.0 223.0,370.4" stroke="#bf151a"/><polyline points="223.0,370.4 226.0,370.1 229.0,369.4 232.0,365.9 235.0,363.0 238.0,360.5 241.0,357.4 244.0,354.6 247.0,351.4 250.0,347.5 253.0,344.3 256.0,341.9 259.0,339.4 262.0,336.7 265.0,335.2 268.0,334.1 271.0,333.1 274.0,331.6 277.0,330.3 280.0,329.3 283.0,327.4 286.0,325.9 289.0,324.2 292.0,323.3 295.0,322.4 298.0,321.6 301.0,321.0 304.0,320.9" stroke="#30be31"/><polyline points="304.0,320.9 307.0,321.1 310.0,321.3 313.0,321.6 316.0,321.9 319.0,322.0" stroke="#bf151a"/><polyline points="319.0,322.0 322.0,321.9" stroke="#30be31"/><polyline points="322.0,321.9 325.0,322.1 328.0,322.3" stroke="#bf151a"/><polyline points="328.0,322.3 331.0,321.9 334.0,321.4 337.0,320.8 340.0,320.4 343.0,319.8 346.0,319.3 349.0,318.7 352.0,318.5 355.0,318.3 358.0,317.9 361.0,317.7 364.0,317.3 367.0,316.9 370.0,315.9 373.0,314.7 376.0,313.8 379.0,313.0 382.0,312.0 385.0,311.3 388.0,310.6 391.0,309.6 394.0,308.8 397.0,308.2" stroke="#30be31"/><polyline points="397.0,308.2 400.0,309.6 403.0,310.6 406.0,311.2 409.0,312.5 412.0,313.0 415.0,313.2" stroke="#bf151a"/><polyline points="415.0,313.2 418.0,313.1 421.0,312.9" stroke="#30be31"/><polyline points="421.0,312.9 424.0,313.2 427.0,313.4 430.0,313.5 433.0,313.7 436.0,313.8" stroke="#bf151a"/><polyline points="436.0,313.8 439.0,313.7 442.0,313.4 445.0,313.4" stroke="#30be31"/><polyline points="445.0,313.4 448.0,313.4" stroke="#bf151a"/><polyline points="448.0,313.4 451.0,313.3 454.0,313.1 457.0,313.0" stroke="#30be31"/><polyline points="457.0,313.0 460.0,313.6 463.0,314.5 466.0,314.9 469.0,315.3 472.0,315.3 475.0,315.7 478.0,316.1 481.0,316.4 484.0,316.5 487.0,316.6 490.0,316.8 493.0,316.8" stroke="#bf151a"/><polyline points="493.0,316.8 496.0,316.8 499.0,316.7 502.0,316.4 505.0,316.2" stroke="#30be31"/><polyline points="505.0,316.2 508.0,316.3" stroke="#bf151a"/><polyline points="508.0,316.3 511.0,316.1 514.0,316.0 517.0,312.9 520.0,309.9 523.0,306.7 526.0,303.5 529.0,301.1 532.0,299.3 535.0,297.8" stroke="#30be31"/><polyline points="535.0,297.8 538.0,300.5 541.0,302.7 544.0,305.1 547.0,307.1 550.0,310.9 553.0,314.7 556.0,318.9 559.0,322.4 562.0,325.4 565.0,327.8 568.0,330.0 571.0,332.3 574.0,336.4 577.0,340.5 580.0,344.7 583.0,348.9 586.0,352.6 589.0,356.4 592.0,360.0 595.0,363.2 598.0,367.0 601.0,371.1 604.0,374.6 607.0,377.0 610.0,379.4 613.0,381.8 616.0,383.5 619.0,385.1 622.0,387.0 625.0,389.3 628.0,391.6 631.0,393.8 634.0,395.9 637.0,397.9 640.0,399.8 643.0,401.2 646.0,402.7 649.0,404.3 652.0,405.8 655.0,407.1" stroke="#bf151a"/><polyline points="655.0,407.1 658.0,406.9" stroke="#30be31"/><polyline points="658.0,406.9 661.0,406.9" stroke="#bf151a"/><polyline points="661.0,406.9 664.0,406.7 667.0,406.7" stroke="#30be31"/><polyline points="667.0,406.7 670.0,406.7 673.0,406.7" stroke="#bf151a"/><polyline points="673.0,406.7 676.0,406.5" stroke="#30be31"/><polyline points="676.0,406.5 679.0,407.4 682.0,408.2 685.0,408.9 688.0,410.3 691.0,412.3 694.0,414.3 697.0,415.9 700.0,417.9 703.0,419.8 706.0,421.6 709.0,423.5 712.0,425.9 715.0,427.9 718.0,430.6 721.0,433.2 724.0,435.8 727.0,438.0 730.0,438.9 733.0,439.9" stroke="#bf151a"/><polyline points="733.0,439.9 736.0,439.5 739.0,439.1 742.0,438.4 745.0,437.6 748.0,436.7 751.0,436.3 754.0,435.5 757.0,435.0 760.0,434.6 763.0,434.3 766.0,433.4 769.0,432.6 772.0,431.4 775.0,430.5 778.0,428.3 781.0,426.6 784.0,425.0 787.0,423.7 790.0,422.2 793.0,421.4 796.0,421.0 799.0,419.2 802.0,417.5 805.0,415.8 808.0,413.9 811.0,412.0 814.0,409.9 817.0,408.9 820.0,406.6 823.0,404.1 826.0,399.8 829.0,396.6 832.0,393.5 835.0,390.8 838.0,387.0 841.0,383.5 844.0,380.1 847.0,375.6 850.0,371.1 853.0,367.2 856.0,362.0 859.0,358.1 862.0,354.0 865.0,351.0 868.0,347.8 871.0,344.8 874.0,341.7 877.0,339.1 880.0,336.6 883.0,334.0 886.0,331.8 889.0,329.6 892.0,327.6 895.0,325.5 898.0,322.3 901.0,319.3 904.0,316.5 907.0,313.9 910.0,311.3 913.0,308.8 916.0,306.4 919.0,304.2 922.0,302.2 925.0,300.4 928.0,298.6 931.0,296.9 934.0,295.2 937.0,293.4 940.0,291.7 943.0,289.9" stroke="#30be31"/><polyline points="943.0,289.9 946.0,290.0 949.0,290.0 952.0,290.1" stroke="#bf151a"/><polyline points="952.0,290.1 955.0,289.7 958.0,289.5 961.0,289.0 964.0,288.6 967.0,288.3" stroke="#30be31"/><polyline points="967.0,288.3 970.0,288.8 973.0,289.0 976.0,289.2 979.0,289.4" stroke="#bf151a"/><polyline points="979.0,289.4 982.0,288.8 985.0,288.3 988.0,287.8 991.0,287.4 994.0,286.9 997.0,286.5 1000.0,286.0 1003.0,285.6 1006.0,285.0 1009.0,284.3 1012.0,283.6" stroke="#30be31"/><polyline points="1012.0,283.6 1015.0,283.9 1018.0,284.4 1021.0,285.4 1024.0,285.9 1027.0,289.9 1030.0,293.7 1033.0,297.3 1036.0,300.9 1039.0,304.4 1042.0,308.6 1045.0,312.4 1048.0,316.6 1051.0,320.6 1054.0,324.2 1057.0,327.2 1060.0,329.8 1063.0,332.5 1066.0,336.1 1069.0,339.5 1072.0,343.4 1075.0,347.1 1078.0,350.9 1081.0,352.9 1084.0,355.1 1087.0,357.2 1090.0,357.9 1093.0,358.8 1096.0,359.2 1099.0,361.7 1102.0,363.3 1105.0,365.6 1108.0,370.7 1111.0,375.4 1114.0,380.8 1117.0,385.1 1120.0,386.9 1123.0,388.8 1126.0,391.0 1129.0,393.5 1132.0,395.6 1135.0,397.7 1138.0,399.6 1141.0,401.3 1144.0,401.7 1147.0,402.3 1150.0,402.8 1153.0,403.2 1156.0,403.6 1159.0,404.4 1162.0,405.1 1165.0,405.8 1168.0,406.6 1171.0,407.3 1174.0,407.9 1177.0,408.7 1180.0,409.3 1183.0,409.9 1186.0,410.3 1189.0,411.0 1192.0,411.6 1195.0,411.8" stroke="#bf151a"/><polyline points="1195.0,411.8 1198.0,411.7 1201.0,411.6 1204.0,411.5 1207.0,411.4" stroke="#30be31"/><polyline points="1207.0,411.4 1210.0,411.4" stroke="#bf151a"/><polyline points="1210.0,411.4 1213.0,411.3" stroke="#30be31"/><polyline points="1213.0,411.3 1216.0,411.4 1219.0,411.5" stroke="#bf151a"/><polyline points="1219.0,411.5 1222.0,411.3 1225.0,411.3 1228.0,411.3 1231.0,411.3" stroke="#30be31"/><polyline points="1231.0,411.3 1234.0,411.4" stroke="#bf151a"/><polyline points="1234.0,411.4 1237.0,410.3 1240.0,409.7 1243.0,408.8 1246.0,408.2 1249.0,406.8 1252.0,405.6 1255.0,404.1 1258.0,401.8 1261.0,399.6 1264.0,397.5 1267.0,395.5 1270.0,393.5 1273.0,391.7 1276.0,389.3 1279.0,387.0 1282.0,384.5 1285.0,381.9 1288.0,379.5 1291.0,378.8" stroke="#30be31"/><polyline points="1291.0,378.8 1294.0,379.5 1297.0,380.1 1300.0,380.7 1303.0,381.3 1306.0,382.0 1309.0,382.5 1312.0,383.0" stroke="#bf151a"/><polyline points="1312.0,383.0 1315.0,382.7 1318.0,382.6 1321.0,382.4 1324.0,381.9 1327.0,381.4" stroke="#30be31"/><polyline points="1327.0,381.4 1330.0,381.7 1333.0,382.2 1336.0,382.4 1339.0,382.9 1342.0,383.4" stroke="#bf151a"/><polyline points="1342.0,383.4 1345.0,382.9 1348.0,382.5 1351.0,381.7 1354.0,381.1 1357.0,380.4 1360.0,380.0 1363.0,379.7 1366.0,379.2 1369.0,377.5 1372.0,375.9 1375.0,374.2 1378.0,371.4 1381.0,368.8 1384.0,366.1 1387.0,362.8 1390.0,359.3 1393.0,355.8 1396.0,352.3 1399.0,348.8 1402.0,345.1 1405.0,340.2 1408.0,335.3 1411.0,330.5 1414.0,326.4 1417.0,322.6 1420.0,319.0 1423.0,315.5 1426.0,312.2 1429.0,308.4 1432.0,305.1 1435.0,302.0 1438.0,298.8 1441.0,295.6 1444.0,292.3 1447.0,289.3 1450.0,286.5 1453.0,283.8 1456.0,281.9 1459.0,280.0 1462.0,278.4 1465.0,276.8 1468.0,275.1 1471.0,273.2 1474.0,271.3 1477.0,269.5 1480.0,267.7 1483.0,265.8 1486.0,264.1 1489.0,262.3 1492.0,260.4 1495.0,258.6 1498.0,257.3 1501.0,256.1 1504.0,254.9 1507.0,253.7 1510.0,252.7 1513.0,250.6 1516.0,248.5 1519.0,243.7 1522.0,239.2 1525.0,235.2 1528.0,231.4 1531.0,227.3 1534.0,222.5 1537.0,217.4 1540.0,213.1 1543.0,209.8 1546.0,206.2 1549.0,203.0 1552.0,199.9 1555.0,196.8 1558.0,193.9 1561.0,191.2 1564.0,188.4 1567.0,186.1 1570.0,184.4 1573.0,182.8 1576.0,181.6 1579.0,180.6 1582.0,179.3 1585.0,178.0 1588.0,176.8 1591.0,175.6 1594.0,174.5" stroke="#30be31"/><polyline points="1594.0,174.5 1597.0,174.9 1600.0,175.2 1603.0,175.6 1606.0,176.3 1609.0,177.1 1612.0,178.1 1615.0,179.1 1618.0,180.1 1621.0,180.8 1624.0,181.6 1627.0,182.9 1630.0,183.9 1633.0,184.7 1636.0,185.6 1639.0,186.3 1642.0,187.1 1645.0,187.9 1648.0,188.6 1651.0,189.8 1654.0,190.4 1657.0,191.2 1660.0,193.2 1663.0,194.8 1666.0,196.1" stroke="#bf151a"/><polyline points="1666.0,196.1 1669.0,195.7 1672.0,194.8 1675.0,194.2 1678.0,193.3 1681.0,192.6 1684.0,191.7 1687.0,189.1 1690.0,186.4 1693.0,181.8 1696.0,177.4 1699.0,173.0 1702.0,170.0 1705.0,166.9 1708.0,164.5 1711.0,162.6 1714.0,160.8 1717.0,159.0 1720.0,157.2 1723.0,155.7 1726.0,154.1 1729.0,152.1 1732.0,150.0 1735.0,148.6 1738.0,146.9 1741.0,145.3 1744.0,143.9 1747.0,142.6 1750.0,141.2 1753.0,140.0 1756.0,138.9 1759.0,137.0 1762.0,135.3 1765.0,133.6 1768.0,131.6 1771.0,129.7 1774.0,127.8 1777.0,126.1 1780.0,124.4 1783.0,122.9 1786.0,121.4 1789.0,120.2 1792.0,118.9 1795.0,117.5 1798.0,115.8 1801.0,114.1" stroke="#30be31"/><polyline points="1801.0,114.1 1804.0,114.2 1807.0,114.5 1810.0,114.9 1813.0,115.6 1816.0,115.8 1819.0,116.0" stroke="#bf151a"/><polyline points="1819.0,116.0 1822.0,114.7 1825.0,113.6 1828.0,112.8 1831.0,111.0 1834.0,109.4 1837.0,107.8 1840.0,104.7 1843.0,102.0 1846.0,99.0 1849.0,96.1 1852.0,93.4 1855.0,93.1 1858.0,93.1" stroke="#30be31"/><polyline points="1858.0,93.1 1861.0,94.0 1864.0,94.6 1867.0,94.8 1870.0,95.6 1873.0,96.1" stroke="#bf151a"/><polyline points="1873.0,96.1 1876.0,95.8 1879.0,95.6" stroke="#30be31"/><polyline points="1879.0,95.6 1882.0,96.1 1885.0,104.5 1888.0,112.4 1891.0,121.6 1894.0,129.2 1897.0,138.4 1900.0,147.3 1903.0,156.9 1906.0,166.1 1909.0,175.1 1912.0,183.1 1915.0,192.3 1918.0,201.4 1921.0,209.6 1924.0,218.4 1927.0,226.6 1930.0,233.2 1933.0,239.5 1936.0,245.1 1939.0,250.8 1942.0,263.7 1945.0,273.0 1948.0,281.3 1951.0,290.3 1954.0,298.1 1957.0,308.2 1960.0,317.9 1963.0,325.5 1966.0,333.1 1969.0,342.7 1972.0,351.7 1975.0,360.0 1978.0,367.6 1981.0,376.1 1984.0,384.2 1987.0,391.7 1990.0,397.6 1993.0,404.0 1996.0,409.8 1999.0,416.9 2002.0,423.1 2005.0,429.7 2008.0,435.7 2011.0,442.7 2014.0,449.6 2017.0,455.9 2020.0,462.3 2023.0,468.2 2026.0,473.8 2029.0,479.2 2032.0,484.4 2035.0,489.8 2038.0,494.5 2041.0,498.9 2044.0,503.3 2047.0,507.1 2050.0,510.6" stroke="#bf151a"/><polyline points="0.0,307.0 1.0,308.3 4.0,309.5 7.0,311.0 10.0,311.4 13.0,311.5 16.0,311.6 19.0,311.8 22.0,313.2 25.0,315.3 28.0,317.6 31.0,319.2 34.0,320.7 37.0,322.4 40.0,324.1 43.0,325.7 46.0,327.3 49.0,328.6 52.0,329.7 55.0,330.8 58.0,331.6 61.0,332.2 64.0,333.0 67.0,334.0 70.0,334.8 73.0,335.6 76.0,336.3 79.0,338.3 82.0,339.7 85.0,341.6 88.0,342.6 91.0,344.0 94.0,344.3 97.0,344.3 100.0,346.1 103.0,347.3 106.0,348.7 109.0,351.2 112.0,353.7 115.0,356.1 118.0,357.3 121.0,358.7 124.0,360.0 127.0,360.3 130.0,360.5 133.0,361.0 136.0,361.4" stroke="#cc161c"/><polyline points="136.0,361.4 139.0,361.2" stroke="#34cc34"/><polyline points="139.0,361.2 142.0,361.5 145.0,362.1 148.0,365.7 151.0,369.3 154.0,372.7 157.0,374.7 160.0,376.8 163.0,378.4" stroke="#cc161c"/><polyline points="163.0,378.4 166.0,377.6 169.0,377.2 172.0,377.1 175.0,376.7 178.0,376.5 181.0,376.3 184.0,376.0" stroke="#34cc34"/><polyline points="184.0,376.0 187.0,376.3" stroke="#cc161c"/><polyline points="187.0,376.3 190.0,376.1 193.0,375.0" stroke="#34cc34"/><polyline points="193.0,375.0 196.0,375.5 199.0,376.2 202.0,376.7 205.0,377.0" stroke="#cc161c"/><polyline points="205.0,377.0 208.0,376.3 211.0,374.1 214.0,371.9 217.0,371.6 220.0,371.1" stroke="#34cc34"/><polyline points="220.0,371.1 223.0,371.5" stroke="#cc161c"/><polyline points="223.0,371.5 226.0,371.1 229.0,370.1 232.0,365.8 235.0,362.1 238.0,359.0 241.0,355.1 244.0,351.7 247.0,347.9 250.0,343.2 253.0,339.5 256.0,336.8 259.0,333.9 262.0,330.9 265.0,329.4 268.0,328.3 271.0,327.4 274.0,325.9 277.0,324.6 280.0,323.7 283.0,321.7 286.0,320.1 289.0,318.3 292.0,317.6 295.0,316.8 298.0,316.1 301.0,315.7" stroke="#34cc34"/><polyline points="301.0,315.7 304.0,316.0 307.0,316.5 310.0,317.1 313.0,317.7 316.0,318.3 319.0,318.6 322.0,318.7 325.0,319.2 328.0,319.7" stroke="#cc161c"/><polyline points="328.0,319.7 331.0,319.2 334.0,318.8 337.0,318.2 340.0,317.8 343.0,317.3 346.0,316.8 349.0,316.2" stroke="#34cc34"/><polyline points="349.0,316.2 352.0,316.2" stroke="#cc161c"/><polyline points="352.0,316.2 355.0,316.1 358.0,315.7 361.0,315.5 364.0,315.2 367.0,314.8 370.0,313.6 373.0,312.3 376.0,311.3 379.0,310.5 382.0,309.3 385.0,308.7 388.0,308.0 391.0,306.8 394.0,306.1 397.0,305.5" stroke="#34cc34"/><polyline points="397.0,305.5 400.0,307.3 403.0,308.8 406.0,309.7 409.0,311.3 412.0,312.1 415.0,312.3" stroke="#cc161c"/><polyline points="415.0,312.3 418.0,312.3 421.0,312.1" stroke="#34cc34"/><polyline points="421.0,312.1 424.0,312.5 427.0,312.8 430.0,313.0 433.0,313.3 436.0,313.4" stroke="#cc161c"/><polyline points="436.0,313.4 439.0,313.3 442.0,313.0" stroke="#34cc34"/><polyline points="442.0,313.0 445.0,313.0 448.0,313.0" stroke="#cc161c"/><polyline points="448.0,313.0 451.0,313.0 454.0,312.7 457.0,312.6" stroke="#34cc34"/><polyline points="457.0,312.6 460.0,313.4 463.0,314.5 466.0,315.1 469.0,315.5 472.0,315.5 475.0,316.0 478.0,316.5 481.0,316.8 484.0,317.0 487.0,317.1 490.0,317.3" stroke="#cc161c"/><polyline points="490.0,317.3 493.0,317.3 496.0,317.2 499.0,317.0 502.0,316.6 505.0,316.4" stroke="#34cc34"/><polyline points="505.0,316.4 508.0,316.5" stroke="#cc161c"/><polyline points="508.0,316.5 511.0,316.2 514.0,316.1 517.0,312.1 520.0,308.5 523.0,304.6 526.0,300.6 529.0,297.8 532.0,295.7 535.0,294.1" stroke="#34cc34"/><polyline points="535.0,294.1 538.0,297.6 541.0,300.6 544.0,303.7 547.0,306.4 550.0,311.2 553.0,315.9 556.0,321.2 559.0,325.4 562.0,329.0 565.0,331.8 568.0,334.4 571.0,337.0 574.0,341.9 577.0,346.7 580.0,351.6 583.0,356.4 586.0,360.5 589.0,364.9 592.0,368.9 595.0,372.3 598.0,376.6 601.0,381.1 604.0,384.9 607.0,387.3 610.0,389.7 613.0,392.1 616.0,393.5 619.0,394.9 622.0,396.7 625.0,398.9 628.0,401.3 631.0,403.4 634.0,405.5 637.0,407.4 640.0,409.2 643.0,410.3 646.0,411.7 649.0,413.1 652.0,414.5 655.0,415.6" stroke="#cc161c"/><polyline points="655.0,415.6 658.0,414.8 661.0,414.3 664.0,413.6 667.0,413.1 670.0,412.7 673.0,412.4 676.0,411.8" stroke="#34cc34"/><polyline points="676.0,411.8 679.0,412.6 682.0,413.3 685.0,413.9 688.0,415.2 691.0,417.4 694.0,419.6 697.0,421.4 700.0,423.5 703.0,425.6 706.0,427.5 709.0,429.5 712.0,432.2 715.0,434.2 718.0,437.3 721.0,440.2 724.0,442.9 727.0,445.3 730.0,446.0 733.0,446.8" stroke="#cc161c"/><polyline points="733.0,446.8 736.0,445.8 739.0,444.9 742.0,443.7 745.0,442.4 748.0,440.9 751.0,440.1 754.0,438.9 757.0,438.1 760.0,437.4 763.0,436.8 766.0,435.6 769.0,434.4 772.0,432.8 775.0,431.5 778.0,428.8 781.0,426.5 784.0,424.6 787.0,422.9 790.0,421.1 793.0,420.2 796.0,419.7 799.0,417.6 802.0,415.5 805.0,413.5 808.0,411.3 811.0,409.0 814.0,406.6 817.0,405.5 820.0,402.9 823.0,400.0 826.0,394.8 829.0,391.1 832.0,387.6 835.0,384.5 838.0,380.1 841.0,376.1 844.0,372.3 847.0,367.1 850.0,361.9 853.0,357.7 856.0,351.7 859.0,347.4 862.0,342.9 865.0,339.9 868.0,336.5 871.0,333.5 874.0,330.3 877.0,327.7 880.0,325.2 883.0,322.8 886.0,320.7 889.0,318.5 892.0,316.7 895.0,314.8 898.0,311.4 901.0,308.3 904.0,305.5 907.0,302.9 910.0,300.3 913.0,297.8 916.0,295.6 919.0,293.5 922.0,291.6 925.0,289.9 928.0,288.4 931.0,286.8 934.0,285.4 937.0,283.7 940.0,282.1 943.0,280.5" stroke="#34cc34"/><polyline points="943.0,280.5 946.0,281.2 949.0,281.7 952.0,282.4" stroke="#cc161c"/><polyline points="952.0,282.4 955.0,282.4" stroke="#34cc34"/><polyline points="955.0,282.4 958.0,282.5" stroke="#cc161c"/><polyline points="958.0,282.5 961.0,282.5 964.0,282.3 967.0,282.3" stroke="#34cc34"/><polyline points="967.0,282.3 970.0,283.3 973.0,283.9 976.0,284.5 979.0,285.1" stroke="#cc161c"/><polyline points="979.0,285.1 982.0,284.5 985.0,284.1 988.0,283.9 991.0,283.5 994.0,283.2 997.0,282.9 1000.0,282.5 1003.0,282.2 1006.0,281.7 1009.0,281.0 1012.0,280.4" stroke="#34cc34"/><polyline points="1012.0,280.4 1015.0,281.0 1018.0,281.7 1021.0,283.2 1024.0,283.9 1027.0,289.1 1030.0,293.9 1033.0,298.4 1036.0,302.9 1039.0,307.2 1042.0,312.3 1045.0,316.9 1048.0,321.8 1051.0,326.6 1054.0,330.7 1057.0,334.1 1060.0,337.0 1063.0,339.9 1066.0,343.9 1069.0,347.7 1072.0,352.2 1075.0,356.3 1078.0,360.4 1081.0,362.4 1084.0,364.5 1087.0,366.6 1090.0,366.9 1093.0,367.5" stroke="#cc161c"/><polyline points="1093.0,367.5 1096.0,367.4" stroke="#34cc34"/><polyline points="1096.0,367.4 1099.0,370.1 1102.0,371.6 1105.0,374.0 1108.0,379.9 1111.0,385.2 1114.0,391.3 1117.0,396.1 1120.0,397.7 1123.0,399.4 1126.0,401.5 1129.0,404.0 1132.0,406.0 1135.0,408.0 1138.0,409.8 1141.0,411.2" stroke="#cc161c"/><polyline points="1141.0,411.2 1144.0,411.1" stroke="#34cc34"/><polyline points="1144.0,411.1 1147.0,411.3 1150.0,411.3 1153.0,411.3" stroke="#cc161c"/><polyline points="1153.0,411.3 1156.0,411.3" stroke="#34cc34"/><polyline points="1156.0,411.3 1159.0,411.8 1162.0,412.2 1165.0,412.7 1168.0,413.3 1171.0,413.7 1174.0,414.1 1177.0,414.7 1180.0,415.1 1183.0,415.4 1186.0,415.7 1189.0,416.2 1192.0,416.6" stroke="#cc161c"/><polyline points="1192.0,416.6 1195.0,416.5 1198.0,416.1 1201.0,415.7 1204.0,415.3 1207.0,414.9 1210.0,414.7 1213.0,414.5 1216.0,414.4 1219.0,414.3 1222.0,413.9 1225.0,413.7 1228.0,413.5 1231.0,413.4" stroke="#34cc34"/><polyline points="1231.0,413.4 1234.0,413.4" stroke="#cc161c"/><polyline points="1234.0,413.4 1237.0,411.9 1240.0,411.1 1243.0,409.9 1246.0,409.0 1249.0,407.2 1252.0,405.6 1255.0,403.7 1258.0,400.9 1261.0,398.2 1264.0,395.6 1267.0,393.2 1270.0,390.8 1273.0,388.8 1276.0,385.9 1279.0,383.3 1282.0,380.3 1285.0,377.3 1288.0,374.6 1291.0,374.0" stroke="#34cc34"/><polyline points="1291.0,374.0 1294.0,375.2 1297.0,376.2 1300.0,377.2 1303.0,378.2 1306.0,379.3 1309.0,380.1 1312.0,380.8" stroke="#cc161c"/><polyline points="1312.0,380.8 1315.0,380.6 1318.0,380.5 1321.0,380.5 1324.0,380.0 1327.0,379.5" stroke="#34cc34"/><polyline points="1327.0,379.5 1330.0,379.9 1333.0,380.7 1336.0,381.1 1339.0,381.7 1342.0,382.4" stroke="#cc161c"/><polyline points="1342.0,382.4 1345.0,381.9 1348.0,381.5 1351.0,380.5 1354.0,379.8 1357.0,379.1 1360.0,378.6 1363.0,378.3 1366.0,377.8 1369.0,375.7 1372.0,373.8 1375.0,371.8 1378.0,368.4 1381.0,365.4 1384.0,362.1 1387.0,358.3 1390.0,354.1 1393.0,350.0 1396.0,346.0 1399.0,342.0 1402.0,337.7 1405.0,332.1 1408.0,326.4 1411.0,320.9 1414.0,316.3 1417.0,312.2 1420.0,308.4 1423.0,304.5 1426.0,301.1 1429.0,297.1 1432.0,293.6 1435.0,290.4 1438.0,287.1 1441.0,283.8 1444.0,280.4 1447.0,277.4 1450.0,274.6 1453.0,272.0 1456.0,270.3 1459.0,268.7 1462.0,267.3 1465.0,265.9 1468.0,264.5 1471.0,262.8 1474.0,261.1 1477.0,259.4 1480.0,257.8 1483.0,256.1 1486.0,254.4 1489.0,252.8 1492.0,251.0 1495.0,249.3 1498.0,248.3 1501.0,247.4 1504.0,246.4 1507.0,245.4 1510.0,244.7 1513.0,242.6 1516.0,240.4 1519.0,234.8 1522.0,229.8 1525.0,225.3 1528.0,221.1 1531.0,216.6 1534.0,211.2 1537.0,205.5 1540.0,200.8 1543.0,197.4 1546.0,193.7 1549.0,190.4 1552.0,187.3 1555.0,184.2 1558.0,181.3 1561.0,178.7 1564.0,176.0 1567.0,173.9 1570.0,172.5 1573.0,171.2 1576.0,170.4 1579.0,169.9 1582.0,169.0 1585.0,167.9 1588.0,167.1 1591.0,166.2 1594.0,165.4" stroke="#34cc34"/><polyline points="1594.0,165.4 1597.0,166.4 1600.0,167.3 1603.0,168.3 1606.0,169.7 1609.0,171.1 1612.0,172.7 1615.0,174.3 1618.0,175.8 1621.0,177.0 1624.0,178.3 1627.0,180.1 1630.0,181.6 1633.0,182.7 1636.0,183.9 1639.0,185.0 1642.0,186.1 1645.0,187.1 1648.0,188.1 1651.0,189.6 1654.0,190.4 1657.0,191.4 1660.0,193.8 1663.0,195.9 1666.0,197.4" stroke="#cc161c"/><polyline points="1666.0,197.4 1669.0,196.8 1672.0,195.6 1675.0,194.8 1678.0,193.7 1681.0,192.8 1684.0,191.6 1687.0,188.4 1690.0,185.0 1693.0,179.3 1696.0,173.9 1699.0,168.6 1702.0,165.1 1705.0,161.5 1708.0,158.8 1711.0,156.8 1714.0,154.8 1717.0,153.0 1720.0,151.1 1723.0,149.6 1726.0,148.0 1729.0,145.8 1732.0,143.6 1735.0,142.2 1738.0,140.5 1741.0,138.8 1744.0,137.5 1747.0,136.2 1750.0,134.9 1753.0,133.8 1756.0,132.7 1759.0,130.7 1762.0,129.0 1765.0,127.3 1768.0,125.2 1771.0,123.1 1774.0,121.1 1777.0,119.5 1780.0,117.8 1783.0,116.3 1786.0,114.8 1789.0,113.7 1792.0,112.4 1795.0,111.1 1798.0,109.4 1801.0,107.6" stroke="#34cc34"/><polyline points="1801.0,107.6 1804.0,108.2 1807.0,109.0 1810.0,109.8 1813.0,111.0 1816.0,111.6 1819.0,112.0" stroke="#cc161c"/><polyline points="1819.0,112.0 1822.0,110.7 1825.0,109.5 1828.0,108.8 1831.0,106.8 1834.0,105.0 1837.0,103.2 1840.0,99.6 1843.0,96.5 1846.0,93.1 1849.0,89.8 1852.0,86.8" stroke="#34cc34"/><polyline points="1852.0,86.8 1855.0,86.9 1858.0,87.3 1861.0,88.7 1864.0,89.9 1867.0,90.4 1870.0,91.6 1873.0,92.5" stroke="#cc161c"/><polyline points="1873.0,92.5 1876.0,92.4 1879.0,92.3" stroke="#34cc34"/><polyline points="1879.0,92.3 1882.0,93.2 1885.0,103.9 1888.0,113.9 1891.0,125.4 1894.0,134.8 1897.0,145.9 1900.0,156.7 1903.0,168.2 1906.0,179.1 1909.0,189.6 1912.0,198.7 1915.0,209.4 1918.0,219.7 1921.0,228.9 1924.0,238.8 1927.0,247.9 1930.0,254.8 1933.0,261.4 1936.0,267.0 1939.0,272.9 1942.0,287.7 1945.0,298.0 1948.0,306.8 1951.0,316.5 1954.0,324.7 1957.0,335.8 1960.0,346.2 1963.0,354.0 1966.0,361.8 1969.0,372.1 1972.0,381.6 1975.0,390.2 1978.0,397.8 1981.0,406.6 1984.0,414.9 1987.0,422.4 1990.0,428.0 1993.0,434.1 1996.0,439.5 1999.0,446.6 2002.0,452.6 2005.0,459.0 2008.0,464.8 2011.0,471.7 2014.0,478.5 2017.0,484.8 2020.0,491.0 2023.0,496.6 2026.0,501.9 2029.0,507.0 2032.0,511.7 2035.0,516.8 2038.0,521.1 2041.0,524.9 2044.0,528.8 2047.0,532.0 2050.0,534.9" stroke="#cc161c"/></g>
<g fill="none"><path d="M1.2 323.4V337.0M4.2 320.2V332.4M7.2 320.0V336.9M10.2 312.6V332.3M13.2 307.1V318.0M16.2 308.5V316.1M19.2 307.3V317.6M22.2 314.9V340.8M25.2 335.5V355.1M28.2 339.3V354.9M31.2 338.9V354.5M34.2 339.7V350.7M37.2 339.7V356.7M40.2 347.5V354.0M43.2 347.2V352.1M46.2 345.3V354.0M49.2 344.7V354.9M52.2 345.6V354.6M55.2 344.5V350.8M58.2 340.1V349.8M61.2 340.0V352.3M64.2 341.1V351.8M67.2 343.4V351.5M70.2 342.6V353.0M73.2 342.8V350.4M76.2 344.0V352.4M79.2 346.9V373.0M82.2 353.3V373.0M85.2 351.5V373.0M88.2 352.6V370.7M91.2 352.2V373.0M94.2 342.9V364.8M97.2 338.9V356.5M100.2 344.4V378.0M103.2 363.7V374.5M106.2 358.7V379.0M109.2 367.6V401.5M112.2 368.6V411.3M115.2 372.5V405.8M118.2 368.6V392.5M121.2 368.9V385.4M124.2 372.8V387.8M127.2 357.0V378.2M130.2 358.7V374.0M133.2 358.8V372.2M136.2 357.0V374.2M139.2 357.0V371.6M142.2 359.4V368.3M145.2 363.0V381.8M148.2 371.3V446.5M151.2 416.0V439.9M154.2 419.7V433.6M157.2 387.0V424.5M160.2 387.0V423.7M163.2 387.3V412.9M166.2 354.0V401.5M169.2 354.1V377.6M172.2 367.0V385.9M175.2 368.2V385.9M178.2 361.0V382.5M181.2 362.8V385.0M184.2 364.1V386.2M187.2 364.2V387.0M190.2 360.0V384.7M193.2 347.7V373.4M196.2 357.5V394.4M199.2 376.3V393.5M202.2 371.6V390.8M205.2 374.1V388.3M208.2 347.9V382.5M211.2 328.5V365.4M214.2 330.0V358.6M217.2 338.1V385.6M220.2 351.7V385.5M223.2 348.0V387.0M226.2 344.7V387.0M229.2 344.0V380.8M466.2 313.4V330.9M541.2 324.8V379.6M544.2 327.5V364.9M547.2 322.2V361.5M550.2 346.5V400.4M553.2 375.7V408.8M556.2 372.9V414.0M559.2 362.6V400.1M562.2 366.7V396.3M565.2 361.9V389.6M568.2 357.0V389.6M571.2 364.7V386.4M574.2 375.7V430.8M577.2 399.3V430.0M580.2 418.7V431.4M583.2 421.7V433.8M586.2 417.3V434.2M589.2 420.1V433.5M592.2 419.8V436.0M595.2 418.0V435.4M598.2 424.6V454.8M601.2 432.9V457.1M604.2 433.5V461.0M607.2 398.5V442.3M610.2 406.3V436.0M613.2 407.6V436.0M616.2 402.7V436.0M619.2 399.9V427.7M622.2 405.7V432.4M625.2 423.6V441.5M628.2 429.3V444.0M631.2 426.6V444.0M634.2 429.3V442.7M637.2 428.3V444.0M640.2 428.8V443.8M643.2 421.2V441.5M646.2 420.0V441.1M649.2 422.0V441.0M652.2 420.4V442.1M655.2 423.2V444.0M658.2 397.7V431.7M661.2 396.2V416.1M664.2 396.4V413.6M667.2 401.6V415.1M670.2 395.8V415.3M673.2 395.0V411.8M676.2 396.4V410.6M679.2 403.6V442.7M682.2 409.0V436.8M685.2 409.4V443.3M688.2 412.5V444.0M691.2 435.9V458.1M694.2 436.7V459.5M697.2 436.0V459.4M700.2 448.1V465.1M703.2 449.2V463.8M706.2 450.6V460.5M709.2 452.8V462.5M712.2 454.9V484.4M715.2 441.2V487.2M718.2 465.0V493.6M721.2 469.2V500.0M724.2 471.9V500.0M727.2 463.2V491.2M730.2 444.5V481.4M733.2 449.9V480.1M736.2 418.6V459.9M739.2 410.0V439.5M742.2 413.2V437.3M745.2 414.2V431.5M748.2 413.0V435.7M751.2 418.5V435.7M754.2 413.4V435.9M757.2 415.2V435.8M760.2 420.5V436.2M763.2 424.4V436.2M766.2 407.1V428.6M769.2 402.7V422.5M772.2 402.9V417.0M775.2 401.4V418.7M778.2 379.0V411.8M793.2 388.9V427.0M796.2 390.7V427.0M1033.2 355.5V380.1M1036.2 357.5V375.6M1039.2 356.6V378.8M1042.2 372.2V409.5M1045.2 367.2V421.5M1048.2 385.4V405.0M1051.2 390.8V402.1M1054.2 389.0V401.4M1057.2 367.0V393.4M1060.2 375.2V387.1M1063.2 370.2V390.3M1066.2 384.1V411.1M1069.2 392.4V410.6M1072.2 404.0V424.2M1075.2 415.0V425.0M1078.2 410.4V428.9M1081.2 386.5V422.0M1084.2 388.1V412.1M1087.2 381.6V404.7M1090.2 350.0V397.7M1093.2 350.3V385.0M1096.2 360.1V378.0M1099.2 365.6V430.4M1102.2 372.0V436.8M1105.2 372.0V435.2M1108.2 409.8V476.9M1111.2 452.7V490.5M1114.2 449.5V493.9M1117.2 454.9V484.4M1120.2 411.5V468.0M1123.2 414.8V434.3M1126.2 422.2V437.4M1129.2 429.8V445.8M1132.2 424.6V446.3M1135.2 428.9V440.8M1138.2 426.3V448.0M1141.2 427.2V447.2M1144.2 405.2V433.4M1147.2 406.6V418.0M1150.2 407.5V417.7M1153.2 405.6V415.6M1156.2 401.5V418.0M1159.2 411.0V426.0M1162.2 416.4V425.1M1165.2 416.6V424.7M1168.2 416.7V425.2M1171.2 416.1V424.9M1174.2 414.4V424.9M1177.2 414.8V426.0M1180.2 413.0V426.0M1183.2 417.9V426.0M1186.2 417.3V424.4M1189.2 414.0V425.2M1192.2 414.4V425.9M1195.2 413.1V423.6M1198.2 405.9V416.1M1201.2 407.0V413.1M1204.2 407.6V413.4M1207.2 406.4V413.3M1210.2 405.8V414.2M1213.2 408.3V414.3M1216.2 409.9V414.8M1219.2 409.4V414.8M1222.2 406.8V413.1M1225.2 406.1V412.7M1228.2 404.9V421.9M1231.2 404.2V420.2M1234.2 406.1V427.3M1237.2 384.2V414.2M1240.2 383.3V405.7M1243.2 382.7V402.9M1246.2 390.7V404.0M1300.2 385.9V400.5M1303.2 377.0V407.0M1306.2 377.2V404.3M1309.2 382.3V406.7M1312.2 378.6V404.8M1333.2 381.7V402.6M1336.2 379.3V402.4M1339.2 383.2V402.6M1342.2 377.0V403.7M1891.2 260.8V311.9M1894.2 253.0V310.5M1897.2 275.5V339.8M1900.2 283.5V343.8M1903.2 293.6V351.0M1906.2 337.0V357.3M1909.2 333.5V357.0M1912.2 326.7V356.0M1915.2 335.3V375.7M1918.2 357.8V378.0M1921.2 357.2V378.0M1924.2 366.7V392.1M1927.2 365.0V392.9M1930.2 344.5V383.9M1933.2 339.8V378.2M1936.2 342.9V372.6M1939.2 342.0V379.8M1942.2 376.0V510.0M1945.2 418.7V510.0M1948.2 417.7V482.0M1951.2 434.9V471.8M1954.2 425.8V464.9M1957.2 447.7V515.9M1960.2 479.0V531.1M1963.2 460.7V502.7M1966.2 458.0V488.5M1969.2 478.5V538.1M1972.2 499.9V532.9M1975.2 501.9V540.0M1978.2 499.9V530.6M1981.2 513.0V545.7M1987.2 528.7V544.7M1990.2 501.8V541.5M1993.2 501.0V536.3M1996.2 501.0V536.2M1999.2 520.4V561.5" stroke="#ff0000" stroke-width="1.2"/><path d="M1.2 323.7V335.0M4.2 320.6V331.6M7.2 320.2V332.5M10.2 314.6V332.3M13.2 308.2V318.0M16.2 309.0V314.8M19.2 307.7V316.3M22.2 314.9V337.8M25.2 335.5V350.7M28.2 343.2V353.6M31.2 339.2V350.9M34.2 341.2V348.9M37.2 341.5V352.2M40.2 347.5V352.9M43.2 348.6V351.1M46.2 347.6V351.9M49.2 345.2V353.9M52.2 348.0V352.9M55.2 346.1V348.9M58.2 342.5V349.3M61.2 341.9V348.7M64.2 343.6V350.1M67.2 345.5V349.6M70.2 342.7V352.9M73.2 345.0V348.2M76.2 344.5V350.8M79.2 346.9V368.8M82.2 358.0V371.0M85.2 356.2V371.9M88.2 356.1V370.7M91.2 356.2V369.7M94.2 344.1V364.8M97.2 343.7V354.7M100.2 344.4V375.1M103.2 366.3V373.9M106.2 362.1V374.2M109.2 372.8V395.8M112.2 375.1V402.5M115.2 381.3V396.4M118.2 369.4V392.5M121.2 369.7V381.9M124.2 377.1V386.0M127.2 359.7V378.2M130.2 358.8V372.5M133.2 359.2V371.1M136.2 361.2V372.9M139.2 357.3V368.5M142.2 359.4V366.1M145.2 368.2V380.3M148.2 371.3V443.6M151.2 418.5V439.8M154.2 421.7V429.7M157.2 390.5V424.5M160.2 394.0V419.2M163.2 388.5V412.2M166.2 356.8V401.5M169.2 358.0V375.8M172.2 369.8V384.8M175.2 368.4V384.3M178.2 365.6V376.8M181.2 363.1V379.4M184.2 367.5V382.9M187.2 368.9V382.3M190.2 364.7V380.0M193.2 350.5V373.4M196.2 357.5V389.2M199.2 380.2V390.3M202.2 374.9V390.7M205.2 375.4V386.1M208.2 354.5V382.5M211.2 330.7V365.4M214.2 337.1V354.2M217.2 338.1V385.5M220.2 360.2V385.5M223.2 351.4V382.6M226.2 348.2V386.4M229.2 346.9V375.1M466.2 316.7V330.9M541.2 330.2V371.0M544.2 328.6V354.1M547.2 327.4V359.2M550.2 346.5V394.9M553.2 381.7V404.8M556.2 378.1V411.2M559.2 369.8V400.1M562.2 373.0V390.7M565.2 367.5V381.9M568.2 366.5V389.2M571.2 365.3V382.6M574.2 375.7V425.1M577.2 400.5V421.0M580.2 418.7V430.3M583.2 425.1V431.9M586.2 421.2V430.1M589.2 421.5V430.9M592.2 420.4V431.9M595.2 420.3V434.5M598.2 424.6V451.8M601.2 433.3V451.1M604.2 433.6V453.1M607.2 402.0V442.3M610.2 413.3V430.0M613.2 412.2V429.7M616.2 404.1V431.1M619.2 407.1V427.6M622.2 408.7V429.0M625.2 423.6V439.1M628.2 433.3V443.9M631.2 429.1V441.3M634.2 432.6V441.5M637.2 432.9V440.9M640.2 431.6V440.2M643.2 423.1V441.5M646.2 425.8V437.2M649.2 423.2V437.2M652.2 424.7V439.7M655.2 425.8V442.0M658.2 398.3V431.7M661.2 401.8V410.3M664.2 396.5V413.6M667.2 401.7V412.2M670.2 400.8V411.0M673.2 396.3V406.9M676.2 397.8V407.5M679.2 403.6V435.9M682.2 412.5V433.6M685.2 410.0V433.4M688.2 420.4V438.3M691.2 435.9V453.1M694.2 442.3V453.4M697.2 437.9V453.5M700.2 448.1V461.8M703.2 452.1V461.7M706.2 450.9V458.1M709.2 454.4V461.2M712.2 458.1V479.4M715.2 442.7V478.5M718.2 465.0V493.4M721.2 476.4V496.1M724.2 472.3V498.3M727.2 471.2V483.6M730.2 450.1V481.4M733.2 458.7V471.1M736.2 423.2V459.9M739.2 410.5V438.2M742.2 418.7V436.6M745.2 414.9V428.0M748.2 419.4V429.8M751.2 418.5V433.5M754.2 414.9V435.5M757.2 416.1V434.2M760.2 424.7V435.6M763.2 426.1V435.2M766.2 410.6V428.6M769.2 402.8V417.7M772.2 404.8V413.2M775.2 402.4V418.3M778.2 384.4V411.8M793.2 397.5V426.3M796.2 396.6V426.8M1033.2 356.9V374.0M1036.2 358.8V375.4M1039.2 362.9V375.5M1042.2 372.2V408.0M1045.2 379.0V421.4M1048.2 385.4V402.6M1051.2 393.8V401.5M1054.2 389.4V400.2M1057.2 373.9V393.4M1060.2 377.2V383.7M1063.2 370.4V389.2M1066.2 384.1V408.3M1069.2 393.0V405.9M1072.2 404.0V423.5M1075.2 416.2V424.8M1078.2 411.1V423.4M1081.2 391.9V422.0M1084.2 388.2V407.8M1087.2 385.9V398.7M1090.2 353.5V397.7M1093.2 357.8V384.5M1096.2 365.1V374.3M1099.2 365.6V430.1M1102.2 385.3V429.4M1105.2 390.0V435.0M1108.2 409.8V475.6M1111.2 462.3V486.0M1114.2 457.4V493.4M1117.2 458.0V484.3M1120.2 412.6V468.0M1123.2 417.9V428.7M1126.2 425.8V434.5M1129.2 434.3V442.5M1132.2 426.9V442.7M1135.2 430.6V439.4M1138.2 429.2V445.1M1141.2 431.6V443.9M1144.2 405.8V433.4M1147.2 406.9V416.3M1150.2 409.6V417.0M1153.2 406.2V413.4M1156.2 402.1V417.1M1159.2 411.0V423.5M1162.2 417.5V425.0M1165.2 417.7V424.7M1168.2 417.5V425.0M1171.2 417.5V423.4M1174.2 415.2V422.7M1177.2 416.4V425.1M1180.2 416.0V424.6M1183.2 418.0V424.7M1186.2 417.7V422.8M1189.2 415.7V423.0M1192.2 414.8V423.4M1195.2 414.9V422.3M1198.2 406.7V416.1M1201.2 408.9V412.7M1204.2 408.9V412.0M1207.2 407.8V412.1M1210.2 406.7V412.2M1213.2 408.4V414.1M1216.2 410.0V414.6M1219.2 410.8V413.2M1222.2 407.8V412.7M1225.2 406.3V411.8M1228.2 408.7V419.4M1231.2 405.2V415.5M1234.2 406.5V427.1M1237.2 388.3V414.2M1240.2 388.1V403.0M1243.2 385.2V402.0M1246.2 393.2V402.5M1300.2 389.6V398.7M1303.2 384.4V401.0M1306.2 383.4V403.3M1309.2 386.4V406.3M1312.2 383.2V397.0M1333.2 387.2V402.2M1336.2 385.7V398.5M1339.2 384.4V397.8M1342.2 384.6V400.4M1891.2 271.2V301.9M1894.2 266.5V297.0M1897.2 275.5V339.5M1900.2 291.8V336.5M1903.2 301.7V335.5M1906.2 340.6V352.3M1909.2 335.0V354.4M1912.2 331.9V352.2M1915.2 335.3V374.3M1918.2 360.4V375.7M1921.2 361.7V376.8M1924.2 366.7V387.2M1927.2 368.0V385.2M1930.2 350.2V383.9M1933.2 346.7V375.2M1936.2 343.0V369.6M1939.2 344.0V373.0M1942.2 378.7V507.3M1945.2 430.3V510.0M1948.2 419.0V466.6M1951.2 438.6V463.3M1954.2 429.3V463.0M1957.2 447.7V512.0M1960.2 482.1V521.8M1963.2 463.0V502.7M1966.2 463.2V488.4M1969.2 478.5V533.3M1972.2 501.3V529.3M1975.2 512.7V533.7M1978.2 502.9V526.2M1981.2 513.0V542.6M1987.2 530.3V540.8M1990.2 504.6V540.8M1993.2 506.8V526.5M1996.2 510.1V532.1M1999.2 520.4V561.0" stroke="#ff0000" stroke-width="2.2"/><path d="M235.2 285.0V328.0M238.2 288.6V327.8M241.2 287.3V325.8M244.2 285.0V322.1M247.2 256.0V309.8M250.2 258.3V320.4M253.2 264.6V308.9M256.2 259.3V316.2M259.2 273.3V300.5M262.2 271.0V301.0M265.2 285.3V323.9M268.2 298.1V322.7M271.2 303.7V317.6M274.2 298.6V316.0M277.2 299.3V319.1M280.2 301.3V325.0M283.2 277.3V310.1M286.2 276.9V302.0M289.2 284.1V303.0M292.2 292.1V315.9M295.2 298.6V316.2M298.2 299.7V309.2M301.2 301.7V314.2M304.2 309.4V330.0M307.2 319.3V331.2M310.2 318.9V329.2M313.2 320.9V331.0M316.2 312.0V332.5M319.2 316.5V333.8M322.2 315.2V334.0M325.2 316.5V334.0M328.2 313.6V333.2M331.2 306.4V326.1M334.2 304.0V316.4M337.2 305.0V313.4M340.2 304.3V318.2M343.2 304.4V317.3M346.2 304.0V318.0M349.2 304.0V317.5M352.2 304.5V320.7M355.2 304.1V319.8M358.2 307.3V315.9M361.2 307.4V316.6M364.2 306.0V316.9M367.2 307.0V312.8M370.2 284.0V309.3M373.2 284.0V305.8M376.2 288.1V306.7M379.2 289.3V307.3M382.2 285.8V307.2M385.2 290.5V301.8M388.2 284.0V304.5M391.2 285.0V301.0M394.2 290.0V302.5M397.2 288.2V306.1M418.2 304.7V324.5M421.2 306.8V319.1M424.2 307.5V324.7M427.2 309.4V322.9M430.2 309.9V325.0M433.2 306.6V324.9M436.2 305.4V322.2M439.2 306.0V317.0M442.2 304.0V319.7M445.2 305.1V321.3M448.2 305.3V317.8M451.2 304.0V319.0M454.2 306.2V316.3M457.2 308.3V314.1M493.2 302.4V320.9M496.2 306.8V320.8M499.2 308.4V317.0M502.2 307.7V321.0M505.2 308.5V320.6M508.2 302.4V319.9M511.2 304.9V321.0M514.2 309.1V320.4M517.2 253.0V316.0M520.2 253.0V316.0M523.2 223.5V272.0M526.2 207.2V256.8M529.2 237.3V268.2M532.2 242.8V278.9M535.2 234.6V287.3M808.2 370.5V393.7M811.2 356.1V396.7M814.2 356.0V397.8M817.2 363.0V401.0M820.2 328.4V390.0M823.2 324.9V378.1M826.2 301.2V360.2M829.2 313.6V352.7M832.2 298.0V362.0M835.2 313.7V361.7M838.2 308.9V338.5M841.2 309.3V327.3M844.2 308.8V326.8M847.2 275.4V315.5M850.2 274.0V310.6M853.2 282.4V300.9M856.2 245.2V293.8M859.2 262.6V288.0M862.2 270.5V286.0M865.2 275.4V302.0M868.2 278.7V298.1M871.2 278.7V296.0M874.2 278.9V293.5M877.2 276.9V302.0M880.2 274.9V296.0M883.2 276.5V296.9M886.2 279.2V301.0M889.2 272.3V294.0M892.2 271.8V294.0M895.2 268.0V291.8M898.2 258.1V285.6M901.2 259.0V267.9M904.2 257.4V268.8M907.2 258.2V268.7M910.2 259.8V266.9M913.2 257.4V270.0M916.2 257.3V269.1M919.2 259.4V268.3M922.2 260.9V270.5M925.2 257.6V270.8M928.2 261.8V269.8M931.2 258.8V271.0M934.2 257.7V269.0M937.2 254.7V266.1M940.2 254.9V266.2M943.2 251.9V264.2M946.2 255.9V308.4M949.2 276.0V303.4M952.2 282.2V309.2M955.2 273.9V292.5M958.2 278.8V294.7M961.2 275.6V294.4M964.2 274.4V295.4M967.2 276.2V291.7M970.2 282.0V302.3M973.2 290.6V300.5M976.2 288.0V302.8M979.2 291.0V298.9M982.2 273.7V294.1M985.2 270.0V282.6M988.2 273.4V284.2M991.2 274.5V282.0M994.2 275.5V283.0M997.2 273.3V285.4M1000.2 270.4V283.8M1003.2 274.3V284.5M1006.2 264.5V283.0M1009.2 258.7V283.0M1012.2 260.0V282.2M1015.2 270.1V302.9M1018.2 286.3V306.8M1021.2 285.7V318.5M1024.2 287.1V305.8M1258.2 349.7V375.4M1261.2 351.3V366.2M1264.2 352.3V366.9M1267.2 351.7V366.4M1270.2 350.3V368.0M1273.2 355.2V365.5M1276.2 324.3V358.4M1279.2 325.2V355.0M1282.2 323.6V350.2M1285.2 327.5V347.4M1288.2 324.7V346.4M1291.2 334.2V372.6M1324.2 367.0V379.7M1327.2 370.2V379.0M1351.2 363.0V378.6M1354.2 366.0V374.7M1357.2 363.1V379.2M1369.2 307.0V372.4M1372.2 319.7V358.4M1375.2 324.2V357.3M1378.2 309.8V342.4M1381.2 305.5V325.8M1384.2 304.2V336.1M1387.2 292.0V318.6M1390.2 292.0V374.0M1393.2 285.0V312.6M1396.2 271.0V293.8M1399.2 269.0V288.8M1402.2 268.0V290.2M1405.2 233.6V273.5M1408.2 223.3V264.8M1411.2 226.5V264.2M1414.2 237.0V257.7M1417.2 240.7V258.0M1420.2 237.6V255.3M1423.2 237.0V254.3M1426.2 239.4V253.7M1429.2 230.3V251.2M1432.2 229.5V246.2M1435.2 228.0V248.7M1438.2 228.0V245.9M1441.2 228.3V243.3M1444.2 225.8V234.2M1447.2 225.0V236.5M1450.2 225.0V236.1M1453.2 226.5V238.2M1456.2 232.4V247.8M1459.2 241.1V249.0M1462.2 241.1V249.0M1465.2 240.6V248.9M1468.2 239.1V248.9M1471.2 228.4V243.4M1474.2 231.2V238.6M1477.2 230.5V237.5M1480.2 226.9V238.1M1483.2 225.0V239.3M1486.2 220.9V233.2M1489.2 219.4V230.4M1492.2 219.0V232.6M1495.2 220.5V230.3M1498.2 224.0V238.4M1501.2 229.5V238.5M1504.2 228.8V237.5M1507.2 228.0V238.2M1510.2 230.0V238.7M1513.2 178.4V234.2M1516.2 188.9V227.0M1519.2 137.6V208.6M1522.2 130.7V165.3M1525.2 141.7V164.6M1528.2 144.7V166.0M1531.2 140.9V162.7M1534.2 106.5V148.7M1537.2 115.6V145.9M1540.2 119.4V146.1M1543.2 130.1V149.8M1546.2 135.0V149.9M1549.2 136.6V149.2M1552.2 135.4V153.0M1555.2 130.5V148.6M1558.2 132.0V144.0M1561.2 130.2V143.1M1564.2 130.9V149.5M1567.2 134.0V146.9M1570.2 141.3V157.0M1573.2 142.1V155.2M1576.2 150.2V168.0M1579.2 150.0V166.7M1582.2 150.0V171.0M1585.2 150.0V165.7M1588.2 150.0V160.5M1591.2 150.0V166.9M1594.2 150.3V164.7M1597.2 154.4V186.3M1600.2 179.4V185.7M1603.2 177.9V185.8M1606.2 182.4V206.9M1609.2 186.0V205.7M1612.2 192.2V202.7M1615.2 191.9V202.3M1618.2 187.7V206.6M1621.2 190.5V206.2M1624.2 191.8V209.6M1627.2 195.7V209.5M1630.2 195.0V209.7M1633.2 193.3V204.5M1636.2 191.7V208.5M1639.2 196.7V206.3M1642.2 196.3V210.8M1645.2 192.7V207.1M1648.2 193.9V211.0M1651.2 178.5V223.0M1654.2 187.4V214.8M1657.2 190.9V220.1M1660.2 206.0V245.1M1663.2 210.4V244.9M1666.2 211.7V246.0M1669.2 158.0V221.0M1672.2 158.1V193.9M1675.2 167.6V211.0M1678.2 164.0V207.8M1681.2 172.6V183.2M1684.2 170.3V180.6M1687.2 103.7V173.7M1690.2 109.2V169.0M1693.2 89.5V133.4M1696.2 86.1V105.1M1699.2 83.4V106.5M1702.2 89.7V133.1M1705.2 101.0V123.0M1708.2 94.0V134.1M1711.2 114.0V143.0M1714.2 118.5V134.1M1717.2 116.3V136.1M1720.2 113.1V135.1M1723.2 117.9V136.1M1726.2 106.4V129.0M1729.2 101.6V127.8M1732.2 103.5V129.0M1735.2 105.8V126.1M1738.2 110.3V125.8M1741.2 107.1V128.0M1744.2 113.0V121.1M1747.2 111.2V122.0M1750.2 112.4V118.8M1753.2 111.6V123.0M1756.2 113.2V118.6M1759.2 94.0V117.2M1762.2 95.9V106.7M1765.2 97.3V108.0M1768.2 86.1V101.4M1771.2 85.8V96.4M1774.2 88.6V97.2M1777.2 90.1V98.6M1780.2 88.2V99.8M1783.2 85.5V100.0M1786.2 89.2V95.9M1789.2 87.9V99.9M1792.2 88.1V96.8M1795.2 87.9V94.6M1798.2 73.6V91.7M1801.2 73.0V96.2M1804.2 81.0V130.7M1807.2 108.0V135.1M1810.2 115.1V130.6M1813.2 109.9V140.9M1816.2 114.9V131.2M1819.2 108.0V133.3M1822.2 82.0V119.2M1825.2 87.1V99.9M1828.2 84.8V105.0M1831.2 69.6V98.2M1834.2 67.9V86.5M1837.2 59.2V88.0M1840.2 30.5V76.0M1843.2 28.7V61.2M1846.2 21.8V58.0M1849.2 21.5V54.3M1852.2 20.6V48.4M1855.2 42.1V101.6M1858.2 54.5V103.0M1861.2 91.1V118.4M1864.2 93.2V111.7M1867.2 92.6V109.7M1870.2 89.4V117.3M1873.2 92.8V119.0M1876.2 81.3V105.4M1879.2 76.0V101.8M1882.2 91.1V115.6" stroke="#00ff00" stroke-width="1.2"/><path d="M235.2 296.8V315.9M238.2 296.2V324.5M241.2 295.8V314.5M244.2 286.9V320.3M247.2 272.1V302.5M250.2 268.9V303.9M253.2 269.1V308.1M256.2 263.0V311.6M259.2 280.5V300.4M262.2 271.0V297.5M265.2 285.3V322.6M268.2 303.7V319.3M271.2 306.4V316.3M274.2 299.0V313.3M277.2 301.1V316.3M280.2 303.0V318.2M283.2 279.2V310.1M286.2 278.4V296.0M289.2 288.8V301.7M292.2 292.1V314.8M295.2 303.7V315.5M298.2 301.8V306.3M301.2 301.8V311.7M304.2 309.4V328.5M307.2 319.3V328.5M310.2 319.5V328.1M313.2 321.0V330.8M316.2 314.1V330.8M319.2 318.0V333.8M322.2 316.5V331.3M325.2 319.1V329.1M328.2 317.2V331.3M331.2 307.5V326.1M334.2 307.7V315.4M337.2 305.6V312.4M340.2 304.8V314.7M343.2 305.4V316.4M346.2 308.2V315.8M349.2 305.9V314.2M352.2 307.3V316.2M355.2 308.6V319.3M358.2 307.8V315.3M361.2 307.9V315.8M364.2 307.8V314.8M367.2 307.5V311.2M370.2 289.4V309.3M373.2 289.4V303.2M376.2 293.2V306.2M379.2 294.3V306.7M382.2 291.9V300.9M385.2 292.6V299.0M388.2 289.1V303.3M391.2 286.2V297.5M394.2 290.0V302.1M397.2 291.3V303.8M418.2 307.7V319.1M421.2 307.4V318.5M424.2 308.1V322.0M427.2 313.0V322.5M430.2 314.4V322.4M433.2 306.9V320.4M436.2 307.0V322.2M439.2 308.9V316.5M442.2 305.7V318.7M445.2 305.8V316.7M448.2 306.8V316.8M451.2 306.0V314.7M454.2 306.9V316.1M457.2 308.6V313.0M493.2 306.9V317.4M496.2 307.7V319.5M499.2 309.3V316.2M502.2 309.3V319.3M505.2 311.7V320.3M508.2 302.4V317.3M511.2 308.9V319.7M514.2 309.4V318.3M517.2 254.3V314.7M520.2 254.3V314.7M523.2 229.3V259.1M526.2 214.6V251.1M529.2 244.3V262.2M532.2 250.8V277.1M535.2 238.4V284.3M808.2 374.5V388.5M811.2 366.3V390.3M814.2 360.2V392.4M817.2 363.6V395.1M820.2 334.0V390.0M823.2 337.3V363.2M826.2 312.6V355.5M829.2 316.5V346.6M832.2 300.3V350.6M835.2 315.8V360.0M838.2 309.3V338.5M841.2 313.1V324.8M844.2 310.0V324.0M847.2 280.9V315.5M850.2 274.7V301.0M853.2 283.0V299.6M856.2 253.3V293.8M859.2 262.6V285.4M862.2 274.1V283.3M865.2 275.4V297.4M868.2 281.0V294.9M871.2 281.0V295.1M874.2 282.9V292.0M877.2 283.7V301.9M880.2 278.3V289.7M883.2 280.2V294.8M886.2 282.9V297.2M889.2 278.8V291.8M892.2 277.3V290.6M895.2 274.4V288.8M898.2 258.5V285.6M901.2 260.1V265.8M904.2 259.7V268.1M907.2 261.3V266.9M910.2 260.0V266.5M913.2 257.5V267.1M916.2 257.6V265.9M919.2 261.8V266.8M922.2 263.5V268.0M925.2 261.4V268.9M928.2 262.5V267.7M931.2 259.4V267.4M934.2 258.0V268.6M937.2 255.5V266.0M940.2 255.8V263.4M943.2 253.2V261.6M946.2 255.9V304.0M949.2 279.0V301.4M952.2 284.4V302.9M955.2 274.4V291.5M958.2 281.2V293.3M961.2 277.8V289.2M964.2 278.7V291.2M967.2 280.2V290.0M970.2 282.0V302.1M973.2 291.5V298.6M976.2 289.9V299.8M979.2 291.1V296.9M982.2 276.8V294.1M985.2 271.1V282.2M988.2 276.1V282.2M991.2 276.6V281.7M994.2 276.8V280.8M997.2 274.1V284.3M1000.2 272.5V282.0M1003.2 276.0V283.5M1006.2 267.8V280.4M1009.2 259.2V281.0M1012.2 262.5V281.1M1015.2 270.1V297.5M1018.2 289.7V306.8M1021.2 288.1V316.1M1024.2 288.2V302.2M1258.2 353.1V375.4M1261.2 355.4V364.1M1264.2 356.4V364.6M1267.2 355.3V364.3M1270.2 352.3V363.6M1273.2 355.2V363.1M1276.2 328.1V358.4M1279.2 327.3V351.7M1282.2 325.1V344.5M1285.2 331.3V342.3M1288.2 325.0V343.5M1291.2 334.2V370.4M1324.2 368.9V379.7M1327.2 371.0V377.6M1351.2 366.7V374.0M1354.2 367.4V374.4M1357.2 367.1V378.6M1369.2 308.0V365.9M1372.2 323.1V357.6M1375.2 328.8V357.0M1378.2 312.7V342.4M1381.2 310.8V322.9M1384.2 305.3V331.6M1387.2 295.2V317.0M1390.2 293.6V372.4M1393.2 292.8V308.5M1396.2 272.1V292.0M1399.2 269.5V285.4M1402.2 269.6V286.2M1405.2 235.8V273.5M1408.2 224.4V261.7M1411.2 228.7V261.7M1414.2 240.1V252.9M1417.2 245.1V253.9M1420.2 241.2V251.3M1423.2 241.3V250.2M1426.2 240.7V249.6M1429.2 235.6V249.8M1432.2 232.9V242.6M1435.2 233.1V246.1M1438.2 232.5V241.7M1441.2 231.0V241.2M1444.2 226.6V234.0M1447.2 225.4V234.1M1450.2 226.2V235.4M1453.2 229.9V236.4M1456.2 232.4V247.5M1459.2 241.4V247.7M1462.2 242.6V248.8M1465.2 242.2V247.9M1468.2 242.0V248.8M1471.2 231.5V243.4M1474.2 231.5V237.3M1477.2 231.1V235.9M1480.2 229.6V235.8M1483.2 225.7V236.9M1486.2 221.5V230.5M1489.2 222.6V229.7M1492.2 219.4V231.5M1495.2 223.2V229.0M1498.2 224.0V237.2M1501.2 232.0V237.0M1504.2 230.9V236.0M1507.2 229.7V235.9M1510.2 232.5V237.0M1513.2 183.8V234.2M1516.2 194.9V219.4M1519.2 144.8V208.6M1522.2 138.9V156.6M1525.2 147.9V159.5M1528.2 148.6V164.3M1531.2 142.4V162.1M1534.2 107.3V148.7M1537.2 119.7V140.8M1540.2 122.1V143.4M1543.2 130.1V148.1M1546.2 137.8V146.7M1549.2 139.9V145.4M1552.2 138.0V152.3M1555.2 131.5V146.4M1558.2 132.7V141.5M1561.2 133.1V139.4M1564.2 135.7V145.5M1567.2 137.8V145.7M1570.2 141.3V156.6M1573.2 145.7V152.1M1576.2 151.3V166.7M1579.2 152.2V163.0M1582.2 153.7V168.6M1585.2 154.2V163.2M1588.2 152.0V159.8M1591.2 151.0V164.6M1594.2 153.4V164.4M1597.2 154.4V184.7M1600.2 179.9V183.8M1603.2 179.7V185.7M1606.2 182.4V205.5M1609.2 186.9V205.6M1612.2 194.8V202.2M1615.2 191.9V199.7M1618.2 192.2V206.2M1621.2 194.0V206.0M1624.2 194.1V209.0M1627.2 199.2V209.0M1630.2 198.4V209.7M1633.2 194.8V204.5M1636.2 196.3V204.3M1639.2 199.2V205.8M1642.2 197.9V209.4M1645.2 196.0V203.5M1648.2 194.0V209.8M1651.2 190.4V212.4M1654.2 190.4V210.4M1657.2 199.1V216.5M1660.2 206.0V245.0M1663.2 217.5V237.7M1666.2 218.8V243.8M1669.2 167.3V221.0M1672.2 159.3V188.6M1675.2 168.9V207.1M1678.2 176.3V203.3M1681.2 175.2V181.0M1684.2 172.3V178.8M1687.2 115.2V173.7M1690.2 122.2V166.5M1693.2 90.8V133.4M1696.2 87.4V102.9M1699.2 88.0V100.7M1702.2 89.7V132.0M1705.2 101.4V120.6M1708.2 100.8V123.6M1711.2 115.5V135.5M1714.2 121.9V133.7M1717.2 117.0V130.3M1720.2 116.2V130.2M1723.2 118.7V131.7M1726.2 107.6V127.5M1729.2 103.1V121.9M1732.2 110.8V127.2M1735.2 109.6V124.8M1738.2 114.8V124.3M1741.2 112.3V128.0M1744.2 113.0V120.6M1747.2 114.0V121.8M1750.2 114.1V117.6M1753.2 111.7V119.9M1756.2 114.7V118.0M1759.2 94.5V117.2M1762.2 96.5V106.4M1765.2 98.1V106.8M1768.2 88.9V101.4M1771.2 86.4V93.4M1774.2 89.7V94.7M1777.2 92.0V98.3M1780.2 89.6V99.5M1783.2 87.4V99.2M1786.2 91.1V94.4M1789.2 88.6V97.1M1792.2 90.4V95.3M1795.2 88.0V94.6M1798.2 78.9V91.6M1801.2 75.2V93.3M1804.2 81.0V126.0M1807.2 109.5V127.5M1810.2 118.4V129.5M1813.2 117.4V133.6M1816.2 115.9V128.3M1819.2 112.1V127.8M1822.2 85.5V119.2M1825.2 87.7V99.0M1828.2 86.7V103.1M1831.2 70.4V98.2M1834.2 69.9V82.5M1837.2 61.4V82.2M1840.2 33.2V76.0M1843.2 31.4V60.9M1846.2 22.5V49.8M1849.2 24.3V46.8M1852.2 22.0V47.0M1855.2 42.1V98.4M1858.2 63.3V98.8M1861.2 91.9V111.7M1864.2 94.0V107.0M1867.2 94.7V105.5M1870.2 97.4V114.6M1873.2 95.6V116.0M1876.2 85.7V105.4M1879.2 81.8V95.5M1882.2 91.1V114.3" stroke="#00ff00" stroke-width="2.2"/><path d="M232.2 300.0V362.0M400.2 296.4V353.0M403.2 320.7V354.2M406.2 313.2V352.9M409.2 319.6V342.2M412.2 303.5V336.0M415.2 310.6V328.2M460.2 310.1V334.7M463.2 320.5V334.4M469.2 315.0V325.0M472.2 311.6V327.0M475.2 312.2V327.0M478.2 314.7V327.0M481.2 313.2V327.0M484.2 316.3V327.0M487.2 311.2V321.8M490.2 313.1V324.1M538.2 275.0V351.0M781.2 386.1V402.5M784.2 389.3V401.8M787.2 385.4V404.0M790.2 385.0V401.4M799.2 378.4V412.3M802.2 371.2V388.8M805.2 370.2V390.0M1027.2 319.0V367.0M1030.2 319.0V367.0M1249.2 360.3V395.7M1252.2 358.8V390.1M1255.2 365.0V393.3M1294.2 363.7V399.4M1297.2 379.1V399.7M1315.2 370.7V390.9M1318.2 373.7V386.0M1321.2 371.4V383.6M1330.2 372.6V390.6M1345.2 369.6V392.9M1348.2 364.0V385.0M1360.2 364.4V382.0M1363.2 363.9V382.0M1366.2 365.4V376.7M1885.2 111.0V264.0M1888.2 111.0V264.0" stroke="#ffff00" stroke-width="1.2"/><path d="M232.2 301.2V360.8M400.2 296.4V345.2M403.2 322.0V349.9M406.2 322.0V343.7M409.2 320.5V336.4M412.2 307.4V336.0M415.2 312.5V324.2M460.2 310.1V334.5M463.2 322.4V331.3M469.2 316.5V324.2M472.2 312.8V325.9M475.2 313.6V325.9M478.2 316.4V323.9M481.2 314.5V326.1M484.2 319.3V325.9M487.2 313.5V321.6M490.2 313.3V321.2M538.2 276.5V349.5M781.2 389.7V402.3M784.2 389.3V398.4M787.2 387.5V403.1M790.2 385.6V397.9M799.2 378.5V412.3M802.2 374.9V388.3M805.2 371.9V389.3M1027.2 320.0V366.0M1030.2 320.0V366.0M1249.2 360.7V395.7M1252.2 358.8V383.1M1255.2 370.3V386.9M1294.2 363.7V397.0M1297.2 382.2V394.1M1315.2 376.4V390.9M1318.2 375.6V384.5M1321.2 372.3V382.9M1330.2 372.6V388.2M1345.2 369.9V392.9M1348.2 366.0V381.5M1360.2 366.3V378.0M1363.2 366.9V381.5M1366.2 368.6V376.6M1885.2 114.1V260.9M1888.2 114.1V260.9" stroke="#ffff00" stroke-width="2.2"/></g>
</g>
<text x="527.8" y="77.6" class="lt" style="letter-spacing:1.5px">-2000</text><text x="527.0" y="99.9" class="lt">Sell</text><path d="M525.5 116.0V132.0" stroke="#f0224d" stroke-width="3"/><path d="M517.5 131.0L533.5 131.0L525.5 141.0Z" fill="#f0224d"/><path d="M509.5 156.5H540.0Q543.0 156.5 543.0 159.5V181.0Q543.0 184.0 540.0 184.0H533.5L525.0 192.3L516.5 184.0H509.5Q506.5 184.0 506.5 181.0V159.5Q506.5 156.5 509.5 156.5Z" fill="#ffff00" stroke="#151821" stroke-opacity="0.6" stroke-width="1.5" paint-order="stroke"/><text x="525.0" y="174.6" class="bt" fill="#2a2a20" font-size="12.0">TP</text><text x="909.8" y="128.2" class="lt" style="letter-spacing:1.5px">-2000</text><text x="909.0" y="150.5" class="lt">Sell</text><path d="M908.0 167.0V182.0" stroke="#f0224d" stroke-width="3"/><path d="M900.0 181.0L916.0 181.0L908.0 191.0Z" fill="#f0224d"/><path d="M892.0 206.0H922.5Q925.5 206.0 925.5 209.0V231.0Q925.5 234.0 922.5 234.0H916.0L907.5 242.5L899.0 234.0H892.0Q889.0 234.0 889.0 231.0V209.0Q889.0 206.0 892.0 206.0Z" fill="#ffff00" stroke="#151821" stroke-opacity="0.6" stroke-width="1.5" paint-order="stroke"/><text x="907.5" y="224.3" class="bt" fill="#2a2a20" font-size="12.0">TP</text><text x="1107.8" y="223.2" class="lt" style="letter-spacing:1.5px">-2000</text><text x="1107.0" y="245.5" class="lt">Sell</text><path d="M1105.0 262.0V277.0" stroke="#f0224d" stroke-width="3"/><path d="M1097.0 276.0L1113.0 276.0L1105.0 286.0Z" fill="#f0224d"/><path d="M1087.0 299.5H1118.0Q1121.0 299.5 1121.0 302.5V320.0Q1121.0 323.0 1118.0 323.0H1111.0L1102.5 330.0L1094.0 323.0H1087.0Q1084.0 323.0 1084.0 320.0V302.5Q1084.0 299.5 1087.0 299.5Z" fill="#ee1b1b" stroke="#151821" stroke-opacity="0.6" stroke-width="1.5" paint-order="stroke"/><text x="1102.5" y="315.6" class="bt" fill="#ffffff" font-size="12.0" font-weight="bold">Sell</text><text x="1568.8" y="31.2" class="lt" style="letter-spacing:1.5px">-2000</text><text x="1568.0" y="53.5" class="lt">Sell</text><path d="M1567.0 60.0V74.0" stroke="#f0224d" stroke-width="3"/><path d="M1559.0 73.0L1575.0 73.0L1567.0 83.0Z" fill="#f0224d"/><path d="M1552.0 86.0H1582.0Q1585.0 86.0 1585.0 89.0V111.0Q1585.0 114.0 1582.0 114.0H1575.5L1567.0 122.0L1558.5 114.0H1552.0Q1549.0 114.0 1549.0 111.0V89.0Q1549.0 86.0 1552.0 86.0Z" fill="#ffff00" stroke="#151821" stroke-opacity="0.6" stroke-width="1.5" paint-order="stroke"/><text x="1567.0" y="104.3" class="bt" fill="#2a2a20" font-size="12.0">TP</text><text x="1889.8" y="-11.8" class="lt" style="letter-spacing:1.5px">-2000</text><text x="1889.0" y="10.5" class="lt">Sell</text><path d="M1889.6 16.0V31.0" stroke="#f0224d" stroke-width="3"/><path d="M1881.6 30.0L1897.6 30.0L1889.6 40.0Z" fill="#f0224d"/><path d="M1873.0 42.0H1906.0Q1909.0 42.0 1909.0 45.0V63.0Q1909.0 66.0 1906.0 66.0H1898.0L1889.5 72.5L1881.0 66.0H1873.0Q1870.0 66.0 1870.0 63.0V45.0Q1870.0 42.0 1873.0 42.0Z" fill="#ee1b1b" stroke="#151821" stroke-opacity="0.6" stroke-width="1.5" paint-order="stroke"/><text x="1889.5" y="58.3" class="bt" fill="#ffffff" font-size="12.0" font-weight="bold">Sell</text><path d="M211.0 407.0H219.1L227.6 400.0L236.1 407.0H244.0Q247.0 407.0 247.0 410.0V428.0Q247.0 431.0 244.0 431.0H211.0Q208.0 431.0 208.0 428.0V410.0Q208.0 407.0 211.0 407.0Z" fill="#1fe41f" stroke="#151821" stroke-opacity="0.6" stroke-width="1.5" paint-order="stroke"/><text x="227.6" y="423.3" class="bt" fill="#187018" font-size="12.0">Buy</text><path d="M227.0 447.0V464.0" stroke="#2962ff" stroke-width="3"/><path d="M219.0 448.0L235.0 448.0L227.0 439.0Z" fill="#2962ff"/><text x="228.0" y="491.4" class="lt">Buy</text><text x="228.4" y="513.7" class="lt" style="letter-spacing:0.8px">+2000</text><path d="M801.0 429.0H809.0L817.5 421.7L826.0 429.0H835.0Q838.0 429.0 838.0 432.0V450.0Q838.0 453.0 835.0 453.0H801.0Q798.0 453.0 798.0 450.0V432.0Q798.0 429.0 801.0 429.0Z" fill="#1fe41f" stroke="#151821" stroke-opacity="0.6" stroke-width="1.5" paint-order="stroke"/><text x="817.5" y="445.3" class="bt" fill="#187018" font-size="12.0">Buy</text><path d="M817.5 464.0V478.0" stroke="#2962ff" stroke-width="3"/><path d="M809.5 465.0L825.5 465.0L817.5 456.0Z" fill="#2962ff"/><text x="817.5" y="495.8" class="lt">Buy</text><text x="817.9" y="518.1" class="lt" style="letter-spacing:0.8px">+2000</text><path d="M1268.0 415.0H1273.5L1282.0 406.5L1290.5 415.0H1296.0Q1299.0 415.0 1299.0 418.0V440.0Q1299.0 443.0 1296.0 443.0H1268.0Q1265.0 443.0 1265.0 440.0V418.0Q1265.0 415.0 1268.0 415.0Z" fill="#ffff00" stroke="#151821" stroke-opacity="0.6" stroke-width="1.5" paint-order="stroke"/><text x="1282.0" y="433.3" class="bt" fill="#2a2a20" font-size="12.0">SL</text><path d="M1282.0 458.0V474.0" stroke="#2962ff" stroke-width="3"/><path d="M1274.0 459.0L1290.0 459.0L1282.0 450.0Z" fill="#2962ff"/><text x="1281.5" y="491.8" class="lt">Buy</text><text x="1281.9" y="514.1" class="lt" style="letter-spacing:0.8px">+2000</text><path d="M1377.0 395.0H1385.5L1394.0 388.5L1402.5 395.0H1411.0Q1414.0 395.0 1414.0 398.0V417.0Q1414.0 420.0 1411.0 420.0H1377.0Q1374.0 420.0 1374.0 417.0V398.0Q1374.0 395.0 1377.0 395.0Z" fill="#1fe41f" stroke="#151821" stroke-opacity="0.6" stroke-width="1.5" paint-order="stroke"/><text x="1394.0" y="411.8" class="bt" fill="#187018" font-size="12.0">Buy</text><path d="M1393.0 446.0V463.0" stroke="#2962ff" stroke-width="3"/><path d="M1385.0 447.0L1401.0 447.0L1393.0 438.0Z" fill="#2962ff"/><text x="1394.0" y="490.8" class="lt">Buy</text><text x="1394.4" y="513.1" class="lt" style="letter-spacing:0.8px">+2000</text><path d="M1896.0 396.0H1905.5L1914.0 387.0L1922.5 396.0H1933.0Q1936.0 396.0 1936.0 399.0V426.0Q1936.0 429.0 1933.0 429.0H1896.0Q1893.0 429.0 1893.0 426.0V399.0Q1893.0 396.0 1896.0 396.0Z" fill="#ffff00" stroke="#151821" stroke-opacity="0.6" stroke-width="1.5" paint-order="stroke"/><text x="1914.0" y="416.8" class="bt" fill="#2a2a20" font-size="13.0">TP</text><path d="M1914.0 449.0V466.0" stroke="#2962ff" stroke-width="3"/><path d="M1906.0 450.0L1922.0 450.0L1914.0 441.0Z" fill="#2962ff"/><text x="1910.0" y="488.8" class="lt">Buy</text><text x="1910.4" y="511.1" class="lt" style="letter-spacing:0.8px">+2000</text>
<text x="12.0" y="561" class="st">Net Profit</text><circle cx="101.0" cy="554.0" r="10.2" fill="#5d606b"/><rect x="99.6" y="551.5" width="2.8" height="7.5" rx="1" fill="#1b1e27"/><circle cx="101.0" cy="548.4" r="1.6" fill="#1b1e27"/><text x="12.0" y="585" class="sv" fill="#22ab94">2,370,470.00 USD</text><text x="181.6" y="585.7" class="sv2" fill="#22ab94">237.05%</text><text x="375.0" y="561" class="st">Total Closed Trades</text><circle cx="541.6" cy="554.0" r="10.2" fill="#5d606b"/><rect x="540.2" y="551.5" width="2.8" height="7.5" rx="1" fill="#1b1e27"/><circle cx="541.6" cy="548.4" r="1.6" fill="#1b1e27"/><text x="375.0" y="585" class="sv" fill="#d1d4dc">74</text><text x="678.6" y="561" class="st">Percent Profitable</text><circle cx="831.7" cy="554.0" r="10.2" fill="#5d606b"/><rect x="830.3" y="551.5" width="2.8" height="7.5" rx="1" fill="#1b1e27"/><circle cx="831.7" cy="548.4" r="1.6" fill="#1b1e27"/><text x="678.6" y="585" class="sv" fill="#22ab94">45.95%</text><text x="970.0" y="561" class="st">Profit Factor</text><circle cx="1081.0" cy="554.0" r="10.2" fill="#5d606b"/><rect x="1079.6" y="551.5" width="2.8" height="7.5" rx="1" fill="#1b1e27"/><circle cx="1081.0" cy="548.4" r="1.6" fill="#1b1e27"/><text x="970.0" y="585" class="sv" fill="#22ab94">1.858</text><text x="1217.5" y="561" class="st">Max Drawdown</text><circle cx="1349.0" cy="554.0" r="10.2" fill="#5d606b"/><rect x="1347.6" y="551.5" width="2.8" height="7.5" rx="1" fill="#1b1e27"/><circle cx="1349.0" cy="548.4" r="1.6" fill="#1b1e27"/><text x="1217.5" y="585" class="sv" fill="#f23645">568,510.00 USD</text><text x="1371.6" y="585.7" class="sv2" fill="#f23645">18.61%</text><text x="1554.0" y="561" class="st">Avg Trade</text><circle cx="1646.0" cy="554.0" r="10.2" fill="#5d606b"/><rect x="1644.6" y="551.5" width="2.8" height="7.5" rx="1" fill="#1b1e27"/><circle cx="1646.0" cy="548.4" r="1.6" fill="#1b1e27"/><text x="1554.0" y="585" class="sv" fill="#22ab94">32,033.38 USD</text><text x="1696.0" y="585.7" class="sv2" fill="#22ab94">0.22%</text><text x="1870.0" y="561" class="st">Avg # Bars in Trades</text><circle cx="2041.0" cy="554.0" r="10.2" fill="#5d606b"/><rect x="2039.6" y="551.5" width="2.8" height="7.5" rx="1" fill="#1b1e27"/><circle cx="2041.0" cy="548.4" r="1.6" fill="#1b1e27"/><text x="1870.0" y="585" class="sv" fill="#d1d4dc">35</text>
<path d="M152.7 1000.5 L152.7 999.7 L177.8 959.7 L202.0 964.3 L227.8 964.9 L253.5 901.3 L279.8 885.6 L305.0 907.7 L330.0 898.3 L355.8 869.5 L381.6 864.4 L407.3 858.9 L433.0 879.2 L457.8 837.1 L483.6 830.2 L509.3 858.9 L535.0 850.7 L560.2 870.1 L585.0 790.2 L610.7 791.4 L636.5 769.0 L662.3 770.2 L687.4 773.3 L712.8 728.2 L738.0 752.0 L763.4 763.4 L789.0 775.2 L814.5 787.0 L840.0 776.0 L866.0 765.0 L891.0 748.4 L916.5 764.3 L942.0 778.0 L967.0 760.0 L993.0 766.4 L1018.5 768.4 L1043.7 774.6 L1069.7 749.8 L1095.0 759.6 L1120.0 754.7 L1146.0 767.8 L1171.4 780.0 L1196.8 793.0 L1222.8 773.8 L1247.8 748.6 L1273.8 758.0 L1299.2 763.0 L1324.3 761.0 L1349.8 756.2 L1375.0 774.5 L1400.4 719.8 L1426.0 731.0 L1451.5 722.0 L1477.0 725.6 L1502.6 714.7 L1528.0 723.4 L1553.5 731.0 L1579.2 668.2 L1604.0 687.9 L1629.8 688.7 L1655.2 694.1 L1680.6 694.1 L1705.8 688.7 L1731.8 688.4 L1757.2 692.0 L1783.0 703.7 L1807.7 730.6 L1832.6 734.7 L1858.4 746.7 L1884.1 734.7 L1909.7 747.3 L1935.5 692.4 L1960.8 680.1 L1985.5 692.4 L2011.3 711.3 L2037.0 618.3 L2037 1000.5Z" fill="url(#eqg)"/>
<polyline points="152.7,999.7 177.8,959.7 202.0,964.3 227.8,964.9 253.5,901.3 279.8,885.6 305.0,907.7 330.0,898.3 355.8,869.5 381.6,864.4 407.3,858.9 433.0,879.2 457.8,837.1 483.6,830.2 509.3,858.9 535.0,850.7 560.2,870.1 585.0,790.2 610.7,791.4 636.5,769.0 662.3,770.2 687.4,773.3 712.8,728.2 738.0,752.0 763.4,763.4 789.0,775.2 814.5,787.0 840.0,776.0 866.0,765.0 891.0,748.4 916.5,764.3 942.0,778.0 967.0,760.0 993.0,766.4 1018.5,768.4 1043.7,774.6 1069.7,749.8 1095.0,759.6 1120.0,754.7 1146.0,767.8 1171.4,780.0 1196.8,793.0 1222.8,773.8 1247.8,748.6 1273.8,758.0 1299.2,763.0 1324.3,761.0 1349.8,756.2 1375.0,774.5 1400.4,719.8 1426.0,731.0 1451.5,722.0 1477.0,725.6 1502.6,714.7 1528.0,723.4 1553.5,731.0 1579.2,668.2 1604.0,687.9 1629.8,688.7 1655.2,694.1 1680.6,694.1 1705.8,688.7 1731.8,688.4 1757.2,692.0 1783.0,703.7 1807.7,730.6 1832.6,734.7 1858.4,746.7 1884.1,734.7 1909.7,747.3 1935.5,692.4 1960.8,680.1 1985.5,692.4 2011.3,711.3 2037.0,618.3" fill="none" stroke="#38a08c" stroke-width="2.3" stroke-linejoin="round"/>
<text x="129" y="640.8" class="yl">3,250,000.00</text><text x="129" y="681.2" class="yl">3,000,000.00</text><text x="129" y="721.6" class="yl">2,750,000.00</text><text x="129" y="762.0" class="yl">2,500,000.00</text><text x="129" y="802.4" class="yl">2,250,000.00</text><text x="129" y="842.8" class="yl">2,000,000.00</text><text x="129" y="883.1" class="yl">1,750,000.00</text><text x="129" y="923.5" class="yl">1,500,000.00</text><text x="129" y="963.9" class="yl">1,250,000.00</text><text x="129" y="1004.3" class="yl">1,000,000.00</text>
</svg>
</body></html>
